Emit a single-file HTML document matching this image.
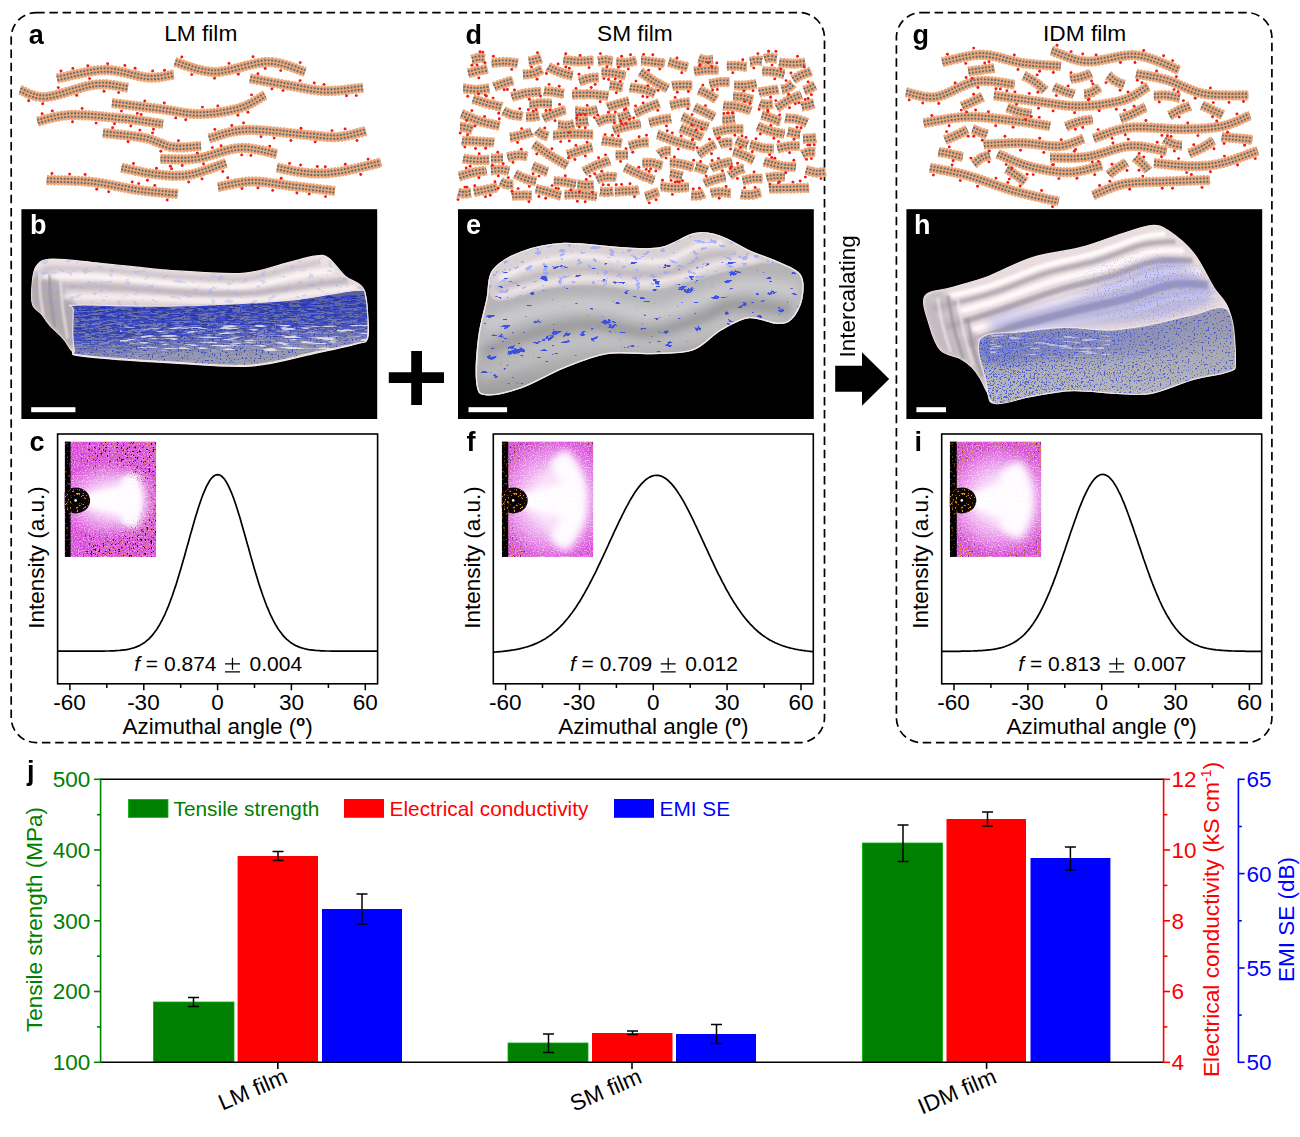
<!DOCTYPE html><html><head><meta charset="utf-8"><title>Figure</title>
<style>html,body{margin:0;padding:0;background:#fff}svg{display:block}text{font-family:"Liberation Sans",sans-serif}</style></head><body>
<svg width="1300" height="1137" viewBox="0 0 1300 1137">
<defs>
<filter id="nBlack" x="0" y="0" width="100%" height="100%" color-interpolation-filters="sRGB"><feTurbulence type="fractalNoise" baseFrequency="0.5" numOctaves="1" seed="3"/><feColorMatrix type="matrix" values="0 0 0 0 0.05 0 0 0 0 0 0 0 0 0 0.12 16 0 0 0 -10.4"/></filter>
<filter id="nBlackB" x="0" y="0" width="100%" height="100%" color-interpolation-filters="sRGB"><feTurbulence type="fractalNoise" baseFrequency="0.5" numOctaves="1" seed="33"/><feColorMatrix type="matrix" values="0 0 0 0 0.05 0 0 0 0 0 0 0 0 0 0.12 16 0 0 0 -10.24"/></filter>
<filter id="nOrange" x="0" y="0" width="100%" height="100%" color-interpolation-filters="sRGB"><feTurbulence type="fractalNoise" baseFrequency="0.5" numOctaves="1" seed="11"/><feColorMatrix type="matrix" values="0 0 0 0 0.85 0 0 0 0 0.55 0 0 0 0 0.12 16 0 0 0 -9.84"/></filter>
<filter id="nOrangeB" x="0" y="0" width="100%" height="100%" color-interpolation-filters="sRGB"><feTurbulence type="fractalNoise" baseFrequency="0.5" numOctaves="1" seed="47"/><feColorMatrix type="matrix" values="0 0 0 0 0.85 0 0 0 0 0.55 0 0 0 0 0.12 16 0 0 0 -9.6"/></filter>
<filter id="nWhite" x="0" y="0" width="100%" height="100%" color-interpolation-filters="sRGB"><feTurbulence type="fractalNoise" baseFrequency="0.8" numOctaves="1" seed="5"/><feColorMatrix type="matrix" values="0 0 0 0 1 0 0 0 0 0.92 0 0 0 0 1 6 0 0 0 -3.0"/></filter>
<filter id="nMag" x="0" y="0" width="100%" height="100%" color-interpolation-filters="sRGB"><feTurbulence type="fractalNoise" baseFrequency="0.7" numOctaves="1" seed="8"/><feColorMatrix type="matrix" values="0 0 0 0 0.83 0 0 0 0 0.25 0 0 0 0 0.85 6 0 0 0 -3.12"/></filter>
<filter id="nOrange2" x="0" y="0" width="100%" height="100%" color-interpolation-filters="sRGB"><feTurbulence type="fractalNoise" baseFrequency="0.5" numOctaves="1" seed="21"/><feColorMatrix type="matrix" values="0 0 0 0 0.93 0 0 0 0 0.6 0 0 0 0 0.1 16 0 0 0 -9.6"/></filter>
<filter id="ctB1" x="0" y="0" width="100%" height="100%" color-interpolation-filters="sRGB"><feTurbulence type="fractalNoise" baseFrequency="0.07 0.55" numOctaves="3" seed="4"/><feColorMatrix type="matrix" values="0 0 0 0 0.2 0 0 0 0 0.27 0 0 0 0 0.8 12 0 0 0 -5.699999999999999"/></filter>
<filter id="ctB1b" x="0" y="0" width="100%" height="100%" color-interpolation-filters="sRGB"><feTurbulence type="fractalNoise" baseFrequency="0.12 0.7" numOctaves="2" seed="9"/><feColorMatrix type="matrix" values="0 0 0 0 0.13 0 0 0 0 0.18 0 0 0 0 0.62 12 0 0 0 -6.24"/></filter>
<filter id="ctB2" x="0" y="0" width="100%" height="100%" color-interpolation-filters="sRGB"><feTurbulence type="fractalNoise" baseFrequency="0.08 0.2" numOctaves="3" seed="6"/><feColorMatrix type="matrix" values="0 0 0 0 0.24 0 0 0 0 0.32 0 0 0 0 0.9 30 0 0 0 -21.0"/></filter>
<filter id="ctB2t" x="0" y="0" width="100%" height="100%" color-interpolation-filters="sRGB"><feTurbulence type="fractalNoise" baseFrequency="0.12 0.2" numOctaves="3" seed="16"/><feColorMatrix type="matrix" values="0 0 0 0 0.58 0 0 0 0 0.63 0 0 0 0 1 24 0 0 0 -15.600000000000001"/></filter>
<filter id="ctB3" x="0" y="0" width="100%" height="100%" color-interpolation-filters="sRGB"><feTurbulence type="fractalNoise" baseFrequency="0.75" numOctaves="1" seed="2"/><feColorMatrix type="matrix" values="0 0 0 0 0.25 0 0 0 0 0.33 0 0 0 0 0.88 14 0 0 0 -8.19"/></filter>
<filter id="ctB3t" x="0" y="0" width="100%" height="100%" color-interpolation-filters="sRGB"><feTurbulence type="fractalNoise" baseFrequency="0.75" numOctaves="1" seed="12"/><feColorMatrix type="matrix" values="0 0 0 0 0.48 0 0 0 0 0.54 0 0 0 0 0.98 12 0 0 0 -7.199999999999999"/></filter>
<filter id="ctW" x="0" y="0" width="100%" height="100%" color-interpolation-filters="sRGB"><feTurbulence type="fractalNoise" baseFrequency="0.05 0.4" numOctaves="2" seed="31"/><feColorMatrix type="matrix" values="0 0 0 0 1 0 0 0 0 0.97 0 0 0 0 0.98 9 0 0 0 -5.040000000000001"/></filter>
<filter id="ctB4" x="0" y="0" width="100%" height="100%" color-interpolation-filters="sRGB"><feTurbulence type="fractalNoise" baseFrequency="0.5" numOctaves="1" seed="41"/><feColorMatrix type="matrix" values="0 0 0 0 0.22 0 0 0 0 0.3 0 0 0 0 0.85 16 0 0 0 -10.24"/></filter>
<filter id="rough" x="-10%" y="-10%" width="120%" height="120%"><feTurbulence type="fractalNoise" baseFrequency="0.35" numOctaves="2" seed="5" result="t"/><feDisplacementMap in="SourceGraphic" in2="t" scale="5" xChannelSelector="R" yChannelSelector="G"/></filter>
<filter id="bl1" x="-20%" y="-20%" width="140%" height="140%"><feGaussianBlur stdDeviation="1"/></filter>
<filter id="bl2" x="-20%" y="-20%" width="140%" height="140%"><feGaussianBlur stdDeviation="2.2"/></filter>
<filter id="bl4" x="-30%" y="-30%" width="160%" height="160%"><feGaussianBlur stdDeviation="4"/></filter>
<filter id="sb2" filterUnits="userSpaceOnUse" x="-20" y="-20" width="140" height="160"><feGaussianBlur stdDeviation="2.2"/></filter>
<filter id="sb4" filterUnits="userSpaceOnUse" x="-20" y="-20" width="140" height="160"><feGaussianBlur stdDeviation="4"/></filter>
<filter id="bl7" x="-30%" y="-30%" width="160%" height="160%"><feGaussianBlur stdDeviation="7"/></filter>
<radialGradient id="sxHalo" cx="0.5" cy="0.5" r="0.5"><stop offset="0" stop-color="#fff" stop-opacity="1"/><stop offset="0.45" stop-color="#fff" stop-opacity="0.75"/><stop offset="1" stop-color="#fff" stop-opacity="0"/></radialGradient>
<radialGradient id="sxEdge" cx="0.5" cy="0.5" r="0.72"><stop offset="0.45" stop-color="#000" stop-opacity="0"/><stop offset="0.8" stop-color="#fff" stop-opacity="1"/></radialGradient>
<symbol id="saxs0" width="91.5" height="115.5" viewBox="0 0 91.5 115.5" overflow="hidden">
<clipPath id="sxc0"><rect width="91.5" height="115.5"/></clipPath>
<mask id="sxm0" maskUnits="userSpaceOnUse" x="0" y="0" width="91.5" height="115.5"><rect width="91.5" height="115.5" fill="#000"/>
<rect width="91.5" height="115.5" fill="#fff"/><ellipse cx="40" cy="59" rx="50" ry="36" fill="#000" filter="url(#bl7)"/><rect x="-5" y="-5" width="26" height="130" fill="#000" opacity="0.75" filter="url(#bl4)"/>
</mask>
<g clip-path="url(#sxc0)">
<rect width="91.5" height="115.5" fill="#da52dd"/>
<ellipse cx="46" cy="59" rx="52" ry="40" fill="url(#sxHalo)" opacity="0.80"/>
<path d="M63.5 34.5 A58 58 0 0 1 63.5 83.5" fill="none" stroke="#fff" stroke-width="21" stroke-linecap="butt" filter="url(#sb4)" opacity="0.9"/>
<path d="M63.5 34.5 A58 58 0 0 1 63.5 83.5" fill="none" stroke="#fff" stroke-width="13" stroke-linecap="butt" filter="url(#sb2)" opacity="1"/>
<path d="M20.9 52 L68.9 40.0 L68.9 78.0 L20.9 66 Z" fill="#fff" filter="url(#sb4)" opacity="0.95"/>
<path d="M22.9 54 L64.9 45.0 L64.9 73.0 L22.9 64 Z" fill="#fff" filter="url(#sb2)" opacity="0.9"/>
<rect width="91.5" height="115.5" filter="url(#nWhite)" opacity="0.55"/>
<g mask="url(#sxm0)">
<rect width="91.5" height="115.5" filter="url(#nMag)" opacity="0.6"/>
<rect width="91.5" height="115.5" filter="url(#nOrange)" opacity="1.00"/>
<rect width="91.5" height="115.5" filter="url(#nBlack)" opacity="1.00"/>
<rect width="91.5" height="115.5" filter="url(#nOrangeB)"/>
<rect width="91.5" height="115.5" filter="url(#nBlackB)"/>
</g>
<rect width="5.9" height="115.5" fill="#000"/>
<clipPath id="sxb0"><ellipse cx="10.9" cy="59" rx="14.5" ry="13"/></clipPath>
<ellipse cx="10.9" cy="59" rx="14.5" ry="13" fill="#0a0206"/>
<g clip-path="url(#sxb0)"><rect x="0" y="40" width="40" height="40" filter="url(#nOrange2)" opacity="0.95"/><circle cx="10.9" cy="59" r="5" fill="#000"/><circle cx="10.9" cy="59" r="1.3" fill="#fff"/></g>
<rect width="5.9" height="115.5" filter="url(#nOrange)" opacity="0.45"/>
</g></symbol>
<symbol id="saxs1" width="91.5" height="115.5" viewBox="0 0 91.5 115.5" overflow="hidden">
<clipPath id="sxc1"><rect width="91.5" height="115.5"/></clipPath>
<mask id="sxm1" maskUnits="userSpaceOnUse" x="0" y="0" width="91.5" height="115.5"><rect width="91.5" height="115.5" fill="#000"/>
<rect width="91.5" height="115.5" fill="#fff"/><ellipse cx="60" cy="59" rx="58" ry="64" fill="#000" filter="url(#bl7)"/>
</mask>
<g clip-path="url(#sxc1)">
<rect width="91.5" height="115.5" fill="#da52dd"/>
<ellipse cx="50" cy="59" rx="60" ry="62" fill="url(#sxHalo)" opacity="0.85"/>
<path d="M56.0 15.9 A62 62 0 0 1 56.0 102.1" fill="none" stroke="#fff" stroke-width="23" stroke-linecap="butt" filter="url(#sb4)" opacity="0.9"/>
<path d="M56.0 15.9 A62 62 0 0 1 56.0 102.1" fill="none" stroke="#fff" stroke-width="15" stroke-linecap="butt" filter="url(#sb4)" opacity="0.95"/>
<path d="M19.4 59 L56.0 15.9 A62 62 0 0 1 56.0 102.1 Z" fill="#fff" opacity="0.4" filter="url(#sb4)"/>
<path d="M21.4 52 L73.4 39.0 L73.4 79.0 L21.4 66 Z" fill="#fff" filter="url(#sb4)" opacity="0.95"/>
<path d="M23.4 54 L69.4 44.0 L69.4 74.0 L23.4 64 Z" fill="#fff" filter="url(#sb2)" opacity="0.9"/>
<rect width="91.5" height="115.5" filter="url(#nWhite)" opacity="0.55"/>
<g mask="url(#sxm1)">
<rect width="91.5" height="115.5" filter="url(#nMag)" opacity="0.6"/>
<rect width="91.5" height="115.5" filter="url(#nOrange)" opacity="0.75"/>
<rect width="91.5" height="115.5" filter="url(#nBlack)" opacity="0.80"/>
</g>
<rect width="6.4" height="115.5" fill="#000"/>
<clipPath id="sxb1"><ellipse cx="11.4" cy="59" rx="14.5" ry="13"/></clipPath>
<ellipse cx="11.4" cy="59" rx="14.5" ry="13" fill="#0a0206"/>
<g clip-path="url(#sxb1)"><rect x="0" y="40" width="40" height="40" filter="url(#nOrange2)" opacity="0.95"/><circle cx="11.4" cy="59" r="5" fill="#000"/><circle cx="11.4" cy="59" r="1.3" fill="#fff"/></g>
<rect width="6.4" height="115.5" filter="url(#nOrange)" opacity="0.45"/>
</g></symbol>
<symbol id="saxs2" width="91.5" height="115.5" viewBox="0 0 91.5 115.5" overflow="hidden">
<clipPath id="sxc2"><rect width="91.5" height="115.5"/></clipPath>
<mask id="sxm2" maskUnits="userSpaceOnUse" x="0" y="0" width="91.5" height="115.5"><rect width="91.5" height="115.5" fill="#000"/>
<rect width="91.5" height="115.5" fill="#fff"/><ellipse cx="50" cy="59" rx="50" ry="52" fill="#000" filter="url(#bl7)"/>
</mask>
<g clip-path="url(#sxc2)">
<rect width="91.5" height="115.5" fill="#da52dd"/>
<ellipse cx="50" cy="59" rx="58" ry="56" fill="url(#sxHalo)" opacity="0.90"/>
<path d="M60.1 26.6 A58 58 0 0 1 60.1 91.4" fill="none" stroke="#fff" stroke-width="26" stroke-linecap="butt" filter="url(#sb4)" opacity="0.9"/>
<path d="M60.1 26.6 A58 58 0 0 1 60.1 91.4" fill="none" stroke="#fff" stroke-width="18" stroke-linecap="butt" filter="url(#sb4)" opacity="0.95"/>
<path d="M20.0 59 L60.1 26.6 A58 58 0 0 1 60.1 91.4 Z" fill="#fff" opacity="0.5" filter="url(#sb4)"/>
<path d="M22.0 52 L70.0 36.0 L70.0 82.0 L22.0 66 Z" fill="#fff" filter="url(#sb4)" opacity="0.95"/>
<path d="M24.0 54 L66.0 41.0 L66.0 77.0 L24.0 64 Z" fill="#fff" filter="url(#sb2)" opacity="0.9"/>
<rect width="91.5" height="115.5" filter="url(#nWhite)" opacity="0.55"/>
<g mask="url(#sxm2)">
<rect width="91.5" height="115.5" filter="url(#nMag)" opacity="0.6"/>
<rect width="91.5" height="115.5" filter="url(#nOrange)" opacity="0.90"/>
<rect width="91.5" height="115.5" filter="url(#nBlack)" opacity="0.55"/>
</g>
<rect width="7.0" height="115.5" fill="#000"/>
<clipPath id="sxb2"><ellipse cx="12.0" cy="59" rx="14.5" ry="13"/></clipPath>
<ellipse cx="12.0" cy="59" rx="14.5" ry="13" fill="#0a0206"/>
<g clip-path="url(#sxb2)"><rect x="0" y="40" width="40" height="40" filter="url(#nOrange2)" opacity="0.95"/><circle cx="12.0" cy="59" r="5" fill="#000"/><circle cx="12.0" cy="59" r="1.3" fill="#fff"/></g>
<rect width="7.0" height="115.5" filter="url(#nOrange)" opacity="0.45"/>
</g></symbol>
</defs>
<rect width="1300" height="1137" fill="#fff"/>
<g fill="none" stroke="#000" stroke-width="1.7" stroke-dasharray="8.5 4.7">
<rect x="11.2" y="12.6" width="813.3" height="730" rx="25" ry="25"/>
<rect x="896.4" y="12.6" width="375.5" height="730" rx="25" ry="25"/>
</g>
<g font-size="22.7" fill="#000">
<text x="164.2" y="40.8">LM film</text>
<text x="597" y="40.8">SM film</text>
<text x="1043" y="40.8">IDM film</text>
</g>
<defs><path id="pl" d="M57.0 78.5 L59.0 78.1 L61.4 77.6 L64.2 77.0 L67.4 76.2 L70.8 75.4 L74.5 74.6 L78.3 73.8 L82.3 73.0 L86.3 72.2 L90.3 71.5 L94.2 70.9 L98.0 70.4 L101.6 70.1 L105.0 70.0 L108.3 70.1 L111.6 70.3 L114.9 70.7 L118.1 71.3 L121.4 71.9 L124.7 72.6 L127.9 73.4 L131.0 74.2 L134.1 74.9 L137.1 75.7 L140.0 76.3 L142.8 76.8 L145.5 77.2 L148.0 77.5 L150.4 77.6 L152.8 77.6 L155.2 77.5 L157.4 77.3 L159.6 77.1 L161.7 76.8 L163.7 76.5 L165.6 76.1 L167.3 75.8 L169.0 75.4 L170.5 75.1 L171.8 74.9 L173.0 74.6 L174.0 74.5 M20.0 90.0 L21.0 90.3 L22.1 90.8 L23.4 91.4 L24.9 92.1 L26.4 92.8 L28.1 93.5 L29.9 94.3 L31.9 95.0 L34.0 95.6 L36.1 96.2 L38.4 96.7 L40.9 97.0 L43.4 97.1 L46.0 97.0 L48.8 96.7 L51.9 96.1 L55.3 95.3 L58.8 94.4 L62.5 93.4 L66.2 92.2 L70.1 91.0 L73.9 89.8 L77.7 88.7 L81.5 87.6 L85.1 86.6 L88.6 85.7 L91.9 85.1 L95.0 84.6 L97.9 84.4 L100.8 84.3 L103.7 84.3 L106.6 84.4 L109.3 84.7 L112.0 85.0 L114.6 85.4 L117.0 85.8 L119.3 86.2 L121.4 86.6 L123.4 87.0 L125.2 87.3 L126.7 87.5 L128.0 87.7 M175.0 62.0 L176.6 62.5 L178.5 63.1 L180.7 63.8 L183.1 64.7 L185.8 65.7 L188.7 66.6 L191.7 67.6 L194.8 68.6 L198.1 69.5 L201.5 70.3 L204.8 71.0 L208.3 71.5 L211.6 71.9 L215.0 72.0 L218.4 71.9 L222.0 71.4 L225.8 70.8 L229.7 70.0 L233.6 69.1 L237.6 68.1 L241.7 67.0 L245.7 65.9 L249.7 64.9 L253.6 64.0 L257.5 63.2 L261.2 62.6 L264.7 62.1 L268.0 62.0 L271.2 62.1 L274.4 62.5 L277.7 63.0 L280.8 63.7 L283.9 64.5 L286.9 65.4 L289.8 66.4 L292.6 67.4 L295.2 68.3 L297.6 69.3 L299.8 70.2 L301.8 70.9 L303.5 71.5 L305.0 72.0 M250.0 78.5 L251.7 78.8 L253.9 79.2 L256.4 79.7 L259.2 80.2 L262.2 80.7 L265.5 81.3 L268.9 81.9 L272.4 82.6 L275.9 83.2 L279.4 83.8 L282.8 84.4 L286.1 85.0 L289.1 85.5 L292.0 86.0 L294.7 86.5 L297.3 86.9 L299.8 87.4 L302.2 87.9 L304.6 88.3 L307.0 88.8 L309.3 89.2 L311.6 89.6 L314.0 89.9 L316.3 90.2 L318.7 90.5 L321.1 90.7 L323.5 90.9 L326.0 91.0 L328.6 91.0 L331.5 90.9 L334.4 90.8 L337.4 90.6 L340.5 90.3 L343.6 90.0 L346.6 89.7 L349.6 89.3 L352.4 89.0 L355.0 88.6 L357.5 88.3 L359.6 88.1 L361.5 87.9 L363.0 87.7 M112.0 103.0 L114.0 103.2 L116.4 103.6 L119.3 103.9 L122.4 104.3 L125.9 104.7 L129.6 105.2 L133.5 105.7 L137.5 106.2 L141.5 106.7 L145.5 107.2 L149.4 107.7 L153.1 108.1 L156.7 108.6 L160.0 109.0 L163.1 109.4 L166.1 109.9 L169.1 110.3 L172.0 110.8 L174.9 111.3 L177.7 111.8 L180.5 112.2 L183.3 112.7 L186.0 113.1 L188.8 113.4 L191.6 113.7 L194.4 113.9 L197.2 114.0 L200.0 114.0 L202.9 113.9 L205.8 113.8 L208.8 113.6 L211.9 113.3 L214.9 113.0 L217.9 112.6 L220.9 112.1 L223.9 111.6 L226.8 111.1 L229.7 110.5 L232.4 109.9 L235.1 109.3 L237.6 108.7 L240.0 108.0 L242.3 107.3 L244.6 106.4 L246.8 105.4 L249.0 104.4 L251.1 103.3 L253.1 102.2 L255.0 101.1 L256.8 100.0 L258.5 99.0 L260.1 98.0 L261.6 97.1 L262.9 96.2 L264.0 95.5 L265.0 95.0 M37.5 121.5 L38.8 121.2 L40.4 120.8 L42.1 120.4 L44.1 119.8 L46.2 119.2 L48.5 118.6 L51.0 118.0 L53.6 117.4 L56.3 116.8 L59.1 116.3 L62.0 115.8 L65.0 115.5 L68.0 115.2 L71.0 115.0 L74.2 114.9 L77.6 115.0 L81.1 115.1 L84.9 115.2 L88.7 115.4 L92.6 115.7 L96.6 116.0 L100.6 116.3 L104.6 116.7 L108.5 117.1 L112.3 117.4 L116.0 117.8 L119.6 118.2 L123.0 118.5 L126.3 118.8 L129.7 119.2 L133.1 119.6 L136.5 120.1 L139.8 120.5 L143.1 121.0 L146.2 121.5 L149.3 121.9 L152.2 122.4 L154.8 122.8 L157.3 123.1 L159.5 123.5 L161.4 123.8 L163.0 124.0 M103.0 133.0 L104.7 133.2 L106.9 133.4 L109.5 133.7 L112.4 133.9 L115.5 134.3 L118.8 134.6 L122.3 134.9 L125.8 135.3 L129.4 135.7 L132.9 136.1 L136.2 136.6 L139.4 137.0 L142.4 137.5 L145.0 138.0 L147.4 138.5 L149.6 139.2 L151.7 139.8 L153.7 140.6 L155.7 141.3 L157.5 142.1 L159.3 142.9 L161.1 143.6 L162.8 144.4 L164.6 145.0 L166.4 145.7 L168.2 146.2 L170.0 146.7 L172.0 147.0 L174.1 147.2 L176.3 147.4 L178.6 147.4 L181.0 147.4 L183.4 147.3 L185.8 147.2 L188.2 147.1 L190.5 146.9 L192.7 146.7 L194.8 146.5 L196.7 146.3 L198.4 146.2 L199.8 146.1 L201.0 146.0 M209.0 138.5 L210.4 138.1 L212.1 137.6 L214.0 137.0 L216.1 136.3 L218.5 135.5 L221.0 134.7 L223.6 133.9 L226.5 133.1 L229.4 132.4 L232.5 131.7 L235.8 131.1 L239.1 130.6 L242.5 130.2 L246.0 130.0 L249.7 129.9 L253.8 130.0 L258.2 130.2 L262.8 130.5 L267.6 130.9 L272.5 131.4 L277.4 131.8 L282.4 132.4 L287.2 132.9 L291.9 133.4 L296.4 133.9 L300.6 134.3 L304.5 134.7 L308.0 135.0 L311.1 135.3 L314.0 135.5 L316.6 135.8 L319.0 136.0 L321.2 136.3 L323.2 136.5 L325.1 136.7 L327.0 136.9 L328.7 137.0 L330.5 137.1 L332.3 137.2 L334.1 137.2 L336.0 137.1 L338.0 137.0 L340.1 136.8 L342.3 136.5 L344.6 136.1 L347.0 135.7 L349.3 135.2 L351.6 134.7 L353.9 134.1 L356.1 133.6 L358.1 133.0 L360.1 132.5 L361.9 132.0 L363.5 131.6 L364.9 131.3 L366.0 131.0 M160.6 159.0 L162.1 159.0 L163.8 159.0 L165.9 159.1 L168.2 159.2 L170.6 159.3 L173.3 159.3 L176.1 159.4 L179.0 159.4 L182.0 159.4 L185.1 159.4 L188.1 159.3 L191.1 159.1 L194.1 158.8 L197.0 158.5 L199.9 158.0 L202.8 157.4 L205.9 156.6 L209.0 155.7 L212.1 154.8 L215.3 153.8 L218.5 152.8 L221.6 151.9 L224.8 150.9 L228.0 150.1 L231.1 149.3 L234.1 148.7 L237.1 148.3 L240.0 148.0 L242.9 147.9 L245.9 148.0 L249.0 148.3 L252.1 148.7 L255.2 149.2 L258.2 149.7 L261.2 150.3 L264.0 151.0 L266.8 151.6 L269.3 152.2 L271.6 152.8 L273.7 153.3 L275.5 153.7 L277.0 154.0 M121.5 167.7 L122.8 168.0 L124.4 168.3 L126.3 168.7 L128.4 169.2 L130.6 169.7 L133.1 170.2 L135.6 170.8 L138.3 171.3 L140.9 171.9 L143.7 172.4 L146.4 172.9 L149.0 173.3 L151.6 173.7 L154.0 174.0 L156.4 174.3 L158.7 174.5 L161.1 174.8 L163.5 175.1 L165.9 175.3 L168.3 175.5 L170.7 175.6 L173.1 175.8 L175.5 175.8 L178.0 175.8 L180.4 175.7 L182.9 175.6 L185.4 175.3 L188.0 175.0 L190.7 174.5 L193.6 173.9 L196.6 173.1 L199.7 172.2 L202.8 171.2 L206.0 170.1 L209.1 169.1 L212.2 168.0 L215.1 166.9 L217.8 165.9 L220.3 165.0 L222.5 164.2 L224.4 163.5 L226.0 163.0 M277.0 167.7 L278.3 167.9 L279.8 168.2 L281.6 168.6 L283.6 169.0 L285.8 169.5 L288.2 169.9 L290.6 170.4 L293.2 170.9 L295.7 171.4 L298.3 171.8 L300.9 172.2 L303.4 172.5 L305.7 172.8 L308.0 173.0 L310.1 173.1 L312.2 173.3 L314.3 173.4 L316.3 173.4 L318.3 173.5 L320.2 173.5 L322.2 173.4 L324.3 173.4 L326.4 173.2 L328.5 173.1 L330.7 172.9 L333.0 172.6 L335.5 172.3 L338.0 172.0 L340.8 171.6 L343.8 171.0 L347.1 170.4 L350.6 169.6 L354.2 168.8 L357.8 168.0 L361.4 167.2 L364.9 166.4 L368.3 165.5 L371.5 164.8 L374.4 164.1 L377.0 163.4 L379.2 162.9 L381.0 162.5 M46.8 180.0 L48.6 180.1 L50.9 180.1 L53.5 180.2 L56.4 180.3 L59.6 180.3 L63.0 180.4 L66.5 180.5 L70.2 180.6 L73.9 180.8 L77.7 180.9 L81.4 181.1 L85.1 181.4 L88.6 181.7 L92.0 182.0 L95.3 182.4 L98.6 182.9 L101.9 183.4 L105.3 184.0 L108.6 184.6 L112.0 185.2 L115.3 185.9 L118.7 186.5 L122.0 187.2 L125.3 187.8 L128.5 188.4 L131.7 189.0 L134.9 189.5 L138.0 190.0 L141.1 190.4 L144.4 190.8 L147.7 191.2 L151.0 191.6 L154.4 191.9 L157.7 192.2 L160.9 192.5 L164.0 192.8 L166.9 193.0 L169.7 193.3 L172.2 193.5 L174.4 193.7 L176.4 193.8 L178.0 194.0 M218.0 187.0 L219.4 186.8 L221.0 186.4 L222.9 186.0 L225.1 185.5 L227.4 185.0 L229.9 184.5 L232.5 184.0 L235.2 183.4 L238.0 183.0 L240.9 182.5 L243.7 182.1 L246.5 181.8 L249.3 181.6 L252.0 181.5 L254.7 181.5 L257.4 181.6 L260.1 181.8 L262.9 182.0 L265.7 182.3 L268.6 182.7 L271.4 183.1 L274.3 183.5 L277.2 183.9 L280.2 184.4 L283.1 184.8 L286.1 185.2 L289.0 185.6 L292.0 186.0 L295.1 186.4 L298.4 186.7 L301.8 187.1 L305.3 187.5 L308.9 188.0 L312.5 188.4 L316.0 188.8 L319.4 189.2 L322.7 189.6 L325.8 189.9 L328.6 190.3 L331.1 190.5 L333.2 190.8 L335.0 191.0 M942.3 62.2 L943.9 61.8 L945.9 61.3 L948.2 60.8 L950.8 60.1 L953.6 59.4 L956.7 58.7 L959.8 57.9 L963.1 57.2 L966.4 56.6 L969.7 56.0 L973.0 55.4 L976.2 55.1 L979.4 54.8 L982.3 54.8 L985.2 54.9 L988.0 55.2 L990.9 55.6 L993.8 56.2 L996.7 56.8 L999.5 57.5 L1002.4 58.3 L1005.3 59.1 L1008.1 59.9 L1011.0 60.6 L1013.8 61.4 L1016.7 62.0 L1019.5 62.6 L1022.3 63.1 L1025.2 63.5 L1028.2 63.8 L1031.3 64.1 L1034.5 64.4 L1037.7 64.7 L1040.9 64.9 L1044.0 65.1 L1047.1 65.3 L1049.9 65.5 L1052.6 65.7 L1055.1 65.8 L1057.3 65.9 L1059.2 66.0 L1060.8 66.2 M1051.5 50.8 L1052.9 51.2 L1054.6 51.9 L1056.5 52.7 L1058.7 53.6 L1061.0 54.5 L1063.5 55.5 L1066.2 56.5 L1068.9 57.5 L1071.8 58.5 L1074.8 59.4 L1077.8 60.2 L1080.8 60.8 L1083.9 61.3 L1086.9 61.5 L1090.0 61.6 L1093.3 61.4 L1096.7 61.0 L1100.2 60.4 L1103.7 59.7 L1107.4 59.0 L1111.1 58.2 L1114.8 57.4 L1118.5 56.7 L1122.1 56.1 L1125.8 55.6 L1129.3 55.3 L1132.8 55.2 L1136.2 55.4 L1139.5 55.8 L1143.0 56.5 L1146.6 57.4 L1150.2 58.5 L1153.8 59.7 L1157.3 61.0 L1160.8 62.4 L1164.1 63.8 L1167.3 65.1 L1170.2 66.4 L1173.0 67.6 L1175.4 68.6 L1177.5 69.5 L1179.2 70.2 M906.0 92.3 L907.2 92.5 L908.6 92.9 L910.3 93.4 L912.1 93.9 L914.1 94.4 L916.3 95.0 L918.6 95.6 L921.0 96.1 L923.4 96.6 L925.9 96.9 L928.5 97.2 L931.1 97.3 L933.6 97.2 L936.2 96.9 L938.7 96.4 L941.4 95.6 L944.1 94.6 L946.9 93.4 L949.8 92.1 L952.7 90.8 L955.6 89.3 L958.6 87.9 L961.6 86.5 L964.6 85.2 L967.5 84.0 L970.4 82.9 L973.3 82.1 L976.2 81.5 L979.0 81.2 L982.1 81.0 L985.2 81.0 L988.4 81.2 L991.6 81.4 L994.8 81.7 L997.9 82.1 L1000.9 82.5 L1003.8 83.0 L1006.5 83.4 L1008.9 83.8 L1011.2 84.2 L1013.1 84.4 L1014.6 84.6 M994.0 95.4 L995.8 95.6 L998.0 96.0 L1000.5 96.3 L1003.3 96.7 L1006.4 97.2 L1009.7 97.7 L1013.2 98.2 L1016.7 98.7 L1020.3 99.2 L1024.0 99.7 L1027.6 100.2 L1031.1 100.7 L1034.5 101.1 L1037.7 101.5 L1040.8 101.9 L1043.9 102.4 L1047.0 102.8 L1050.0 103.3 L1053.1 103.7 L1056.2 104.2 L1059.3 104.6 L1062.3 105.0 L1065.4 105.4 L1068.5 105.7 L1071.5 105.9 L1074.6 106.1 L1077.7 106.2 L1080.8 106.2 L1083.9 106.1 L1087.1 105.9 L1090.3 105.7 L1093.6 105.4 L1096.9 105.1 L1100.2 104.7 L1103.5 104.2 L1106.7 103.7 L1109.8 103.2 L1112.9 102.6 L1115.8 102.0 L1118.7 101.4 L1121.3 100.7 L1123.8 100.0 L1126.2 99.2 L1128.5 98.3 L1130.8 97.3 L1132.9 96.2 L1135.0 95.1 L1137.0 93.9 L1138.8 92.7 L1140.6 91.5 L1142.2 90.4 L1143.8 89.3 L1145.1 88.3 L1146.4 87.5 L1147.5 86.7 L1148.5 86.2 M1136.2 73.8 L1137.4 74.1 L1138.9 74.3 L1140.6 74.6 L1142.5 74.9 L1144.6 75.3 L1146.9 75.6 L1149.2 76.1 L1151.7 76.5 L1154.2 77.0 L1156.8 77.5 L1159.4 78.1 L1161.9 78.7 L1164.5 79.3 L1166.9 80.0 L1169.4 80.8 L1171.8 81.7 L1174.3 82.7 L1176.8 83.8 L1179.3 84.9 L1181.9 86.0 L1184.5 87.2 L1187.2 88.4 L1189.8 89.5 L1192.6 90.6 L1195.3 91.6 L1198.1 92.4 L1201.0 93.2 L1203.8 93.8 L1206.9 94.3 L1210.2 94.7 L1213.7 95.0 L1217.3 95.2 L1221.0 95.4 L1224.8 95.4 L1228.5 95.5 L1232.1 95.5 L1235.5 95.5 L1238.7 95.4 L1241.7 95.4 L1244.4 95.4 L1246.6 95.4 L1248.5 95.4 M923.8 123.1 L925.6 122.8 L927.7 122.4 L930.2 122.0 L932.9 121.5 L935.9 120.9 L939.1 120.4 L942.5 119.8 L946.0 119.2 L949.5 118.6 L953.1 118.1 L956.7 117.7 L960.2 117.3 L963.6 117.1 L966.9 116.9 L970.1 116.9 L973.4 116.9 L976.8 117.0 L980.2 117.2 L983.6 117.4 L987.0 117.7 L990.4 118.0 L993.8 118.4 L997.1 118.8 L1000.5 119.1 L1003.7 119.5 L1006.9 119.9 L1010.1 120.3 L1013.1 120.6 L1016.1 121.0 L1019.2 121.4 L1022.3 121.8 L1025.4 122.2 L1028.5 122.7 L1031.5 123.2 L1034.4 123.6 L1037.2 124.1 L1039.9 124.5 L1042.4 124.9 L1044.7 125.3 L1046.7 125.6 L1048.5 125.9 L1050.0 126.2 M1093.7 138.5 L1095.1 138.0 L1096.8 137.4 L1098.8 136.6 L1101.0 135.8 L1103.3 134.9 L1105.9 134.0 L1108.6 133.0 L1111.4 132.0 L1114.4 131.1 L1117.4 130.2 L1120.5 129.4 L1123.7 128.7 L1126.8 128.1 L1130.0 127.7 L1133.3 127.4 L1136.7 127.3 L1140.4 127.3 L1144.1 127.4 L1148.0 127.5 L1151.9 127.7 L1155.9 128.0 L1159.9 128.2 L1163.9 128.5 L1167.8 128.8 L1171.6 129.0 L1175.3 129.1 L1178.9 129.2 L1182.3 129.2 L1185.6 129.2 L1188.8 129.1 L1191.9 129.0 L1195.0 128.9 L1198.0 128.8 L1201.0 128.6 L1203.8 128.5 L1206.7 128.3 L1209.4 128.0 L1212.1 127.7 L1214.8 127.4 L1217.3 127.0 L1219.9 126.6 L1222.3 126.2 L1224.7 125.6 L1227.2 124.9 L1229.6 124.2 L1231.9 123.3 L1234.2 122.4 L1236.5 121.5 L1238.7 120.6 L1240.7 119.7 L1242.7 118.8 L1244.5 117.9 L1246.1 117.1 L1247.6 116.4 L1248.9 115.8 L1250.0 115.4 M983.8 144.6 L985.4 144.5 L987.3 144.4 L989.6 144.3 L992.1 144.2 L994.8 144.0 L997.7 143.8 L1000.8 143.7 L1003.9 143.5 L1007.1 143.3 L1010.3 143.2 L1013.5 143.1 L1016.6 143.1 L1019.5 143.0 L1022.3 143.1 L1025.0 143.2 L1027.8 143.4 L1030.5 143.6 L1033.3 143.9 L1036.1 144.3 L1038.9 144.6 L1041.6 145.0 L1044.3 145.3 L1047.0 145.7 L1049.6 145.9 L1052.2 146.1 L1054.6 146.2 L1057.0 146.3 L1059.2 146.2 L1061.4 145.9 L1063.6 145.6 L1065.8 145.1 L1067.9 144.5 L1069.9 143.9 L1071.9 143.2 L1073.8 142.5 L1075.7 141.8 L1077.4 141.1 L1079.0 140.4 L1080.4 139.8 L1081.7 139.3 L1082.9 138.8 L1083.8 138.5 M1050.0 157.5 L1051.5 157.5 L1053.3 157.6 L1055.4 157.6 L1057.7 157.7 L1060.2 157.8 L1062.9 157.9 L1065.8 157.9 L1068.7 157.9 L1071.8 157.9 L1074.8 157.9 L1077.9 157.7 L1081.0 157.5 L1084.0 157.3 L1086.9 156.9 L1089.8 156.4 L1092.8 155.8 L1095.9 155.0 L1099.0 154.1 L1102.1 153.2 L1105.3 152.2 L1108.5 151.2 L1111.6 150.2 L1114.8 149.2 L1118.0 148.4 L1121.1 147.6 L1124.1 146.9 L1127.1 146.5 L1130.0 146.2 L1132.9 146.0 L1135.9 146.1 L1139.0 146.3 L1142.1 146.6 L1145.2 147.1 L1148.2 147.6 L1151.2 148.1 L1154.0 148.7 L1156.7 149.2 L1159.2 149.8 L1161.6 150.3 L1163.6 150.8 L1165.4 151.1 L1166.9 151.4 M997.7 153.8 L998.9 154.4 L1000.4 155.0 L1002.1 155.8 L1004.0 156.6 L1006.0 157.6 L1008.2 158.6 L1010.6 159.6 L1013.0 160.7 L1015.5 161.7 L1018.1 162.7 L1020.7 163.7 L1023.3 164.6 L1025.9 165.4 L1028.5 166.2 L1031.0 166.8 L1033.7 167.5 L1036.5 168.1 L1039.4 168.7 L1042.3 169.3 L1045.3 169.9 L1048.3 170.4 L1051.3 170.9 L1054.3 171.3 L1057.2 171.7 L1060.1 172.0 L1063.0 172.2 L1065.8 172.3 L1068.5 172.3 L1071.1 172.2 L1073.9 172.0 L1076.7 171.6 L1079.6 171.1 L1082.4 170.6 L1085.2 170.0 L1087.9 169.3 L1090.5 168.6 L1093.0 168.0 L1095.3 167.4 L1097.4 166.8 L1099.3 166.3 L1100.9 165.8 L1102.3 165.5 M1154.0 163.1 L1155.5 163.2 L1157.5 163.4 L1159.7 163.6 L1162.2 163.9 L1164.9 164.2 L1167.8 164.5 L1170.8 164.8 L1174.0 165.1 L1177.1 165.4 L1180.2 165.6 L1183.3 165.8 L1186.2 166.0 L1189.0 166.1 L1191.5 166.2 L1193.9 166.1 L1196.2 166.1 L1198.5 166.1 L1200.7 166.0 L1202.8 165.9 L1205.0 165.8 L1207.1 165.6 L1209.2 165.4 L1211.3 165.1 L1213.4 164.8 L1215.5 164.5 L1217.7 164.1 L1220.0 163.6 L1222.3 163.1 L1224.8 162.5 L1227.4 161.7 L1230.2 160.8 L1233.1 159.9 L1236.1 158.9 L1239.0 157.8 L1241.9 156.7 L1244.8 155.7 L1247.5 154.6 L1250.0 153.7 L1252.4 152.8 L1254.5 152.0 L1256.2 151.3 L1257.7 150.8 M930.0 167.7 L931.5 168.0 L933.3 168.3 L935.3 168.7 L937.6 169.1 L940.1 169.6 L942.8 170.0 L945.6 170.6 L948.5 171.1 L951.5 171.8 L954.6 172.4 L957.7 173.1 L960.8 173.8 L963.9 174.6 L966.9 175.4 L969.9 176.3 L973.0 177.2 L976.2 178.3 L979.5 179.4 L982.8 180.5 L986.1 181.7 L989.5 182.9 L992.9 184.1 L996.3 185.3 L999.7 186.5 L1003.1 187.6 L1006.4 188.7 L1009.8 189.8 L1013.1 190.8 L1016.5 191.7 L1020.0 192.6 L1023.7 193.6 L1027.5 194.5 L1031.3 195.4 L1035.0 196.3 L1038.7 197.1 L1042.3 197.9 L1045.7 198.7 L1048.9 199.4 L1051.9 200.0 L1054.5 200.6 L1056.8 201.1 L1058.6 201.5 M1093.1 195.4 L1094.3 194.9 L1095.8 194.3 L1097.4 193.5 L1099.3 192.7 L1101.3 191.8 L1103.5 190.8 L1105.8 189.8 L1108.2 188.9 L1110.7 187.9 L1113.3 186.9 L1115.9 186.1 L1118.5 185.3 L1121.2 184.6 L1123.8 184.0 L1126.5 183.5 L1129.4 183.2 L1132.3 182.9 L1135.3 182.6 L1138.3 182.4 L1141.4 182.3 L1144.6 182.2 L1147.8 182.1 L1151.0 182.0 L1154.3 181.9 L1157.5 181.8 L1160.7 181.8 L1163.8 181.7 L1166.9 181.5 L1170.1 181.4 L1173.5 181.3 L1176.9 181.1 L1180.5 181.0 L1184.1 180.9 L1187.6 180.7 L1191.2 180.6 L1194.6 180.5 L1197.8 180.4 L1200.8 180.3 L1203.6 180.2 L1206.1 180.1 L1208.2 180.1 L1210.0 180.0 M968.4 71.7 L969.0 71.6 L969.6 71.5 L970.4 71.4 L971.2 71.3 L972.1 71.1 L973.1 71.0 L974.1 70.9 L975.2 70.7 L976.2 70.5 L977.3 70.4 L978.4 70.2 L979.4 70.1 L980.4 70.0 L981.4 69.8 L982.3 69.7 L983.3 69.5 L984.4 69.4 L985.5 69.2 L986.5 69.1 L987.6 69.0 L988.7 68.8 L989.7 68.7 L990.7 68.5 L991.6 68.4 L992.4 68.3 L993.2 68.2 L993.8 68.1 L994.3 68.0 M1023.9 75.6 L1024.4 75.8 L1024.9 76.2 L1025.6 76.5 L1026.3 76.9 L1027.2 77.4 L1028.0 77.9 L1028.9 78.4 L1029.9 78.9 L1030.8 79.4 L1031.7 80.0 L1032.7 80.6 L1033.6 81.1 L1034.4 81.7 L1035.2 82.2 L1036.0 82.8 L1036.8 83.4 L1037.6 84.1 L1038.5 84.7 L1039.3 85.4 L1040.2 86.1 L1041.0 86.8 L1041.8 87.5 L1042.5 88.1 L1043.2 88.7 L1043.9 89.3 L1044.4 89.8 L1044.9 90.2 L1045.3 90.6 M1070.4 79.1 L1070.8 79.0 L1071.3 78.9 L1071.9 78.8 L1072.6 78.7 L1073.4 78.6 L1074.2 78.5 L1075.0 78.3 L1075.9 78.2 L1076.8 78.0 L1077.7 77.9 L1078.5 77.7 L1079.4 77.5 L1080.2 77.3 L1081.0 77.1 L1081.7 76.9 L1082.6 76.6 L1083.4 76.4 L1084.2 76.1 L1085.1 75.8 L1085.9 75.5 L1086.7 75.2 L1087.5 74.9 L1088.3 74.6 L1089.0 74.3 L1089.7 74.1 L1090.3 73.9 L1090.8 73.7 L1091.2 73.5 M1053.7 87.1 L1054.1 87.3 L1054.6 87.5 L1055.2 87.7 L1055.8 88.0 L1056.5 88.3 L1057.3 88.6 L1058.1 88.9 L1058.9 89.2 L1059.7 89.6 L1060.6 89.9 L1061.4 90.2 L1062.2 90.6 L1063.0 90.8 L1063.7 91.1 L1064.5 91.4 L1065.3 91.7 L1066.1 91.9 L1066.9 92.2 L1067.8 92.5 L1068.6 92.8 L1069.5 93.0 L1070.3 93.3 L1071.1 93.5 L1071.8 93.8 L1072.4 94.0 L1073.0 94.2 L1073.5 94.3 L1074.0 94.5 M1084.5 94.3 L1084.8 94.3 L1085.2 94.2 L1085.7 94.0 L1086.3 93.9 L1086.9 93.8 L1087.5 93.6 L1088.2 93.5 L1088.8 93.3 L1089.5 93.1 L1090.2 92.9 L1090.9 92.7 L1091.5 92.5 L1092.1 92.2 L1092.7 92.0 L1093.3 91.7 L1093.9 91.4 L1094.4 91.0 L1095.0 90.6 L1095.6 90.2 L1096.2 89.8 L1096.8 89.4 L1097.3 89.0 L1097.9 88.6 L1098.3 88.3 L1098.8 87.9 L1099.2 87.6 L1099.5 87.4 L1099.8 87.2 M1108.2 75.4 L1108.5 75.6 L1108.8 75.9 L1109.2 76.3 L1109.7 76.7 L1110.2 77.2 L1110.7 77.6 L1111.2 78.1 L1111.8 78.6 L1112.4 79.1 L1113.0 79.6 L1113.6 80.1 L1114.2 80.5 L1114.8 80.9 L1115.4 81.3 L1116.0 81.6 L1116.7 81.9 L1117.3 82.2 L1118.1 82.5 L1118.8 82.8 L1119.5 83.1 L1120.2 83.3 L1120.9 83.6 L1121.6 83.8 L1122.2 84.0 L1122.8 84.2 L1123.3 84.3 L1123.8 84.5 L1124.1 84.6 M962.0 106.4 L962.4 106.2 L963.0 106.0 L963.6 105.7 L964.2 105.4 L965.0 105.1 L965.8 104.7 L966.6 104.4 L967.5 104.0 L968.3 103.6 L969.2 103.2 L970.1 102.8 L970.9 102.4 L971.7 102.0 L972.5 101.7 L973.3 101.3 L974.1 100.9 L974.9 100.5 L975.8 100.1 L976.7 99.7 L977.5 99.3 L978.4 98.9 L979.2 98.5 L980.0 98.1 L980.7 97.7 L981.4 97.4 L982.0 97.1 L982.5 96.9 L982.9 96.7 M1007.3 107.6 L1007.8 107.8 L1008.4 108.0 L1009.0 108.3 L1009.8 108.6 L1010.6 108.9 L1011.5 109.2 L1012.4 109.6 L1013.3 110.0 L1014.3 110.3 L1015.2 110.7 L1016.2 111.0 L1017.1 111.3 L1018.1 111.6 L1018.9 111.9 L1019.8 112.1 L1020.7 112.3 L1021.7 112.5 L1022.7 112.7 L1023.7 112.9 L1024.8 113.0 L1025.7 113.2 L1026.7 113.3 L1027.6 113.5 L1028.5 113.6 L1029.3 113.7 L1030.0 113.8 L1030.6 113.9 L1031.1 114.0 M1153.9 95.8 L1154.4 95.8 L1155.1 95.7 L1155.8 95.7 L1156.7 95.6 L1157.6 95.6 L1158.6 95.5 L1159.7 95.5 L1160.7 95.5 L1161.8 95.4 L1162.9 95.4 L1164.0 95.4 L1165.1 95.4 L1166.1 95.5 L1167.0 95.5 L1168.0 95.6 L1169.0 95.8 L1170.1 95.9 L1171.1 96.1 L1172.2 96.3 L1173.3 96.6 L1174.3 96.8 L1175.3 97.0 L1176.3 97.2 L1177.2 97.4 L1178.0 97.6 L1178.8 97.8 L1179.4 98.0 L1180.0 98.1 M1120.5 118.8 L1121.1 118.6 L1121.7 118.3 L1122.4 118.0 L1123.3 117.7 L1124.2 117.4 L1125.2 117.0 L1126.2 116.6 L1127.2 116.2 L1128.3 115.7 L1129.4 115.3 L1130.4 114.9 L1131.5 114.4 L1132.5 114.0 L1133.4 113.6 L1134.3 113.1 L1135.3 112.7 L1136.3 112.1 L1137.3 111.6 L1138.3 111.1 L1139.3 110.5 L1140.3 110.0 L1141.3 109.5 L1142.2 109.0 L1143.0 108.5 L1143.8 108.1 L1144.5 107.7 L1145.1 107.3 L1145.6 107.1 M1169.4 115.6 L1169.8 115.4 L1170.3 115.1 L1170.9 114.8 L1171.5 114.4 L1172.2 114.0 L1173.0 113.5 L1173.8 113.1 L1174.6 112.6 L1175.4 112.1 L1176.3 111.7 L1177.1 111.2 L1177.9 110.8 L1178.7 110.4 L1179.5 110.0 L1180.3 109.7 L1181.1 109.3 L1182.0 109.0 L1182.8 108.6 L1183.7 108.3 L1184.6 107.9 L1185.5 107.6 L1186.4 107.3 L1187.2 107.0 L1188.0 106.7 L1188.7 106.5 L1189.3 106.3 L1189.9 106.1 L1190.3 105.9 M1202.0 105.3 L1202.4 105.5 L1203.0 105.7 L1203.6 106.0 L1204.2 106.3 L1205.0 106.6 L1205.8 107.0 L1206.6 107.4 L1207.4 107.8 L1208.3 108.2 L1209.2 108.6 L1210.0 109.0 L1210.9 109.4 L1211.7 109.8 L1212.5 110.1 L1213.3 110.5 L1214.1 110.9 L1214.9 111.3 L1215.8 111.7 L1216.6 112.1 L1217.5 112.5 L1218.4 112.9 L1219.2 113.3 L1220.0 113.6 L1220.7 114.0 L1221.4 114.3 L1222.0 114.6 L1222.5 114.8 L1222.9 115.0 M1065.9 126.7 L1066.4 126.5 L1067.0 126.2 L1067.8 125.9 L1068.6 125.5 L1069.5 125.1 L1070.5 124.7 L1071.5 124.3 L1072.6 123.9 L1073.6 123.5 L1074.7 123.1 L1075.8 122.7 L1076.9 122.3 L1077.9 122.0 L1078.9 121.7 L1079.9 121.4 L1080.9 121.2 L1082.0 121.0 L1083.1 120.8 L1084.3 120.6 L1085.4 120.4 L1086.5 120.3 L1087.6 120.1 L1088.7 120.0 L1089.7 119.9 L1090.6 119.8 L1091.4 119.7 L1092.0 119.6 L1092.6 119.5 M945.0 140.0 L945.5 139.8 L946.0 139.6 L946.7 139.3 L947.4 139.0 L948.3 138.7 L949.1 138.4 L950.0 138.0 L951.0 137.7 L951.9 137.3 L952.9 136.9 L953.8 136.5 L954.7 136.1 L955.6 135.7 L956.4 135.3 L957.2 135.0 L958.1 134.5 L959.0 134.1 L959.9 133.6 L960.8 133.1 L961.7 132.6 L962.6 132.2 L963.4 131.7 L964.2 131.3 L965.0 130.8 L965.7 130.4 L966.3 130.1 L966.9 129.8 L967.3 129.6 M972.6 129.1 L972.9 129.2 L973.3 129.3 L973.7 129.5 L974.1 129.7 L974.6 130.0 L975.1 130.2 L975.7 130.5 L976.3 130.7 L976.9 131.0 L977.4 131.2 L978.0 131.5 L978.6 131.7 L979.2 131.9 L979.7 132.1 L980.2 132.3 L980.8 132.5 L981.4 132.7 L982.0 132.9 L982.6 133.1 L983.2 133.2 L983.8 133.4 L984.4 133.6 L985.0 133.7 L985.5 133.9 L986.0 134.0 L986.4 134.1 L986.8 134.2 L987.1 134.3 M1164.4 139.3 L1164.7 139.5 L1165.1 139.7 L1165.6 140.0 L1166.1 140.3 L1166.7 140.7 L1167.3 141.1 L1167.9 141.5 L1168.6 141.8 L1169.3 142.2 L1169.9 142.6 L1170.6 143.0 L1171.3 143.3 L1171.9 143.6 L1172.6 143.8 L1173.2 144.0 L1173.9 144.2 L1174.6 144.4 L1175.4 144.6 L1176.2 144.7 L1176.9 144.9 L1177.7 145.0 L1178.4 145.1 L1179.1 145.2 L1179.8 145.3 L1180.4 145.4 L1180.9 145.5 L1181.4 145.6 L1181.8 145.6 M1189.2 153.6 L1189.7 153.4 L1190.3 153.1 L1191.1 152.8 L1191.9 152.5 L1192.8 152.1 L1193.8 151.7 L1194.8 151.3 L1195.9 150.9 L1196.9 150.4 L1198.0 150.0 L1199.0 149.5 L1200.0 149.0 L1201.0 148.6 L1201.9 148.1 L1202.8 147.6 L1203.8 147.1 L1204.7 146.5 L1205.7 145.9 L1206.7 145.3 L1207.6 144.6 L1208.6 144.0 L1209.5 143.4 L1210.3 142.8 L1211.2 142.2 L1211.9 141.7 L1212.6 141.3 L1213.1 140.9 L1213.6 140.6 M1221.8 137.1 L1222.4 137.2 L1223.1 137.2 L1224.0 137.3 L1225.0 137.4 L1226.1 137.4 L1227.3 137.5 L1228.5 137.6 L1229.7 137.7 L1231.0 137.8 L1232.3 137.9 L1233.5 138.0 L1234.8 138.1 L1236.0 138.2 L1237.1 138.3 L1238.2 138.4 L1239.4 138.5 L1240.7 138.6 L1241.9 138.7 L1243.2 138.8 L1244.5 139.0 L1245.7 139.1 L1246.9 139.2 L1248.1 139.3 L1249.1 139.5 L1250.1 139.6 L1251.0 139.7 L1251.8 139.7 L1252.4 139.8 M938.6 151.9 L939.1 152.0 L939.7 152.1 L940.4 152.2 L941.2 152.3 L942.0 152.5 L942.9 152.6 L943.9 152.8 L944.9 153.0 L945.9 153.1 L946.9 153.3 L947.9 153.5 L948.9 153.7 L949.8 153.9 L950.7 154.1 L951.6 154.3 L952.5 154.5 L953.5 154.7 L954.5 154.9 L955.5 155.2 L956.5 155.4 L957.4 155.7 L958.4 155.9 L959.3 156.1 L960.1 156.4 L960.9 156.6 L961.6 156.7 L962.2 156.9 L962.7 157.0 M973.7 164.0 L974.0 163.8 L974.3 163.5 L974.8 163.1 L975.2 162.7 L975.7 162.3 L976.2 161.8 L976.8 161.3 L977.4 160.8 L978.0 160.3 L978.6 159.8 L979.2 159.4 L979.8 158.9 L980.4 158.5 L981.0 158.2 L981.6 157.9 L982.2 157.5 L982.9 157.2 L983.6 156.9 L984.4 156.6 L985.1 156.4 L985.8 156.1 L986.5 155.9 L987.2 155.6 L987.8 155.4 L988.4 155.2 L988.9 155.1 L989.3 154.9 L989.7 154.8 M1108.9 174.8 L1109.2 174.5 L1109.6 174.2 L1110.1 173.8 L1110.7 173.4 L1111.3 172.9 L1111.9 172.4 L1112.6 171.9 L1113.3 171.3 L1114.0 170.8 L1114.7 170.2 L1115.4 169.7 L1116.1 169.2 L1116.8 168.7 L1117.4 168.2 L1118.1 167.8 L1118.8 167.3 L1119.5 166.8 L1120.2 166.3 L1121.0 165.9 L1121.7 165.4 L1122.5 164.9 L1123.2 164.5 L1123.9 164.0 L1124.6 163.6 L1125.2 163.3 L1125.7 163.0 L1126.1 162.7 L1126.5 162.4 M1135.2 157.5 L1135.4 157.7 L1135.8 158.0 L1136.2 158.4 L1136.7 158.7 L1137.2 159.2 L1137.7 159.6 L1138.3 160.1 L1138.8 160.6 L1139.4 161.1 L1140.0 161.6 L1140.6 162.1 L1141.1 162.6 L1141.6 163.1 L1142.1 163.6 L1142.6 164.1 L1143.1 164.6 L1143.6 165.1 L1144.1 165.7 L1144.6 166.3 L1145.1 166.9 L1145.6 167.4 L1146.1 168.0 L1146.5 168.5 L1146.9 169.0 L1147.3 169.5 L1147.7 169.9 L1148.0 170.2 L1148.2 170.5 M1006.7 168.8 L1007.1 169.0 L1007.6 169.4 L1008.1 169.7 L1008.7 170.2 L1009.4 170.6 L1010.1 171.1 L1010.9 171.6 L1011.6 172.1 L1012.4 172.7 L1013.2 173.2 L1014.0 173.8 L1014.8 174.3 L1015.5 174.8 L1016.2 175.3 L1016.9 175.8 L1017.6 176.3 L1018.4 176.8 L1019.2 177.4 L1020.0 178.0 L1020.7 178.5 L1021.5 179.1 L1022.2 179.6 L1022.9 180.1 L1023.6 180.6 L1024.2 181.0 L1024.8 181.4 L1025.2 181.7 L1025.6 182.0 M575.4 110.8 L575.9 110.8 L576.4 110.9 L577.1 111.0 L577.8 111.1 L578.6 111.2 L579.4 111.4 L580.3 111.5 L581.2 111.6 L582.1 111.7 L583.0 111.8 L583.9 111.8 L584.8 111.9 L585.7 111.9 L586.5 111.9 L587.3 111.8 L588.2 111.7 L589.0 111.6 L589.9 111.5 L590.9 111.3 L591.8 111.1 L592.6 110.9 L593.5 110.7 L594.3 110.5 L595.1 110.3 L595.8 110.2 L596.4 110.0 L597.0 109.9 L597.4 109.8 M682.1 116.7 L682.6 116.9 L683.2 117.2 L683.9 117.6 L684.7 118.1 L685.6 118.5 L686.5 119.0 L687.5 119.5 L688.5 120.1 L689.6 120.6 L690.6 121.1 L691.7 121.6 L692.7 122.1 L693.7 122.6 L694.6 123.0 L695.6 123.3 L696.6 123.7 L697.7 124.1 L698.8 124.4 L699.9 124.8 L701.0 125.1 L702.1 125.4 L703.2 125.7 L704.2 126.0 L705.2 126.3 L706.0 126.5 L706.8 126.8 L707.5 126.9 L708.0 127.1 M779.2 62.6 L779.7 62.7 L780.4 62.7 L781.1 62.8 L782.0 62.9 L782.9 63.0 L783.9 63.1 L784.9 63.2 L786.0 63.3 L787.0 63.4 L788.1 63.5 L789.2 63.6 L790.2 63.6 L791.2 63.7 L792.2 63.7 L793.2 63.7 L794.2 63.7 L795.2 63.6 L796.3 63.5 L797.4 63.5 L798.5 63.4 L799.5 63.3 L800.5 63.2 L801.5 63.1 L802.4 63.0 L803.3 62.9 L804.0 62.8 L804.7 62.8 L805.2 62.7 M596.8 179.4 L597.2 179.2 L597.6 179.1 L598.2 178.9 L598.8 178.7 L599.5 178.5 L600.3 178.2 L601.0 178.0 L601.8 177.8 L602.6 177.5 L603.4 177.3 L604.2 177.1 L605.0 177.0 L605.8 176.8 L606.5 176.7 L607.3 176.7 L608.1 176.6 L608.9 176.6 L609.7 176.6 L610.5 176.7 L611.4 176.7 L612.2 176.8 L613.0 176.8 L613.8 176.9 L614.5 177.0 L615.1 177.0 L615.7 177.1 L616.2 177.1 L616.6 177.2 M601.7 72.2 L602.2 72.2 L602.8 72.3 L603.5 72.3 L604.3 72.4 L605.1 72.5 L606.0 72.5 L607.0 72.6 L607.9 72.7 L608.9 72.8 L609.9 72.9 L610.9 73.0 L611.9 73.1 L612.8 73.2 L613.7 73.3 L614.5 73.5 L615.5 73.6 L616.4 73.8 L617.4 74.0 L618.4 74.2 L619.4 74.4 L620.3 74.6 L621.2 74.8 L622.1 74.9 L623.0 75.1 L623.7 75.3 L624.4 75.4 L625.0 75.6 L625.5 75.7 M507.5 157.3 L507.9 157.2 L508.4 157.1 L509.0 156.9 L509.6 156.8 L510.3 156.6 L511.1 156.4 L511.8 156.3 L512.7 156.1 L513.5 155.9 L514.3 155.8 L515.1 155.6 L515.9 155.5 L516.7 155.4 L517.4 155.3 L518.2 155.3 L518.9 155.3 L519.8 155.4 L520.6 155.4 L521.4 155.5 L522.3 155.6 L523.1 155.7 L523.9 155.8 L524.6 155.9 L525.3 156.0 L526.0 156.1 L526.6 156.2 L527.1 156.2 L527.5 156.3 M602.1 140.6 L602.5 140.7 L602.9 140.7 L603.5 140.8 L604.2 140.9 L604.9 141.0 L605.6 141.1 L606.4 141.1 L607.2 141.2 L608.0 141.3 L608.9 141.4 L609.7 141.5 L610.5 141.6 L611.2 141.7 L612.0 141.8 L612.7 141.9 L613.5 142.0 L614.3 142.1 L615.1 142.2 L615.9 142.4 L616.7 142.5 L617.6 142.6 L618.3 142.7 L619.1 142.8 L619.8 142.9 L620.4 143.0 L621.0 143.1 L621.5 143.1 L621.9 143.2 M694.3 71.6 L694.8 71.5 L695.4 71.4 L696.1 71.3 L696.9 71.2 L697.7 71.1 L698.6 70.9 L699.5 70.8 L700.5 70.6 L701.5 70.5 L702.5 70.3 L703.5 70.2 L704.4 70.1 L705.4 70.0 L706.2 69.9 L707.1 69.9 L708.1 69.9 L709.0 69.8 L710.0 69.8 L711.0 69.8 L712.0 69.8 L713.0 69.9 L713.9 69.9 L714.9 69.9 L715.7 69.9 L716.5 69.9 L717.2 69.9 L717.8 70.0 L718.3 70.0 M669.9 162.7 L670.4 162.7 L671.0 162.8 L671.7 162.9 L672.5 163.0 L673.3 163.0 L674.2 163.1 L675.2 163.2 L676.2 163.4 L677.2 163.5 L678.1 163.6 L679.1 163.8 L680.1 163.9 L681.0 164.1 L681.9 164.2 L682.7 164.4 L683.7 164.6 L684.6 164.9 L685.5 165.2 L686.5 165.4 L687.5 165.7 L688.4 166.0 L689.3 166.3 L690.2 166.5 L691.0 166.8 L691.7 167.0 L692.4 167.2 L693.0 167.4 L693.4 167.5 M635.2 113.4 L635.7 113.2 L636.3 112.9 L637.0 112.6 L637.7 112.2 L638.5 111.8 L639.4 111.4 L640.4 110.9 L641.3 110.5 L642.3 110.0 L643.3 109.5 L644.2 109.1 L645.2 108.7 L646.1 108.2 L647.0 107.9 L647.9 107.5 L648.8 107.1 L649.8 106.7 L650.8 106.3 L651.8 105.9 L652.8 105.6 L653.8 105.2 L654.8 104.8 L655.7 104.5 L656.5 104.2 L657.3 103.9 L658.0 103.6 L658.6 103.4 L659.1 103.2 M704.4 183.5 L704.8 183.3 L705.3 183.1 L705.9 182.8 L706.5 182.6 L707.3 182.2 L708.0 181.9 L708.8 181.6 L709.7 181.2 L710.5 180.9 L711.4 180.6 L712.2 180.2 L713.0 179.9 L713.9 179.6 L714.6 179.4 L715.4 179.2 L716.2 178.9 L717.1 178.7 L718.0 178.5 L718.9 178.3 L719.8 178.1 L720.6 177.9 L721.5 177.7 L722.3 177.6 L723.1 177.4 L723.8 177.3 L724.4 177.1 L724.9 177.0 L725.4 176.9 M629.9 87.4 L630.4 87.5 L631.1 87.6 L631.8 87.7 L632.7 87.8 L633.6 87.9 L634.6 88.0 L635.6 88.1 L636.6 88.2 L637.7 88.4 L638.8 88.6 L639.8 88.7 L640.9 88.9 L641.9 89.1 L642.8 89.3 L643.7 89.6 L644.7 89.8 L645.7 90.2 L646.7 90.5 L647.8 90.8 L648.8 91.2 L649.8 91.6 L650.8 91.9 L651.7 92.3 L652.5 92.6 L653.3 92.9 L654.0 93.2 L654.6 93.4 L655.1 93.6 M548.2 67.0 L548.6 67.3 L549.2 67.5 L549.9 67.8 L550.7 68.2 L551.5 68.6 L552.4 69.0 L553.3 69.4 L554.3 69.9 L555.3 70.3 L556.3 70.8 L557.3 71.2 L558.2 71.6 L559.2 71.9 L560.1 72.3 L561.0 72.6 L562.0 72.9 L563.0 73.2 L564.0 73.5 L565.0 73.8 L566.1 74.1 L567.1 74.4 L568.1 74.6 L569.1 74.9 L569.9 75.1 L570.8 75.3 L571.5 75.5 L572.1 75.7 L572.6 75.8 M553.9 181.2 L554.4 181.2 L554.9 181.2 L555.5 181.3 L556.3 181.3 L557.0 181.4 L557.9 181.4 L558.7 181.5 L559.6 181.6 L560.5 181.6 L561.4 181.7 L562.4 181.8 L563.2 181.9 L564.1 182.0 L564.9 182.1 L565.7 182.2 L566.5 182.4 L567.4 182.5 L568.3 182.7 L569.2 182.9 L570.1 183.1 L571.0 183.3 L571.8 183.5 L572.6 183.7 L573.4 183.9 L574.1 184.0 L574.7 184.2 L575.2 184.3 L575.7 184.4 M713.7 132.6 L714.3 132.4 L715.0 132.3 L715.9 132.0 L716.8 131.8 L717.8 131.5 L718.9 131.3 L720.1 131.0 L721.3 130.7 L722.5 130.4 L723.7 130.1 L725.0 129.9 L726.2 129.7 L727.3 129.5 L728.4 129.3 L729.5 129.2 L730.7 129.2 L731.9 129.1 L733.1 129.1 L734.4 129.0 L735.6 129.0 L736.9 129.0 L738.1 129.0 L739.2 129.1 L740.3 129.1 L741.2 129.1 L742.1 129.1 L742.9 129.1 L743.5 129.1 M660.7 186.6 L661.3 186.6 L662.0 186.7 L662.8 186.8 L663.7 186.9 L664.7 187.0 L665.7 187.1 L666.8 187.2 L668.0 187.4 L669.1 187.5 L670.3 187.6 L671.5 187.7 L672.6 187.7 L673.7 187.8 L674.7 187.8 L675.7 187.8 L676.8 187.8 L678.0 187.8 L679.1 187.8 L680.3 187.7 L681.4 187.6 L682.6 187.6 L683.7 187.5 L684.7 187.4 L685.7 187.4 L686.6 187.3 L687.5 187.3 L688.1 187.2 L688.7 187.2 M769.1 188.8 L769.9 188.7 L770.9 188.7 L772.0 188.7 L773.3 188.7 L774.7 188.7 L776.2 188.6 L777.8 188.6 L779.4 188.6 L781.1 188.6 L782.8 188.5 L784.4 188.5 L786.0 188.5 L787.6 188.4 L789.1 188.4 L790.5 188.4 L792.1 188.3 L793.7 188.3 L795.4 188.3 L797.0 188.2 L798.7 188.2 L800.3 188.1 L801.9 188.1 L803.4 188.0 L804.8 188.0 L806.1 187.9 L807.3 187.9 L808.2 187.9 L809.1 187.8 M629.1 146.1 L629.5 146.0 L630.0 145.8 L630.6 145.6 L631.2 145.4 L631.8 145.2 L632.6 145.0 L633.3 144.7 L634.1 144.5 L634.9 144.2 L635.7 144.0 L636.5 143.8 L637.3 143.6 L638.0 143.4 L638.8 143.2 L639.5 143.1 L640.3 143.0 L641.1 142.9 L641.9 142.8 L642.7 142.7 L643.5 142.6 L644.4 142.5 L645.1 142.5 L645.9 142.4 L646.6 142.4 L647.3 142.3 L647.8 142.3 L648.3 142.2 L648.7 142.2 M473.0 99.1 L473.6 99.3 L474.3 99.5 L475.1 99.8 L476.0 100.1 L477.0 100.4 L478.1 100.8 L479.2 101.2 L480.4 101.5 L481.6 101.9 L482.8 102.3 L484.0 102.6 L485.1 103.0 L486.2 103.3 L487.3 103.6 L488.4 103.9 L489.5 104.2 L490.7 104.5 L491.9 104.8 L493.1 105.0 L494.3 105.3 L495.5 105.6 L496.7 105.8 L497.8 106.1 L498.8 106.3 L499.8 106.5 L500.6 106.7 L501.4 106.8 L501.9 107.0 M462.0 140.7 L462.6 140.8 L463.4 140.8 L464.4 140.8 L465.4 140.9 L466.5 140.9 L467.7 141.0 L469.0 141.0 L470.3 141.1 L471.6 141.2 L472.9 141.2 L474.3 141.3 L475.6 141.4 L476.8 141.4 L478.0 141.5 L479.2 141.6 L480.4 141.7 L481.7 141.7 L483.0 141.8 L484.3 141.9 L485.7 142.0 L487.0 142.1 L488.2 142.2 L489.4 142.3 L490.5 142.3 L491.6 142.4 L492.5 142.5 L493.3 142.5 L493.9 142.6 M572.3 94.6 L573.1 94.6 L574.0 94.6 L575.0 94.5 L576.2 94.5 L577.4 94.4 L578.8 94.4 L580.2 94.3 L581.7 94.3 L583.2 94.3 L584.7 94.3 L586.2 94.2 L587.6 94.2 L589.0 94.3 L590.4 94.3 L591.7 94.4 L593.1 94.4 L594.5 94.5 L596.0 94.7 L597.5 94.8 L599.0 94.9 L600.5 95.1 L601.9 95.2 L603.2 95.4 L604.5 95.5 L605.6 95.6 L606.7 95.8 L607.6 95.8 L608.3 95.9 M759.0 92.5 L759.4 92.4 L759.9 92.3 L760.5 92.2 L761.1 92.1 L761.8 92.0 L762.5 91.8 L763.3 91.7 L764.1 91.5 L764.9 91.4 L765.7 91.3 L766.6 91.1 L767.3 91.0 L768.1 90.8 L768.8 90.7 L769.6 90.6 L770.3 90.5 L771.1 90.4 L772.0 90.2 L772.8 90.1 L773.6 90.0 L774.4 89.9 L775.2 89.8 L775.9 89.7 L776.6 89.6 L777.3 89.5 L777.8 89.4 L778.3 89.3 L778.7 89.2 M777.5 148.6 L777.9 148.5 L778.5 148.3 L779.1 148.2 L779.8 148.0 L780.5 147.8 L781.3 147.6 L782.2 147.4 L783.1 147.2 L784.0 147.0 L784.9 146.8 L785.8 146.7 L786.6 146.5 L787.5 146.4 L788.3 146.3 L789.1 146.2 L789.9 146.1 L790.8 146.1 L791.7 146.0 L792.7 146.0 L793.6 146.0 L794.5 146.0 L795.4 146.0 L796.2 146.0 L797.0 146.0 L797.7 146.0 L798.3 146.0 L798.9 146.0 L799.3 146.0 M776.6 107.9 L777.1 107.6 L777.7 107.2 L778.3 106.8 L779.1 106.2 L779.9 105.7 L780.8 105.1 L781.7 104.5 L782.7 103.8 L783.6 103.2 L784.6 102.5 L785.6 101.9 L786.6 101.3 L787.5 100.8 L788.4 100.3 L789.3 99.8 L790.3 99.3 L791.3 98.9 L792.4 98.4 L793.5 97.9 L794.5 97.5 L795.6 97.0 L796.6 96.6 L797.6 96.2 L798.5 95.9 L799.4 95.5 L800.2 95.2 L800.8 95.0 L801.3 94.8 M543.2 118.4 L543.6 118.2 L544.2 117.9 L544.8 117.7 L545.5 117.3 L546.3 117.0 L547.1 116.6 L548.0 116.3 L548.9 115.9 L549.8 115.5 L550.7 115.1 L551.7 114.7 L552.6 114.3 L553.4 114.0 L554.2 113.7 L555.1 113.3 L555.9 113.0 L556.9 112.7 L557.8 112.3 L558.7 112.0 L559.7 111.7 L560.6 111.4 L561.5 111.1 L562.3 110.8 L563.1 110.5 L563.9 110.2 L564.5 110.0 L565.1 109.8 L565.6 109.7 M764.1 161.7 L764.8 161.9 L765.5 162.1 L766.4 162.4 L767.4 162.6 L768.5 162.9 L769.7 163.3 L770.9 163.6 L772.2 163.9 L773.5 164.2 L774.8 164.6 L776.0 164.9 L777.3 165.1 L778.5 165.4 L779.7 165.6 L780.9 165.8 L782.1 166.0 L783.4 166.1 L784.7 166.3 L786.0 166.4 L787.3 166.5 L788.6 166.7 L789.9 166.8 L791.1 166.8 L792.2 166.9 L793.3 167.0 L794.2 167.1 L795.0 167.1 L795.7 167.2 M459.1 176.4 L459.6 176.3 L460.3 176.1 L461.0 175.8 L461.9 175.6 L462.9 175.3 L463.9 174.9 L464.9 174.6 L466.0 174.3 L467.1 174.0 L468.3 173.6 L469.4 173.3 L470.5 173.1 L471.5 172.8 L472.5 172.6 L473.6 172.4 L474.6 172.2 L475.7 172.0 L476.9 171.8 L478.0 171.6 L479.2 171.5 L480.3 171.3 L481.4 171.2 L482.5 171.1 L483.5 171.0 L484.4 170.9 L485.2 170.8 L485.9 170.7 L486.4 170.6 M723.4 105.5 L723.9 105.6 L724.6 105.6 L725.4 105.7 L726.4 105.7 L727.3 105.8 L728.4 105.9 L729.5 105.9 L730.7 106.0 L731.8 106.1 L733.0 106.2 L734.1 106.3 L735.3 106.5 L736.3 106.6 L737.4 106.8 L738.4 107.0 L739.4 107.2 L740.5 107.5 L741.7 107.8 L742.8 108.1 L743.9 108.4 L745.0 108.8 L746.1 109.1 L747.1 109.4 L748.0 109.7 L748.9 110.0 L749.7 110.2 L750.4 110.4 L750.9 110.6 M491.8 63.0 L492.4 63.0 L493.0 62.9 L493.8 62.8 L494.6 62.7 L495.5 62.6 L496.5 62.5 L497.5 62.4 L498.6 62.3 L499.7 62.2 L500.8 62.1 L501.8 62.0 L502.9 62.0 L503.9 61.9 L504.9 61.9 L505.8 62.0 L506.8 62.0 L507.9 62.1 L509.0 62.2 L510.0 62.3 L511.1 62.5 L512.2 62.6 L513.2 62.7 L514.2 62.9 L515.1 63.0 L515.9 63.1 L516.7 63.2 L517.3 63.3 L517.8 63.4 M657.4 134.5 L658.2 134.7 L659.1 135.1 L660.2 135.5 L661.4 136.0 L662.7 136.5 L664.1 137.1 L665.6 137.7 L667.1 138.3 L668.7 138.8 L670.2 139.4 L671.8 140.0 L673.3 140.5 L674.8 141.1 L676.2 141.5 L677.6 142.0 L679.1 142.4 L680.6 142.8 L682.2 143.3 L683.8 143.7 L685.4 144.2 L687.0 144.6 L688.6 145.0 L690.0 145.3 L691.4 145.7 L692.6 146.0 L693.8 146.3 L694.7 146.5 L695.5 146.7 M607.7 107.2 L608.1 107.0 L608.7 106.8 L609.3 106.7 L609.9 106.4 L610.7 106.2 L611.5 105.9 L612.3 105.7 L613.1 105.4 L614.0 105.1 L614.9 104.9 L615.8 104.6 L616.6 104.3 L617.4 104.1 L618.2 103.9 L619.0 103.7 L619.8 103.4 L620.7 103.2 L621.6 103.0 L622.4 102.8 L623.3 102.5 L624.2 102.3 L625.0 102.1 L625.9 101.9 L626.6 101.7 L627.3 101.6 L627.9 101.4 L628.4 101.3 L628.9 101.2 M510.3 137.4 L510.7 137.4 L511.2 137.2 L511.9 137.1 L512.6 137.0 L513.3 136.8 L514.1 136.7 L515.0 136.5 L515.9 136.3 L516.7 136.1 L517.6 135.9 L518.5 135.7 L519.4 135.5 L520.2 135.3 L521.0 135.1 L521.8 134.9 L522.6 134.7 L523.5 134.5 L524.4 134.3 L525.3 134.0 L526.1 133.8 L527.0 133.5 L527.8 133.3 L528.6 133.1 L529.4 132.9 L530.1 132.7 L530.7 132.5 L531.2 132.4 L531.6 132.2 M668.7 61.9 L669.1 62.0 L669.6 62.2 L670.1 62.4 L670.7 62.6 L671.4 62.8 L672.1 63.0 L672.9 63.3 L673.7 63.5 L674.4 63.8 L675.2 64.0 L676.0 64.2 L676.8 64.5 L677.6 64.7 L678.3 64.9 L679.0 65.1 L679.7 65.3 L680.5 65.4 L681.3 65.6 L682.1 65.8 L682.9 66.0 L683.7 66.2 L684.5 66.3 L685.3 66.5 L685.9 66.6 L686.6 66.8 L687.1 66.9 L687.6 67.0 L688.0 67.1 M567.6 154.8 L568.1 154.6 L568.7 154.4 L569.4 154.2 L570.2 153.9 L571.0 153.6 L572.0 153.3 L572.9 153.0 L573.9 152.6 L575.0 152.3 L576.0 151.9 L577.0 151.6 L578.0 151.3 L579.0 151.0 L579.9 150.7 L580.8 150.4 L581.8 150.1 L582.8 149.8 L583.8 149.5 L584.9 149.2 L585.9 148.9 L586.9 148.7 L587.9 148.4 L588.8 148.1 L589.7 147.9 L590.5 147.7 L591.3 147.5 L591.9 147.3 L592.4 147.2 M511.7 97.0 L512.3 96.8 L513.0 96.6 L513.8 96.4 L514.8 96.1 L515.8 95.8 L516.9 95.5 L518.0 95.2 L519.2 94.9 L520.4 94.5 L521.6 94.2 L522.8 93.9 L524.0 93.7 L525.2 93.4 L526.2 93.2 L527.3 93.0 L528.5 92.9 L529.7 92.7 L530.9 92.6 L532.2 92.5 L533.4 92.4 L534.7 92.3 L535.8 92.2 L537.0 92.1 L538.0 92.1 L539.0 92.0 L539.9 92.0 L540.6 91.9 L541.2 91.9 M711.1 168.0 L711.5 167.8 L712.0 167.6 L712.6 167.4 L713.2 167.1 L714.0 166.8 L714.7 166.5 L715.5 166.2 L716.4 165.8 L717.2 165.5 L718.1 165.2 L718.9 164.9 L719.8 164.6 L720.6 164.3 L721.4 164.0 L722.1 163.8 L723.0 163.6 L723.8 163.4 L724.7 163.2 L725.6 163.0 L726.5 162.8 L727.4 162.6 L728.2 162.5 L729.1 162.3 L729.8 162.2 L730.5 162.0 L731.2 161.9 L731.7 161.8 L732.1 161.7 M793.1 79.7 L793.4 79.5 L793.9 79.2 L794.4 78.9 L794.9 78.6 L795.5 78.2 L796.2 77.8 L796.9 77.4 L797.6 77.0 L798.3 76.6 L799.0 76.2 L799.8 75.8 L800.5 75.4 L801.2 75.1 L801.8 74.8 L802.5 74.5 L803.2 74.2 L804.0 73.9 L804.8 73.6 L805.6 73.3 L806.3 73.0 L807.1 72.8 L807.9 72.5 L808.6 72.3 L809.3 72.1 L809.9 71.9 L810.5 71.7 L810.9 71.6 L811.3 71.4 M515.2 173.9 L515.6 174.1 L516.1 174.4 L516.7 174.7 L517.3 175.0 L518.0 175.3 L518.8 175.7 L519.5 176.1 L520.4 176.5 L521.2 176.9 L522.0 177.3 L522.8 177.6 L523.7 178.0 L524.5 178.3 L525.2 178.6 L526.0 178.9 L526.8 179.1 L527.7 179.3 L528.6 179.6 L529.4 179.8 L530.3 180.0 L531.2 180.2 L532.1 180.4 L532.9 180.6 L533.7 180.7 L534.4 180.9 L535.0 181.0 L535.5 181.1 L536.0 181.2 M474.0 192.1 L474.5 192.0 L475.1 191.9 L475.7 191.8 L476.5 191.6 L477.3 191.5 L478.2 191.3 L479.1 191.1 L480.1 190.9 L481.1 190.7 L482.1 190.6 L483.0 190.4 L484.0 190.2 L484.9 190.0 L485.8 189.8 L486.6 189.6 L487.5 189.4 L488.5 189.2 L489.5 189.0 L490.4 188.8 L491.4 188.6 L492.4 188.4 L493.3 188.2 L494.2 188.0 L495.0 187.9 L495.8 187.7 L496.4 187.6 L497.0 187.4 L497.5 187.3 M698.9 90.2 L699.3 90.4 L699.8 90.6 L700.3 90.8 L700.9 91.0 L701.5 91.3 L702.2 91.6 L703.0 91.9 L703.7 92.3 L704.5 92.6 L705.2 92.9 L706.0 93.3 L706.7 93.6 L707.4 94.0 L708.1 94.3 L708.7 94.7 L709.4 95.0 L710.1 95.4 L710.8 95.9 L711.5 96.3 L712.2 96.7 L712.9 97.2 L713.6 97.6 L714.2 98.0 L714.8 98.4 L715.4 98.7 L715.9 99.0 L716.3 99.3 L716.6 99.5 M640.4 71.8 L641.0 72.2 L641.6 72.7 L642.4 73.2 L643.2 73.8 L644.1 74.5 L645.1 75.2 L646.1 76.0 L647.2 76.7 L648.3 77.5 L649.4 78.2 L650.5 79.0 L651.5 79.7 L652.6 80.4 L653.6 81.0 L654.6 81.6 L655.7 82.2 L656.8 82.8 L658.0 83.5 L659.2 84.1 L660.3 84.7 L661.5 85.3 L662.6 85.8 L663.7 86.4 L664.7 86.9 L665.7 87.3 L666.5 87.7 L667.2 88.1 L667.8 88.4 M523.0 74.5 L523.4 74.5 L523.9 74.4 L524.5 74.4 L525.1 74.4 L525.9 74.3 L526.6 74.3 L527.4 74.2 L528.2 74.1 L529.1 74.0 L529.9 73.9 L530.7 73.8 L531.5 73.7 L532.3 73.5 L533.0 73.4 L533.7 73.2 L534.5 72.9 L535.2 72.6 L536.0 72.3 L536.8 72.0 L537.5 71.6 L538.3 71.3 L539.0 71.0 L539.7 70.6 L540.4 70.3 L540.9 70.0 L541.5 69.8 L541.9 69.5 L542.3 69.4 M805.9 170.1 L806.3 170.2 L806.8 170.3 L807.4 170.5 L808.0 170.7 L808.7 170.9 L809.4 171.1 L810.2 171.3 L811.0 171.5 L811.8 171.8 L812.6 172.0 L813.4 172.1 L814.2 172.3 L815.0 172.4 L815.7 172.5 L816.5 172.6 L817.2 172.6 L818.1 172.6 L818.9 172.5 L819.7 172.5 L820.6 172.4 L821.4 172.4 L822.2 172.3 L822.9 172.2 L823.7 172.1 L824.3 172.1 L824.9 172.0 L825.4 172.0 L825.8 171.9 M494.1 86.7 L494.5 86.5 L495.0 86.4 L495.5 86.2 L496.1 86.0 L496.8 85.7 L497.5 85.5 L498.2 85.2 L499.0 84.9 L499.8 84.6 L500.6 84.3 L501.3 84.1 L502.1 83.8 L502.8 83.5 L503.5 83.3 L504.2 83.1 L505.0 82.8 L505.7 82.6 L506.5 82.3 L507.3 82.1 L508.1 81.8 L508.9 81.6 L509.7 81.4 L510.4 81.2 L511.0 81.0 L511.7 80.8 L512.2 80.6 L512.7 80.4 L513.1 80.3 M564.7 194.6 L565.4 194.6 L566.2 194.6 L567.1 194.6 L568.1 194.5 L569.3 194.5 L570.5 194.5 L571.7 194.4 L573.0 194.4 L574.4 194.4 L575.7 194.4 L577.0 194.4 L578.3 194.4 L579.6 194.4 L580.8 194.5 L581.9 194.6 L583.2 194.7 L584.5 194.8 L585.8 195.0 L587.1 195.2 L588.4 195.4 L589.7 195.5 L591.0 195.7 L592.2 195.9 L593.3 196.1 L594.3 196.3 L595.2 196.4 L596.0 196.5 L596.7 196.6 M734.4 85.5 L734.8 85.5 L735.4 85.5 L736.0 85.5 L736.7 85.5 L737.5 85.6 L738.3 85.6 L739.2 85.7 L740.1 85.7 L741.0 85.7 L741.9 85.7 L742.9 85.7 L743.7 85.7 L744.6 85.7 L745.4 85.6 L746.2 85.5 L747.1 85.4 L748.0 85.3 L748.8 85.1 L749.8 85.0 L750.7 84.8 L751.5 84.6 L752.4 84.5 L753.2 84.3 L754.0 84.1 L754.7 84.0 L755.3 83.9 L755.8 83.8 L756.3 83.7 M624.8 167.3 L625.4 167.6 L626.1 168.0 L626.9 168.4 L627.8 168.8 L628.9 169.3 L629.9 169.8 L631.1 170.4 L632.3 171.0 L633.5 171.5 L634.7 172.1 L635.9 172.7 L637.0 173.2 L638.2 173.7 L639.2 174.2 L640.3 174.7 L641.5 175.2 L642.7 175.6 L643.9 176.2 L645.1 176.7 L646.4 177.1 L647.6 177.6 L648.7 178.1 L649.9 178.5 L650.9 179.0 L651.9 179.3 L652.7 179.7 L653.5 180.0 L654.1 180.2 M750.2 144.5 L750.6 144.6 L751.2 144.8 L751.9 145.0 L752.6 145.3 L753.4 145.5 L754.3 145.8 L755.2 146.1 L756.2 146.4 L757.1 146.6 L758.1 146.9 L759.0 147.2 L760.0 147.4 L760.9 147.6 L761.8 147.8 L762.6 147.9 L763.6 148.1 L764.5 148.2 L765.5 148.3 L766.5 148.3 L767.5 148.4 L768.5 148.5 L769.5 148.5 L770.4 148.5 L771.2 148.6 L772.0 148.6 L772.7 148.6 L773.3 148.7 L773.8 148.7 M698.6 154.6 L698.9 154.4 L699.3 154.1 L699.8 153.7 L700.3 153.4 L700.9 152.9 L701.5 152.5 L702.1 152.0 L702.8 151.5 L703.5 151.1 L704.2 150.6 L704.8 150.1 L705.5 149.7 L706.2 149.2 L706.8 148.8 L707.4 148.4 L708.1 148.0 L708.8 147.6 L709.5 147.2 L710.2 146.8 L711.0 146.4 L711.7 146.1 L712.4 145.7 L713.0 145.3 L713.7 145.0 L714.2 144.7 L714.8 144.4 L715.2 144.2 L715.6 144.0 M613.4 130.3 L613.9 130.1 L614.6 129.9 L615.3 129.6 L616.2 129.4 L617.1 129.1 L618.2 128.7 L619.2 128.4 L620.3 128.1 L621.4 127.7 L622.5 127.4 L623.6 127.1 L624.7 126.8 L625.8 126.5 L626.8 126.3 L627.8 126.0 L628.9 125.8 L630.0 125.6 L631.1 125.3 L632.3 125.1 L633.4 124.9 L634.5 124.7 L635.6 124.5 L636.7 124.4 L637.6 124.2 L638.5 124.0 L639.3 123.9 L640.0 123.8 L640.6 123.7 M614.9 191.6 L615.4 191.6 L616.0 191.5 L616.7 191.5 L617.5 191.4 L618.3 191.4 L619.2 191.4 L620.2 191.3 L621.2 191.3 L622.2 191.2 L623.2 191.1 L624.1 191.1 L625.1 191.0 L626.0 191.0 L626.9 190.9 L627.8 190.9 L628.7 190.8 L629.7 190.8 L630.7 190.7 L631.7 190.6 L632.7 190.6 L633.7 190.5 L634.6 190.4 L635.5 190.4 L636.3 190.3 L637.1 190.2 L637.8 190.2 L638.4 190.2 L638.9 190.1 M461.6 113.8 L462.4 114.1 L463.3 114.5 L464.3 114.9 L465.5 115.5 L466.8 116.0 L468.2 116.6 L469.7 117.3 L471.2 117.9 L472.7 118.6 L474.3 119.2 L475.8 119.8 L477.3 120.4 L478.8 120.9 L480.2 121.4 L481.6 121.8 L483.1 122.2 L484.7 122.6 L486.3 123.0 L487.9 123.4 L489.5 123.8 L491.1 124.1 L492.7 124.4 L494.1 124.8 L495.5 125.0 L496.8 125.3 L497.9 125.5 L498.9 125.7 L499.7 125.9 M463.2 158.6 L463.7 158.7 L464.4 158.8 L465.1 158.9 L466.0 159.0 L466.9 159.1 L467.9 159.3 L468.9 159.4 L469.9 159.5 L471.0 159.7 L472.1 159.8 L473.1 159.9 L474.2 160.0 L475.2 160.1 L476.2 160.1 L477.1 160.2 L478.1 160.2 L479.2 160.2 L480.3 160.2 L481.3 160.1 L482.4 160.1 L483.5 160.1 L484.5 160.0 L485.5 160.0 L486.4 159.9 L487.3 159.9 L488.0 159.8 L488.7 159.8 L489.2 159.8 M757.5 126.4 L758.0 126.6 L758.6 126.8 L759.4 127.1 L760.2 127.5 L761.2 127.8 L762.1 128.2 L763.2 128.6 L764.2 129.0 L765.3 129.4 L766.4 129.8 L767.5 130.2 L768.6 130.6 L769.6 130.9 L770.6 131.2 L771.6 131.5 L772.7 131.8 L773.8 132.0 L774.9 132.3 L776.1 132.5 L777.2 132.7 L778.3 132.9 L779.4 133.1 L780.5 133.3 L781.4 133.5 L782.3 133.7 L783.1 133.8 L783.8 133.9 L784.4 134.0 M553.2 135.3 L554.0 135.3 L555.0 135.2 L556.2 135.1 L557.5 135.0 L558.9 134.8 L560.4 134.7 L562.0 134.5 L563.6 134.4 L565.2 134.3 L566.9 134.1 L568.6 134.0 L570.2 133.9 L571.7 133.9 L573.2 133.8 L574.7 133.8 L576.2 133.8 L577.8 133.9 L579.5 133.9 L581.2 134.0 L582.8 134.1 L584.5 134.1 L586.0 134.2 L587.5 134.3 L589.0 134.4 L590.3 134.5 L591.4 134.5 L592.4 134.6 L593.2 134.6 M512.0 195.8 L512.4 195.7 L512.9 195.7 L513.4 195.7 L514.1 195.6 L514.8 195.6 L515.5 195.6 L516.3 195.5 L517.1 195.5 L518.0 195.4 L518.8 195.4 L519.6 195.4 L520.4 195.4 L521.2 195.3 L522.0 195.3 L522.7 195.3 L523.5 195.3 L524.3 195.4 L525.1 195.4 L525.9 195.4 L526.8 195.5 L527.6 195.5 L528.4 195.5 L529.1 195.6 L529.8 195.6 L530.5 195.6 L531.1 195.7 L531.6 195.7 L532.0 195.7 M563.5 59.8 L564.1 59.9 L564.8 60.0 L565.7 60.1 L566.7 60.2 L567.7 60.4 L568.8 60.5 L570.0 60.7 L571.2 60.8 L572.5 61.0 L573.7 61.1 L575.0 61.2 L576.2 61.3 L577.3 61.4 L578.4 61.4 L579.5 61.4 L580.7 61.4 L581.9 61.3 L583.2 61.3 L584.4 61.2 L585.7 61.1 L586.9 61.0 L588.1 60.9 L589.2 60.8 L590.3 60.7 L591.2 60.6 L592.1 60.5 L592.9 60.4 L593.5 60.4 M535.9 188.8 L536.4 188.9 L537.1 189.1 L537.8 189.3 L538.6 189.5 L539.5 189.7 L540.4 189.9 L541.4 190.2 L542.5 190.5 L543.5 190.7 L544.6 191.0 L545.6 191.3 L546.6 191.5 L547.6 191.8 L548.5 192.0 L549.4 192.3 L550.4 192.6 L551.4 192.9 L552.5 193.2 L553.5 193.5 L554.5 193.8 L555.5 194.1 L556.5 194.4 L557.5 194.7 L558.3 194.9 L559.1 195.2 L559.9 195.4 L560.5 195.6 L561.0 195.7 M742.7 180.8 L743.1 180.7 L743.6 180.6 L744.1 180.4 L744.8 180.3 L745.5 180.1 L746.2 179.9 L747.0 179.7 L747.8 179.5 L748.6 179.4 L749.4 179.2 L750.2 179.0 L751.0 178.9 L751.8 178.8 L752.5 178.7 L753.2 178.6 L754.0 178.5 L754.8 178.5 L755.7 178.5 L756.5 178.5 L757.3 178.5 L758.2 178.5 L758.9 178.5 L759.7 178.5 L760.4 178.5 L761.1 178.5 L761.7 178.5 L762.2 178.5 L762.6 178.5 M468.2 73.3 L468.6 73.2 L469.1 73.1 L469.6 72.9 L470.2 72.8 L470.9 72.6 L471.7 72.4 L472.4 72.2 L473.2 72.0 L474.0 71.8 L474.8 71.5 L475.6 71.3 L476.4 71.2 L477.2 71.0 L477.9 70.8 L478.6 70.6 L479.4 70.5 L480.1 70.3 L481.0 70.1 L481.8 70.0 L482.6 69.8 L483.4 69.7 L484.2 69.5 L484.9 69.4 L485.6 69.2 L486.2 69.1 L486.8 69.0 L487.3 68.9 L487.7 68.8 M533.7 144.3 L534.3 144.7 L535.2 145.3 L536.1 145.9 L537.2 146.7 L538.3 147.5 L539.6 148.3 L540.9 149.2 L542.2 150.1 L543.6 151.1 L545.0 152.0 L546.4 152.9 L547.7 153.8 L549.0 154.7 L550.3 155.4 L551.5 156.2 L552.8 157.0 L554.2 157.9 L555.6 158.7 L557.1 159.6 L558.5 160.4 L559.9 161.2 L561.3 162.0 L562.6 162.8 L563.8 163.5 L564.9 164.1 L565.9 164.7 L566.8 165.2 L567.5 165.6 M641.0 60.6 L641.5 60.6 L642.1 60.7 L642.8 60.8 L643.5 60.9 L644.4 61.0 L645.3 61.1 L646.2 61.2 L647.2 61.3 L648.2 61.4 L649.2 61.5 L650.1 61.6 L651.1 61.7 L652.0 61.8 L652.9 61.9 L653.8 62.0 L654.7 62.2 L655.7 62.3 L656.7 62.4 L657.6 62.5 L658.6 62.7 L659.6 62.8 L660.5 62.9 L661.4 63.0 L662.3 63.1 L663.0 63.2 L663.7 63.3 L664.3 63.4 L664.8 63.5 M584.0 171.7 L584.5 171.4 L585.1 171.1 L585.8 170.7 L586.6 170.3 L587.5 169.8 L588.4 169.3 L589.4 168.8 L590.4 168.3 L591.4 167.7 L592.5 167.2 L593.5 166.7 L594.5 166.2 L595.5 165.8 L596.5 165.3 L597.4 164.9 L598.4 164.5 L599.5 164.1 L600.6 163.8 L601.7 163.4 L602.8 163.0 L603.9 162.6 L604.9 162.3 L605.9 161.9 L606.9 161.6 L607.7 161.4 L608.5 161.1 L609.2 160.9 L609.7 160.7 M785.4 118.1 L785.8 118.2 L786.4 118.2 L787.0 118.2 L787.8 118.3 L788.5 118.3 L789.4 118.4 L790.2 118.5 L791.1 118.5 L792.1 118.6 L793.0 118.7 L793.9 118.8 L794.8 119.0 L795.6 119.1 L796.4 119.2 L797.2 119.4 L798.0 119.6 L798.9 119.9 L799.7 120.2 L800.6 120.4 L801.5 120.7 L802.3 121.0 L803.2 121.3 L804.0 121.6 L804.7 121.9 L805.4 122.1 L806.0 122.4 L806.5 122.5 L806.9 122.7 M596.8 122.7 L597.2 122.5 L597.6 122.3 L598.2 122.1 L598.8 121.8 L599.4 121.5 L600.1 121.2 L600.8 120.9 L601.6 120.5 L602.4 120.2 L603.2 119.9 L603.9 119.6 L604.7 119.3 L605.5 119.1 L606.2 118.9 L606.9 118.8 L607.7 118.6 L608.5 118.6 L609.3 118.5 L610.1 118.4 L611.0 118.4 L611.8 118.3 L612.6 118.3 L613.4 118.3 L614.1 118.3 L614.8 118.3 L615.4 118.3 L615.9 118.2 L616.3 118.2 M761.8 115.0 L762.2 115.1 L762.7 115.3 L763.2 115.5 L763.8 115.7 L764.5 115.9 L765.2 116.1 L766.0 116.4 L766.7 116.6 L767.5 116.9 L768.3 117.1 L769.1 117.4 L769.9 117.7 L770.6 117.9 L771.3 118.2 L772.0 118.5 L772.7 118.7 L773.4 119.0 L774.2 119.4 L775.0 119.7 L775.7 120.0 L776.5 120.3 L777.2 120.6 L777.9 120.9 L778.6 121.2 L779.2 121.5 L779.7 121.7 L780.1 121.9 L780.5 122.0 M710.9 193.1 L711.3 193.0 L711.8 192.9 L712.4 192.9 L713.0 192.8 L713.7 192.7 L714.5 192.6 L715.3 192.4 L716.1 192.3 L716.9 192.2 L717.8 192.2 L718.6 192.1 L719.4 192.0 L720.2 192.0 L720.9 192.0 L721.7 192.1 L722.4 192.1 L723.2 192.2 L724.1 192.3 L724.9 192.4 L725.7 192.6 L726.5 192.7 L727.3 192.9 L728.1 193.0 L728.8 193.1 L729.4 193.3 L730.0 193.4 L730.5 193.5 L730.9 193.5 M649.4 122.9 L649.8 122.8 L650.3 122.6 L650.9 122.5 L651.6 122.3 L652.4 122.1 L653.2 121.8 L654.0 121.6 L654.9 121.4 L655.8 121.1 L656.7 120.9 L657.5 120.7 L658.4 120.5 L659.2 120.3 L660.0 120.1 L660.8 119.9 L661.7 119.8 L662.5 119.6 L663.4 119.5 L664.3 119.3 L665.2 119.2 L666.1 119.1 L667.0 118.9 L667.8 118.8 L668.6 118.7 L669.3 118.6 L669.9 118.5 L670.5 118.5 L670.9 118.4 M642.6 162.9 L643.1 162.9 L643.6 162.9 L644.1 162.9 L644.8 162.8 L645.5 162.8 L646.3 162.8 L647.1 162.8 L647.9 162.8 L648.8 162.8 L649.6 162.8 L650.4 162.8 L651.2 162.9 L652.0 163.0 L652.7 163.1 L653.5 163.2 L654.2 163.4 L655.0 163.6 L655.8 163.8 L656.6 164.1 L657.4 164.3 L658.2 164.6 L658.9 164.9 L659.7 165.1 L660.3 165.4 L661.0 165.6 L661.5 165.8 L662.0 166.0 L662.4 166.1 M680.4 128.2 L680.9 128.4 L681.4 128.6 L682.1 128.9 L682.8 129.1 L683.6 129.4 L684.4 129.7 L685.3 130.1 L686.2 130.4 L687.2 130.8 L688.1 131.1 L689.0 131.5 L689.9 131.8 L690.8 132.2 L691.6 132.5 L692.4 132.8 L693.3 133.2 L694.2 133.6 L695.1 134.0 L696.0 134.4 L696.9 134.8 L697.8 135.2 L698.7 135.5 L699.5 135.9 L700.3 136.3 L701.0 136.6 L701.6 136.9 L702.2 137.1 L702.6 137.3 M709.7 84.2 L710.1 84.1 L710.6 84.0 L711.1 83.9 L711.8 83.7 L712.5 83.6 L713.2 83.4 L714.0 83.2 L714.8 83.0 L715.6 82.8 L716.4 82.7 L717.2 82.5 L718.0 82.4 L718.8 82.3 L719.5 82.2 L720.2 82.1 L721.0 82.1 L721.8 82.0 L722.7 82.0 L723.5 82.0 L724.3 82.0 L725.2 82.0 L725.9 82.1 L726.7 82.1 L727.4 82.1 L728.1 82.1 L728.7 82.2 L729.2 82.2 L729.6 82.2 M726.9 65.8 L727.3 65.8 L727.8 65.8 L728.4 65.8 L729.1 65.8 L729.8 65.8 L730.5 65.8 L731.3 65.8 L732.1 65.8 L733.0 65.8 L733.8 65.8 L734.6 65.8 L735.4 65.8 L736.2 65.8 L737.0 65.9 L737.7 65.9 L738.5 66.0 L739.3 66.1 L740.1 66.2 L740.9 66.3 L741.7 66.4 L742.5 66.5 L743.3 66.7 L744.1 66.8 L744.8 66.9 L745.4 67.0 L746.0 67.1 L746.5 67.2 L746.9 67.2 M544.2 91.1 L544.6 91.2 L545.1 91.2 L545.7 91.2 L546.3 91.3 L547.0 91.3 L547.8 91.4 L548.6 91.5 L549.4 91.5 L550.2 91.6 L551.1 91.7 L551.9 91.7 L552.7 91.8 L553.5 91.9 L554.2 92.0 L554.9 92.1 L555.7 92.2 L556.5 92.4 L557.3 92.5 L558.1 92.7 L558.9 92.9 L559.7 93.0 L560.5 93.2 L561.2 93.3 L561.9 93.5 L562.6 93.6 L563.1 93.8 L563.6 93.9 L564.0 93.9 M733.4 151.5 L733.8 151.6 L734.3 151.8 L734.9 152.0 L735.6 152.2 L736.3 152.5 L737.1 152.7 L737.9 153.0 L738.8 153.3 L739.7 153.6 L740.5 153.9 L741.4 154.2 L742.2 154.5 L743.0 154.8 L743.7 155.2 L744.5 155.5 L745.3 155.9 L746.1 156.3 L746.9 156.7 L747.7 157.1 L748.5 157.6 L749.3 158.0 L750.0 158.4 L750.7 158.8 L751.4 159.2 L752.0 159.6 L752.6 159.9 L753.1 160.2 L753.5 160.4 M762.5 71.4 L762.9 71.4 L763.5 71.4 L764.1 71.4 L764.8 71.5 L765.6 71.5 L766.4 71.5 L767.3 71.5 L768.2 71.6 L769.1 71.6 L770.0 71.6 L770.9 71.7 L771.8 71.8 L772.7 71.8 L773.5 71.9 L774.3 72.0 L775.1 72.2 L776.0 72.3 L776.9 72.5 L777.8 72.7 L778.7 72.9 L779.6 73.1 L780.4 73.3 L781.2 73.5 L782.0 73.7 L782.7 73.8 L783.3 74.0 L783.8 74.1 L784.3 74.2 M670.4 105.6 L670.8 105.5 L671.3 105.4 L671.8 105.2 L672.4 105.0 L673.1 104.9 L673.9 104.7 L674.6 104.5 L675.4 104.3 L676.2 104.1 L677.0 103.9 L677.8 103.7 L678.6 103.5 L679.4 103.3 L680.1 103.2 L680.8 103.1 L681.6 103.0 L682.4 102.9 L683.2 102.8 L684.1 102.7 L684.9 102.6 L685.7 102.5 L686.5 102.4 L687.2 102.4 L687.9 102.3 L688.6 102.3 L689.2 102.2 L689.7 102.2 L690.1 102.1 M503.4 111.1 L503.8 111.3 L504.3 111.5 L504.8 111.7 L505.4 112.0 L506.1 112.3 L506.8 112.6 L507.5 112.9 L508.2 113.2 L509.0 113.5 L509.8 113.8 L510.6 114.1 L511.3 114.4 L512.1 114.6 L512.8 114.8 L513.5 115.0 L514.3 115.1 L515.1 115.3 L515.9 115.4 L516.7 115.5 L517.6 115.6 L518.4 115.7 L519.2 115.8 L519.9 115.9 L520.6 116.0 L521.3 116.0 L521.9 116.1 L522.4 116.1 L522.8 116.2 M741.1 194.3 L741.5 194.4 L742.0 194.4 L742.6 194.5 L743.2 194.5 L744.0 194.6 L744.7 194.7 L745.5 194.8 L746.4 194.8 L747.2 194.9 L748.0 194.9 L748.9 194.9 L749.7 194.9 L750.5 194.9 L751.2 194.9 L751.9 194.8 L752.7 194.6 L753.5 194.5 L754.3 194.3 L755.1 194.1 L755.9 193.8 L756.7 193.6 L757.5 193.4 L758.2 193.1 L758.9 192.9 L759.5 192.7 L760.1 192.5 L760.6 192.4 L761.0 192.3 M694.5 107.3 L694.9 107.5 L695.4 107.7 L696.0 107.9 L696.7 108.2 L697.4 108.5 L698.1 108.9 L698.9 109.2 L699.8 109.6 L700.6 110.0 L701.4 110.4 L702.2 110.7 L703.0 111.1 L703.8 111.5 L704.5 111.9 L705.3 112.2 L706.0 112.6 L706.8 113.0 L707.6 113.5 L708.4 113.9 L709.2 114.4 L710.0 114.8 L710.7 115.2 L711.5 115.6 L712.1 116.0 L712.8 116.4 L713.3 116.7 L713.8 117.0 L714.2 117.2 M672.4 85.9 L672.8 85.8 L673.3 85.8 L673.9 85.8 L674.6 85.7 L675.3 85.7 L676.0 85.6 L676.8 85.6 L677.6 85.5 L678.4 85.5 L679.3 85.4 L680.1 85.4 L680.9 85.3 L681.7 85.3 L682.4 85.3 L683.2 85.3 L683.9 85.3 L684.7 85.3 L685.6 85.3 L686.4 85.3 L687.2 85.3 L688.1 85.4 L688.8 85.4 L689.6 85.4 L690.3 85.5 L690.9 85.5 L691.5 85.5 L692.0 85.5 L692.4 85.5 M529.7 104.6 L530.1 104.6 L530.7 104.5 L531.3 104.4 L532.0 104.3 L532.8 104.2 L533.6 104.1 L534.5 104.0 L535.4 103.8 L536.3 103.7 L537.2 103.6 L538.1 103.5 L539.0 103.5 L539.8 103.4 L540.6 103.3 L541.4 103.3 L542.3 103.3 L543.2 103.3 L544.1 103.3 L545.0 103.4 L545.9 103.4 L546.8 103.4 L547.7 103.5 L548.5 103.5 L549.3 103.6 L550.0 103.6 L550.7 103.7 L551.2 103.7 L551.7 103.7 M579.3 81.5 L579.6 81.4 L580.1 81.2 L580.7 81.0 L581.3 80.8 L581.9 80.5 L582.6 80.3 L583.4 80.0 L584.2 79.7 L585.0 79.4 L585.8 79.2 L586.5 78.9 L587.3 78.7 L588.1 78.5 L588.8 78.3 L589.5 78.2 L590.3 78.1 L591.1 78.0 L591.9 77.9 L592.8 77.8 L593.6 77.7 L594.4 77.7 L595.2 77.6 L596.0 77.6 L596.7 77.5 L597.3 77.5 L597.9 77.5 L598.4 77.4 L598.8 77.4 M616.6 62.2 L617.1 62.2 L617.6 62.2 L618.1 62.3 L618.8 62.4 L619.5 62.4 L620.3 62.5 L621.1 62.6 L621.9 62.6 L622.7 62.7 L623.6 62.7 L624.4 62.8 L625.2 62.8 L626.0 62.7 L626.7 62.7 L627.5 62.6 L628.2 62.5 L629.0 62.3 L629.9 62.1 L630.7 61.9 L631.5 61.7 L632.3 61.5 L633.1 61.3 L633.8 61.1 L634.5 60.9 L635.1 60.7 L635.7 60.5 L636.2 60.4 L636.6 60.3 M733.3 96.6 L733.7 96.6 L734.2 96.6 L734.8 96.6 L735.4 96.7 L736.1 96.7 L736.9 96.7 L737.7 96.8 L738.5 96.8 L739.3 96.9 L740.2 96.9 L741.0 97.0 L741.8 97.1 L742.6 97.2 L743.3 97.3 L744.0 97.5 L744.8 97.6 L745.6 97.8 L746.4 98.0 L747.2 98.3 L748.0 98.5 L748.8 98.8 L749.5 99.0 L750.3 99.2 L750.9 99.4 L751.6 99.6 L752.1 99.8 L752.6 100.0 L753.0 100.1 M463.3 88.4 L463.9 88.4 L464.5 88.5 L465.2 88.6 L466.1 88.7 L467.0 88.9 L468.0 89.0 L469.0 89.2 L470.1 89.3 L471.1 89.4 L472.2 89.5 L473.3 89.6 L474.3 89.7 L475.4 89.8 L476.3 89.8 L477.3 89.8 L478.3 89.7 L479.3 89.7 L480.4 89.6 L481.5 89.5 L482.6 89.4 L483.6 89.2 L484.7 89.1 L485.6 89.0 L486.6 88.9 L487.4 88.7 L488.1 88.6 L488.8 88.6 L489.3 88.5 M803.1 138.9 L803.4 138.9 L803.7 138.9 L804.1 138.8 L804.5 138.8 L805.0 138.8 L805.5 138.8 L806.0 138.8 L806.5 138.7 L807.0 138.7 L807.6 138.7 L808.1 138.7 L808.6 138.6 L809.1 138.6 L809.6 138.6 L810.1 138.5 L810.6 138.5 L811.1 138.4 L811.7 138.4 L812.2 138.3 L812.7 138.3 L813.3 138.2 L813.8 138.2 L814.3 138.1 L814.7 138.1 L815.1 138.0 L815.5 138.0 L815.8 137.9 L816.1 137.9 M536.6 130.7 L536.8 130.9 L537.1 131.1 L537.4 131.3 L537.7 131.5 L538.1 131.8 L538.5 132.1 L539.0 132.4 L539.4 132.7 L539.8 133.0 L540.3 133.2 L540.8 133.5 L541.2 133.8 L541.7 134.0 L542.1 134.3 L542.5 134.5 L543.0 134.7 L543.5 134.9 L544.0 135.1 L544.5 135.2 L545.0 135.4 L545.5 135.6 L546.0 135.7 L546.5 135.9 L546.9 136.0 L547.3 136.2 L547.7 136.3 L548.0 136.4 L548.3 136.5 M532.8 166.0 L533.1 166.1 L533.5 166.3 L533.9 166.5 L534.4 166.7 L534.9 166.9 L535.5 167.1 L536.1 167.4 L536.7 167.6 L537.3 167.9 L537.9 168.1 L538.5 168.4 L539.1 168.6 L539.7 168.9 L540.2 169.1 L540.8 169.3 L541.3 169.6 L541.9 169.8 L542.5 170.1 L543.2 170.3 L543.8 170.6 L544.4 170.8 L545.0 171.1 L545.5 171.3 L546.0 171.5 L546.5 171.7 L546.9 171.9 L547.3 172.0 L547.6 172.1 M491.0 158.6 L491.3 158.6 L491.6 158.6 L491.9 158.6 L492.3 158.6 L492.7 158.6 L493.2 158.6 L493.6 158.6 L494.1 158.6 L494.6 158.6 L495.1 158.6 L495.6 158.6 L496.1 158.6 L496.6 158.6 L497.0 158.6 L497.5 158.6 L497.9 158.6 L498.4 158.6 L498.9 158.5 L499.4 158.5 L499.9 158.5 L500.4 158.5 L500.9 158.5 L501.3 158.4 L501.7 158.4 L502.1 158.4 L502.5 158.4 L502.8 158.4 L503.0 158.4 M460.1 126.8 L460.4 126.8 L460.7 126.8 L461.1 126.9 L461.5 126.9 L461.9 127.0 L462.4 127.0 L462.9 127.1 L463.5 127.2 L464.0 127.2 L464.5 127.3 L465.1 127.4 L465.6 127.5 L466.1 127.6 L466.6 127.7 L467.0 127.8 L467.5 128.0 L468.0 128.1 L468.5 128.3 L469.0 128.5 L469.5 128.7 L470.0 128.9 L470.5 129.0 L471.0 129.2 L471.4 129.4 L471.8 129.6 L472.1 129.7 L472.5 129.8 L472.7 129.9 M750.0 62.0 L750.3 62.0 L750.6 61.9 L750.9 61.8 L751.3 61.6 L751.7 61.5 L752.1 61.4 L752.6 61.2 L753.1 61.1 L753.6 60.9 L754.1 60.8 L754.5 60.7 L755.0 60.6 L755.5 60.5 L755.9 60.4 L756.4 60.4 L756.8 60.4 L757.3 60.4 L757.8 60.4 L758.3 60.5 L758.8 60.5 L759.3 60.6 L759.8 60.6 L760.3 60.7 L760.7 60.7 L761.1 60.8 L761.4 60.8 L761.7 60.9 L762.0 60.9 M781.9 89.5 L782.2 89.4 L782.5 89.4 L782.8 89.3 L783.2 89.2 L783.7 89.2 L784.2 89.1 L784.6 89.0 L785.1 88.9 L785.6 88.8 L786.1 88.7 L786.6 88.5 L787.1 88.4 L787.5 88.2 L787.9 88.0 L788.3 87.8 L788.7 87.5 L789.1 87.2 L789.5 86.9 L789.9 86.5 L790.2 86.2 L790.6 85.8 L791.0 85.5 L791.3 85.1 L791.6 84.8 L791.9 84.5 L792.1 84.3 L792.3 84.0 L792.5 83.9 M575.8 121.9 L576.1 121.9 L576.4 121.9 L576.7 121.9 L577.1 121.9 L577.5 121.8 L578.0 121.8 L578.5 121.8 L578.9 121.8 L579.4 121.7 L579.9 121.7 L580.4 121.7 L580.9 121.6 L581.4 121.6 L581.8 121.6 L582.3 121.5 L582.7 121.5 L583.2 121.5 L583.7 121.4 L584.2 121.4 L584.7 121.3 L585.2 121.3 L585.7 121.2 L586.1 121.2 L586.5 121.1 L586.9 121.1 L587.3 121.1 L587.6 121.0 L587.8 121.0 M491.0 170.3 L491.4 170.3 L491.8 170.2 L492.3 170.2 L492.9 170.1 L493.6 170.0 L494.2 170.0 L494.9 169.9 L495.7 169.8 L496.4 169.8 L497.2 169.7 L497.9 169.7 L498.7 169.6 L499.4 169.6 L500.0 169.6 L500.7 169.7 L501.4 169.7 L502.1 169.8 L502.8 169.9 L503.6 170.0 L504.3 170.2 L505.1 170.3 L505.8 170.4 L506.4 170.6 L507.1 170.7 L507.6 170.8 L508.2 170.9 L508.6 171.0 L509.0 171.1 M659.1 154.3 L659.3 154.1 L659.6 154.0 L659.9 153.8 L660.3 153.6 L660.6 153.4 L661.0 153.1 L661.5 152.9 L661.9 152.6 L662.3 152.4 L662.8 152.2 L663.2 151.9 L663.7 151.7 L664.1 151.6 L664.5 151.4 L665.0 151.3 L665.4 151.2 L665.9 151.1 L666.4 151.1 L666.9 151.0 L667.4 151.0 L667.9 150.9 L668.4 150.9 L668.9 150.9 L669.3 150.9 L669.7 150.8 L670.1 150.8 L670.4 150.8 L670.6 150.8 M472.0 59.7 L472.2 59.7 L472.5 59.6 L472.9 59.4 L473.3 59.3 L473.8 59.2 L474.2 59.0 L474.7 58.8 L475.2 58.7 L475.8 58.5 L476.3 58.4 L476.8 58.3 L477.3 58.1 L477.8 58.1 L478.3 58.0 L478.8 57.9 L479.3 57.9 L479.8 57.9 L480.4 57.9 L480.9 58.0 L481.5 58.0 L482.0 58.0 L482.5 58.1 L483.0 58.1 L483.5 58.2 L483.9 58.2 L484.3 58.2 L484.6 58.3 L484.9 58.3 M645.6 196.9 L645.9 196.8 L646.2 196.7 L646.6 196.5 L647.0 196.3 L647.5 196.2 L648.0 196.0 L648.5 195.8 L649.0 195.6 L649.5 195.3 L650.1 195.1 L650.6 194.9 L651.1 194.7 L651.6 194.5 L652.1 194.3 L652.6 194.1 L653.1 193.9 L653.6 193.7 L654.2 193.5 L654.7 193.2 L655.2 193.0 L655.8 192.8 L656.3 192.6 L656.8 192.4 L657.2 192.2 L657.6 192.0 L658.0 191.8 L658.3 191.7 L658.6 191.6 M801.8 106.4 L802.0 106.3 L802.3 106.3 L802.7 106.2 L803.1 106.2 L803.5 106.1 L803.9 106.1 L804.4 106.0 L804.9 105.9 L805.4 105.8 L805.9 105.7 L806.4 105.6 L806.8 105.6 L807.3 105.5 L807.7 105.3 L808.1 105.2 L808.6 105.1 L809.1 105.0 L809.5 104.8 L810.0 104.7 L810.5 104.5 L810.9 104.3 L811.4 104.2 L811.8 104.0 L812.2 103.9 L812.6 103.8 L812.9 103.6 L813.2 103.5 L813.4 103.5 M615.8 155.2 L616.0 155.2 L616.3 155.2 L616.7 155.2 L617.1 155.2 L617.5 155.1 L617.9 155.1 L618.4 155.1 L618.9 155.1 L619.4 155.0 L619.9 155.0 L620.4 155.0 L620.9 155.0 L621.3 155.0 L621.8 154.9 L622.2 154.9 L622.7 154.9 L623.2 154.9 L623.7 154.9 L624.2 154.9 L624.7 154.9 L625.1 154.9 L625.6 154.9 L626.1 154.9 L626.5 154.9 L626.9 154.9 L627.2 154.9 L627.5 154.9 L627.8 154.9 M698.9 58.5 L699.2 58.6 L699.5 58.7 L699.9 58.8 L700.4 59.0 L700.9 59.1 L701.4 59.3 L701.9 59.4 L702.5 59.6 L703.0 59.7 L703.6 59.9 L704.2 60.0 L704.7 60.1 L705.3 60.2 L705.8 60.3 L706.3 60.3 L706.9 60.3 L707.4 60.3 L708.0 60.3 L708.6 60.2 L709.2 60.2 L709.8 60.1 L710.3 60.1 L710.9 60.0 L711.4 60.0 L711.8 59.9 L712.2 59.9 L712.6 59.8 L712.9 59.8 M618.5 117.6 L618.8 117.5 L619.1 117.5 L619.4 117.4 L619.8 117.4 L620.2 117.3 L620.7 117.2 L621.1 117.1 L621.6 117.0 L622.1 116.9 L622.6 116.8 L623.1 116.7 L623.5 116.6 L624.0 116.4 L624.4 116.3 L624.8 116.2 L625.3 116.0 L625.7 115.8 L626.2 115.7 L626.7 115.5 L627.1 115.3 L627.6 115.1 L628.0 114.9 L628.4 114.7 L628.8 114.5 L629.2 114.4 L629.5 114.2 L629.8 114.1 L630.0 114.0 M802.5 154.5 L802.7 154.4 L803.0 154.2 L803.4 154.1 L803.8 153.9 L804.2 153.7 L804.7 153.5 L805.2 153.2 L805.7 153.0 L806.2 152.8 L806.7 152.6 L807.2 152.4 L807.7 152.3 L808.2 152.2 L808.7 152.1 L809.1 152.0 L809.6 152.0 L810.2 151.9 L810.7 151.9 L811.3 152.0 L811.8 152.0 L812.4 152.0 L812.9 152.1 L813.4 152.1 L813.9 152.2 L814.3 152.2 L814.7 152.3 L815.0 152.3 L815.3 152.3 M759.8 103.2 L760.0 103.3 L760.3 103.4 L760.7 103.5 L761.1 103.6 L761.6 103.7 L762.1 103.9 L762.6 104.0 L763.1 104.2 L763.6 104.3 L764.2 104.5 L764.7 104.6 L765.2 104.7 L765.7 104.7 L766.2 104.8 L766.7 104.8 L767.2 104.8 L767.7 104.7 L768.2 104.7 L768.8 104.6 L769.3 104.5 L769.9 104.4 L770.4 104.3 L770.9 104.2 L771.3 104.1 L771.8 104.1 L772.2 104.0 L772.5 103.9 L772.7 103.9 M577.7 184.4 L578.0 184.4 L578.4 184.5 L578.8 184.6 L579.4 184.7 L579.9 184.8 L580.5 185.0 L581.1 185.1 L581.8 185.2 L582.4 185.3 L583.1 185.5 L583.8 185.6 L584.4 185.6 L585.0 185.7 L585.6 185.8 L586.2 185.8 L586.8 185.8 L587.5 185.8 L588.1 185.7 L588.8 185.7 L589.5 185.6 L590.1 185.6 L590.8 185.5 L591.4 185.4 L591.9 185.4 L592.5 185.3 L592.9 185.3 L593.3 185.2 L593.7 185.2 M600.2 191.5 L600.5 191.5 L600.8 191.6 L601.2 191.6 L601.6 191.7 L602.1 191.8 L602.6 191.9 L603.1 191.9 L603.6 192.0 L604.2 192.1 L604.7 192.1 L605.3 192.2 L605.8 192.2 L606.3 192.2 L606.8 192.2 L607.2 192.2 L607.8 192.1 L608.3 192.1 L608.8 192.0 L609.4 191.9 L609.9 191.8 L610.4 191.7 L610.9 191.6 L611.4 191.5 L611.9 191.4 L612.3 191.4 L612.7 191.3 L613.0 191.2 L613.2 191.2 M558.2 124.7 L558.5 124.7 L558.9 124.8 L559.4 124.9 L559.9 125.0 L560.4 125.1 L561.1 125.2 L561.7 125.3 L562.3 125.5 L563.0 125.6 L563.7 125.6 L564.3 125.7 L565.0 125.8 L565.6 125.8 L566.2 125.8 L566.8 125.7 L567.4 125.7 L568.1 125.6 L568.7 125.5 L569.4 125.3 L570.0 125.2 L570.7 125.0 L571.3 124.9 L571.9 124.7 L572.5 124.6 L573.0 124.4 L573.4 124.3 L573.8 124.2 L574.2 124.1 M766.6 177.9 L767.0 177.8 L767.4 177.7 L767.9 177.6 L768.5 177.5 L769.1 177.4 L769.8 177.3 L770.5 177.2 L771.2 177.1 L772.0 177.0 L772.7 176.8 L773.5 176.7 L774.2 176.7 L774.9 176.6 L775.5 176.5 L776.2 176.5 L776.9 176.5 L777.6 176.5 L778.4 176.5 L779.1 176.5 L779.9 176.5 L780.6 176.5 L781.3 176.5 L782.0 176.6 L782.6 176.6 L783.2 176.6 L783.8 176.6 L784.2 176.7 L784.6 176.7 M691.6 195.4 L691.8 195.4 L692.2 195.5 L692.6 195.5 L693.0 195.5 L693.5 195.6 L694.0 195.6 L694.5 195.7 L695.0 195.7 L695.6 195.7 L696.1 195.7 L696.7 195.7 L697.2 195.7 L697.7 195.7 L698.2 195.6 L698.7 195.5 L699.2 195.4 L699.7 195.2 L700.2 195.1 L700.7 194.9 L701.2 194.7 L701.7 194.5 L702.2 194.3 L702.7 194.1 L703.1 193.9 L703.5 193.7 L703.8 193.6 L704.2 193.4 L704.4 193.3 M598.2 61.2 L598.5 61.2 L598.8 61.1 L599.2 61.0 L599.7 60.9 L600.2 60.8 L600.7 60.6 L601.3 60.5 L601.8 60.4 L602.4 60.3 L603.0 60.2 L603.6 60.1 L604.1 60.0 L604.7 60.0 L605.2 60.0 L605.7 60.0 L606.3 60.1 L606.8 60.1 L607.4 60.2 L608.0 60.3 L608.6 60.4 L609.1 60.6 L609.7 60.7 L610.2 60.8 L610.7 61.0 L611.2 61.1 L611.6 61.2 L611.9 61.3 L612.2 61.3 M458.6 192.9 L458.8 193.0 L459.1 193.0 L459.4 193.1 L459.8 193.1 L460.3 193.2 L460.7 193.3 L461.2 193.4 L461.7 193.5 L462.2 193.5 L462.7 193.6 L463.2 193.6 L463.7 193.7 L464.1 193.7 L464.6 193.7 L465.0 193.7 L465.5 193.6 L466.0 193.6 L466.5 193.5 L467.0 193.4 L467.5 193.3 L467.9 193.2 L468.4 193.1 L468.9 193.0 L469.3 192.9 L469.7 192.8 L470.0 192.7 L470.3 192.6 L470.6 192.6 M736.3 140.5 L736.5 140.6 L736.8 140.7 L737.1 140.9 L737.4 141.1 L737.8 141.3 L738.2 141.5 L738.6 141.7 L739.1 142.0 L739.5 142.2 L740.0 142.4 L740.4 142.6 L740.9 142.8 L741.3 143.0 L741.7 143.2 L742.1 143.3 L742.6 143.5 L743.0 143.6 L743.5 143.8 L744.0 143.9 L744.5 144.0 L745.0 144.1 L745.4 144.3 L745.9 144.4 L746.3 144.5 L746.7 144.6 L747.0 144.6 L747.3 144.7 L747.5 144.8 M695.9 166.5 L696.1 166.6 L696.4 166.6 L696.7 166.8 L697.1 166.9 L697.5 167.0 L697.9 167.2 L698.3 167.3 L698.8 167.5 L699.3 167.6 L699.7 167.8 L700.2 168.0 L700.7 168.1 L701.1 168.3 L701.5 168.4 L702.0 168.6 L702.4 168.7 L702.9 168.9 L703.3 169.0 L703.8 169.2 L704.3 169.4 L704.7 169.5 L705.2 169.7 L705.6 169.8 L706.0 170.0 L706.4 170.1 L706.7 170.2 L707.0 170.3 L707.2 170.4 M528.9 61.4 L529.2 61.4 L529.5 61.3 L529.9 61.2 L530.3 61.2 L530.7 61.1 L531.2 61.0 L531.7 60.9 L532.2 60.8 L532.8 60.7 L533.3 60.6 L533.8 60.5 L534.3 60.4 L534.8 60.3 L535.3 60.2 L535.8 60.0 L536.2 59.9 L536.8 59.8 L537.3 59.6 L537.8 59.5 L538.3 59.3 L538.8 59.2 L539.3 59.0 L539.8 58.9 L540.2 58.8 L540.6 58.7 L541.0 58.6 L541.3 58.5 L541.6 58.4 M788.2 131.8 L788.4 131.9 L788.7 131.9 L789.1 132.0 L789.4 132.1 L789.8 132.2 L790.3 132.3 L790.7 132.5 L791.2 132.6 L791.7 132.7 L792.2 132.8 L792.7 132.9 L793.1 133.0 L793.6 133.1 L794.0 133.2 L794.5 133.3 L794.9 133.4 L795.4 133.5 L795.9 133.5 L796.4 133.6 L796.9 133.7 L797.4 133.7 L797.8 133.8 L798.3 133.9 L798.7 133.9 L799.1 134.0 L799.4 134.0 L799.7 134.1 L800.0 134.1 M609.9 85.2 L610.2 85.2 L610.5 85.3 L610.9 85.3 L611.3 85.4 L611.7 85.4 L612.2 85.5 L612.7 85.6 L613.3 85.6 L613.8 85.7 L614.3 85.8 L614.9 85.9 L615.4 86.0 L615.9 86.1 L616.3 86.1 L616.8 86.2 L617.3 86.3 L617.8 86.4 L618.3 86.6 L618.9 86.7 L619.4 86.8 L619.9 86.9 L620.4 87.1 L620.9 87.2 L621.3 87.3 L621.7 87.4 L622.1 87.5 L622.4 87.6 L622.7 87.6 M729.7 175.7 L730.0 175.5 L730.3 175.2 L730.6 174.9 L731.1 174.6 L731.5 174.2 L732.0 173.8 L732.5 173.4 L733.0 172.9 L733.5 172.5 L734.0 172.1 L734.6 171.7 L735.1 171.4 L735.7 171.0 L736.2 170.8 L736.7 170.5 L737.3 170.2 L737.9 170.0 L738.5 169.8 L739.2 169.6 L739.8 169.4 L740.4 169.2 L741.1 169.0 L741.7 168.9 L742.2 168.7 L742.7 168.6 L743.2 168.5 L743.6 168.3 L743.9 168.3 M526.2 117.1 L526.5 117.1 L526.8 117.1 L527.2 117.0 L527.6 117.0 L528.1 117.0 L528.6 117.0 L529.1 117.0 L529.6 116.9 L530.2 116.9 L530.7 116.9 L531.2 116.8 L531.8 116.8 L532.3 116.8 L532.7 116.7 L533.2 116.7 L533.7 116.6 L534.2 116.5 L534.8 116.4 L535.3 116.3 L535.8 116.2 L536.4 116.1 L536.9 116.0 L537.3 115.9 L537.8 115.9 L538.2 115.8 L538.6 115.7 L538.9 115.7 L539.2 115.6 M804.2 90.6 L804.5 90.5 L804.7 90.4 L805.1 90.3 L805.4 90.1 L805.8 90.0 L806.2 89.8 L806.7 89.6 L807.1 89.5 L807.6 89.3 L808.1 89.1 L808.5 88.9 L809.0 88.7 L809.4 88.5 L809.8 88.3 L810.2 88.1 L810.6 87.9 L811.0 87.7 L811.5 87.4 L811.9 87.2 L812.3 86.9 L812.8 86.7 L813.2 86.4 L813.5 86.2 L813.9 86.0 L814.2 85.8 L814.5 85.6 L814.8 85.4 L815.0 85.3 M670.2 173.5 L670.4 173.5 L670.7 173.6 L671.1 173.7 L671.4 173.7 L671.8 173.8 L672.3 173.9 L672.7 174.1 L673.2 174.2 L673.7 174.3 L674.2 174.4 L674.7 174.5 L675.2 174.6 L675.6 174.7 L676.0 174.8 L676.5 174.9 L676.9 175.0 L677.4 175.1 L677.9 175.2 L678.4 175.3 L678.9 175.4 L679.3 175.5 L679.8 175.6 L680.2 175.7 L680.7 175.8 L681.0 175.9 L681.4 176.0 L681.7 176.0 L681.9 176.1 M500.7 181.7 L500.9 181.8 L501.2 182.0 L501.6 182.2 L502.0 182.4 L502.4 182.6 L502.9 182.8 L503.3 183.1 L503.8 183.3 L504.3 183.5 L504.8 183.8 L505.3 184.0 L505.8 184.1 L506.3 184.3 L506.8 184.4 L507.2 184.5 L507.8 184.5 L508.3 184.6 L508.8 184.6 L509.4 184.6 L509.9 184.6 L510.5 184.6 L511.0 184.5 L511.5 184.5 L512.0 184.5 L512.4 184.4 L512.8 184.4 L513.2 184.4 L513.4 184.4 M764.5 58.9 L764.8 58.8 L765.1 58.7 L765.4 58.6 L765.8 58.5 L766.2 58.4 L766.7 58.3 L767.1 58.2 L767.6 58.1 L768.1 57.9 L768.6 57.8 L769.1 57.8 L769.6 57.7 L770.1 57.7 L770.5 57.6 L770.9 57.6 L771.4 57.7 L771.9 57.7 L772.4 57.8 L772.9 57.9 L773.4 58.0 L773.9 58.1 L774.4 58.2 L774.8 58.3 L775.2 58.4 L775.6 58.5 L776.0 58.6 L776.3 58.7 L776.5 58.7 M722.6 119.9 L722.8 119.9 L723.1 119.9 L723.4 119.9 L723.8 119.9 L724.3 119.9 L724.7 119.9 L725.2 119.9 L725.7 119.9 L726.2 119.9 L726.7 119.8 L727.2 119.8 L727.7 119.8 L728.1 119.8 L728.6 119.7 L729.0 119.7 L729.5 119.6 L729.9 119.5 L730.4 119.5 L730.9 119.4 L731.4 119.3 L731.9 119.2 L732.4 119.1 L732.8 119.0 L733.2 118.9 L733.6 118.9 L734.0 118.8 L734.3 118.7 L734.5 118.7 M719.5 144.2 L719.7 144.1 L720.0 144.0 L720.4 143.9 L720.8 143.8 L721.3 143.7 L721.8 143.6 L722.3 143.5 L722.8 143.4 L723.3 143.2 L723.8 143.1 L724.4 143.0 L724.9 142.9 L725.4 142.9 L725.9 142.8 L726.3 142.7 L726.8 142.7 L727.4 142.7 L727.9 142.7 L728.4 142.7 L729.0 142.7 L729.5 142.7 L730.0 142.7 L730.5 142.7 L731.0 142.7 L731.4 142.7 L731.8 142.7 L732.1 142.7 L732.4 142.7"/></defs>
<g fill="none" stroke-linecap="butt" stroke-linejoin="round">
<use href="#pl" stroke="#eba575" stroke-width="8.4"/>
<use href="#pl" stroke="#eba575" stroke-width="10.2" stroke-dasharray="2.3 1.1"/>
<use href="#pl" stroke="#556a7c" stroke-width="5.2" stroke-dasharray="1.8 1.6"/>
<use href="#pl" stroke="#eaa87a" stroke-width="1.5"/>
</g>
<g fill="#f01810"><circle cx="61.0" cy="71.0" r="1.45"/><circle cx="72.8" cy="68.4" r="1.45"/><circle cx="87.8" cy="65.8" r="1.45"/><circle cx="107.6" cy="63.8" r="1.45"/><circle cx="124.9" cy="65.5" r="1.45"/><circle cx="135.1" cy="68.2" r="1.45"/><circle cx="152.6" cy="70.9" r="1.45"/><circle cx="164.5" cy="70.2" r="1.45"/><circle cx="28.7" cy="100.8" r="1.45"/><circle cx="42.7" cy="103.7" r="1.45"/><circle cx="58.3" cy="87.6" r="1.45"/><circle cx="76.7" cy="95.4" r="1.45"/><circle cx="89.6" cy="78.6" r="1.45"/><circle cx="104.0" cy="91.3" r="1.45"/><circle cx="118.6" cy="92.6" r="1.45"/><circle cx="181.8" cy="57.0" r="1.45"/><circle cx="191.7" cy="74.6" r="1.45"/><circle cx="214.5" cy="78.3" r="1.45"/><circle cx="229.0" cy="63.4" r="1.45"/><circle cx="238.3" cy="74.3" r="1.45"/><circle cx="253.0" cy="56.8" r="1.45"/><circle cx="265.2" cy="68.5" r="1.45"/><circle cx="280.7" cy="70.6" r="1.45"/><circle cx="300.2" cy="62.6" r="1.45"/><circle cx="257.9" cy="73.8" r="1.45"/><circle cx="271.9" cy="88.9" r="1.45"/><circle cx="283.0" cy="90.6" r="1.45"/><circle cx="300.1" cy="80.6" r="1.45"/><circle cx="314.3" cy="83.0" r="1.45"/><circle cx="324.0" cy="84.4" r="1.45"/><circle cx="346.5" cy="95.8" r="1.45"/><circle cx="356.3" cy="95.6" r="1.45"/><circle cx="121.4" cy="111.1" r="1.45"/><circle cx="137.3" cy="113.4" r="1.45"/><circle cx="144.8" cy="100.9" r="1.45"/><circle cx="164.3" cy="102.9" r="1.45"/><circle cx="175.7" cy="117.9" r="1.45"/><circle cx="185.7" cy="119.8" r="1.45"/><circle cx="202.4" cy="107.1" r="1.45"/><circle cx="217.8" cy="106.0" r="1.45"/><circle cx="237.9" cy="115.3" r="1.45"/><circle cx="248.0" cy="112.3" r="1.45"/><circle cx="251.5" cy="94.9" r="1.45"/><circle cx="42.1" cy="113.7" r="1.45"/><circle cx="52.3" cy="110.9" r="1.45"/><circle cx="72.5" cy="121.7" r="1.45"/><circle cx="82.1" cy="108.4" r="1.45"/><circle cx="96.1" cy="123.1" r="1.45"/><circle cx="114.5" cy="123.8" r="1.45"/><circle cx="130.8" cy="126.0" r="1.45"/><circle cx="141.1" cy="114.5" r="1.45"/><circle cx="153.5" cy="129.2" r="1.45"/><circle cx="112.6" cy="127.7" r="1.45"/><circle cx="128.1" cy="141.8" r="1.45"/><circle cx="139.9" cy="130.1" r="1.45"/><circle cx="152.5" cy="132.9" r="1.45"/><circle cx="160.8" cy="151.2" r="1.45"/><circle cx="178.4" cy="140.8" r="1.45"/><circle cx="197.3" cy="153.1" r="1.45"/><circle cx="214.8" cy="129.4" r="1.45"/><circle cx="231.8" cy="125.5" r="1.45"/><circle cx="243.6" cy="122.9" r="1.45"/><circle cx="261.0" cy="136.7" r="1.45"/><circle cx="274.2" cy="138.1" r="1.45"/><circle cx="290.9" cy="140.5" r="1.45"/><circle cx="301.0" cy="128.2" r="1.45"/><circle cx="315.2" cy="141.9" r="1.45"/><circle cx="332.0" cy="130.6" r="1.45"/><circle cx="345.1" cy="128.9" r="1.45"/><circle cx="357.0" cy="140.5" r="1.45"/><circle cx="170.4" cy="166.3" r="1.45"/><circle cx="182.2" cy="165.5" r="1.45"/><circle cx="203.5" cy="164.0" r="1.45"/><circle cx="212.3" cy="147.6" r="1.45"/><circle cx="221.1" cy="145.7" r="1.45"/><circle cx="241.7" cy="154.9" r="1.45"/><circle cx="250.9" cy="155.4" r="1.45"/><circle cx="269.7" cy="146.1" r="1.45"/><circle cx="133.5" cy="163.5" r="1.45"/><circle cx="147.4" cy="180.3" r="1.45"/><circle cx="156.5" cy="168.2" r="1.45"/><circle cx="171.6" cy="168.8" r="1.45"/><circle cx="188.7" cy="182.0" r="1.45"/><circle cx="202.0" cy="178.9" r="1.45"/><circle cx="222.8" cy="171.5" r="1.45"/><circle cx="289.6" cy="163.4" r="1.45"/><circle cx="300.6" cy="165.0" r="1.45"/><circle cx="317.3" cy="166.5" r="1.45"/><circle cx="325.3" cy="166.7" r="1.45"/><circle cx="345.3" cy="164.2" r="1.45"/><circle cx="360.7" cy="174.5" r="1.45"/><circle cx="368.1" cy="159.1" r="1.45"/><circle cx="52.0" cy="173.5" r="1.45"/><circle cx="69.7" cy="174.1" r="1.45"/><circle cx="85.1" cy="174.5" r="1.45"/><circle cx="96.7" cy="189.3" r="1.45"/><circle cx="108.7" cy="191.8" r="1.45"/><circle cx="132.2" cy="182.0" r="1.45"/><circle cx="138.7" cy="183.6" r="1.45"/><circle cx="154.8" cy="185.4" r="1.45"/><circle cx="167.2" cy="200.0" r="1.45"/><circle cx="227.8" cy="177.7" r="1.45"/><circle cx="242.0" cy="188.6" r="1.45"/><circle cx="257.9" cy="187.9" r="1.45"/><circle cx="272.7" cy="190.4" r="1.45"/><circle cx="281.2" cy="178.3" r="1.45"/><circle cx="296.9" cy="193.0" r="1.45"/><circle cx="309.2" cy="194.1" r="1.45"/><circle cx="325.5" cy="196.6" r="1.45"/><circle cx="947.4" cy="54.3" r="1.45"/><circle cx="965.8" cy="63.4" r="1.45"/><circle cx="973.7" cy="48.1" r="1.45"/><circle cx="989.0" cy="61.7" r="1.45"/><circle cx="1014.3" cy="55.0" r="1.45"/><circle cx="1018.0" cy="69.5" r="1.45"/><circle cx="1039.6" cy="71.3" r="1.45"/><circle cx="1053.3" cy="72.5" r="1.45"/><circle cx="1057.0" cy="45.3" r="1.45"/><circle cx="1071.1" cy="51.6" r="1.45"/><circle cx="1082.7" cy="54.0" r="1.45"/><circle cx="1096.1" cy="54.9" r="1.45"/><circle cx="1120.4" cy="62.5" r="1.45"/><circle cx="1135.0" cy="62.5" r="1.45"/><circle cx="1143.7" cy="50.5" r="1.45"/><circle cx="1163.6" cy="55.8" r="1.45"/><circle cx="1172.7" cy="60.6" r="1.45"/><circle cx="909.2" cy="99.9" r="1.45"/><circle cx="922.7" cy="103.1" r="1.45"/><circle cx="938.8" cy="103.5" r="1.45"/><circle cx="955.1" cy="82.9" r="1.45"/><circle cx="966.1" cy="77.5" r="1.45"/><circle cx="977.9" cy="87.5" r="1.45"/><circle cx="996.0" cy="88.7" r="1.45"/><circle cx="1006.9" cy="90.8" r="1.45"/><circle cx="1000.3" cy="89.0" r="1.45"/><circle cx="1014.9" cy="91.9" r="1.45"/><circle cx="1029.3" cy="93.4" r="1.45"/><circle cx="1038.5" cy="108.2" r="1.45"/><circle cx="1053.1" cy="110.9" r="1.45"/><circle cx="1074.6" cy="112.8" r="1.45"/><circle cx="1089.0" cy="99.2" r="1.45"/><circle cx="1099.2" cy="110.8" r="1.45"/><circle cx="1116.3" cy="109.2" r="1.45"/><circle cx="1128.0" cy="91.9" r="1.45"/><circle cx="1142.0" cy="82.7" r="1.45"/><circle cx="1137.3" cy="80.2" r="1.45"/><circle cx="1156.6" cy="71.0" r="1.45"/><circle cx="1176.4" cy="76.7" r="1.45"/><circle cx="1178.1" cy="91.7" r="1.45"/><circle cx="1195.2" cy="98.2" r="1.45"/><circle cx="1210.4" cy="87.9" r="1.45"/><circle cx="1229.0" cy="102.4" r="1.45"/><circle cx="1243.5" cy="101.5" r="1.45"/><circle cx="931.9" cy="115.5" r="1.45"/><circle cx="949.1" cy="125.7" r="1.45"/><circle cx="961.3" cy="110.1" r="1.45"/><circle cx="975.6" cy="110.0" r="1.45"/><circle cx="988.4" cy="111.7" r="1.45"/><circle cx="995.7" cy="125.8" r="1.45"/><circle cx="1013.1" cy="127.3" r="1.45"/><circle cx="1031.3" cy="116.5" r="1.45"/><circle cx="1039.3" cy="117.4" r="1.45"/><circle cx="1098.1" cy="129.6" r="1.45"/><circle cx="1112.1" cy="138.4" r="1.45"/><circle cx="1125.3" cy="134.8" r="1.45"/><circle cx="1145.9" cy="120.5" r="1.45"/><circle cx="1161.9" cy="135.4" r="1.45"/><circle cx="1167.4" cy="135.7" r="1.45"/><circle cx="1187.7" cy="123.0" r="1.45"/><circle cx="1197.9" cy="135.6" r="1.45"/><circle cx="1216.7" cy="121.0" r="1.45"/><circle cx="1227.6" cy="132.2" r="1.45"/><circle cx="1236.9" cy="113.9" r="1.45"/><circle cx="989.4" cy="150.9" r="1.45"/><circle cx="1004.9" cy="136.3" r="1.45"/><circle cx="1020.5" cy="150.2" r="1.45"/><circle cx="1039.7" cy="138.3" r="1.45"/><circle cx="1043.8" cy="152.5" r="1.45"/><circle cx="1061.2" cy="139.8" r="1.45"/><circle cx="1075.7" cy="149.4" r="1.45"/><circle cx="1053.4" cy="164.6" r="1.45"/><circle cx="1074.3" cy="151.3" r="1.45"/><circle cx="1092.2" cy="162.1" r="1.45"/><circle cx="1098.4" cy="161.4" r="1.45"/><circle cx="1112.9" cy="143.0" r="1.45"/><circle cx="1128.3" cy="139.3" r="1.45"/><circle cx="1139.2" cy="153.4" r="1.45"/><circle cx="1157.2" cy="142.3" r="1.45"/><circle cx="1006.2" cy="164.6" r="1.45"/><circle cx="1011.9" cy="168.0" r="1.45"/><circle cx="1033.2" cy="174.6" r="1.45"/><circle cx="1052.6" cy="164.7" r="1.45"/><circle cx="1058.9" cy="178.6" r="1.45"/><circle cx="1076.9" cy="178.2" r="1.45"/><circle cx="1094.7" cy="174.7" r="1.45"/><circle cx="1161.5" cy="156.8" r="1.45"/><circle cx="1178.6" cy="158.6" r="1.45"/><circle cx="1186.7" cy="172.6" r="1.45"/><circle cx="1210.4" cy="171.8" r="1.45"/><circle cx="1224.4" cy="156.1" r="1.45"/><circle cx="1237.6" cy="165.0" r="1.45"/><circle cx="1255.3" cy="158.6" r="1.45"/><circle cx="933.4" cy="175.1" r="1.45"/><circle cx="952.1" cy="165.0" r="1.45"/><circle cx="960.3" cy="180.6" r="1.45"/><circle cx="977.5" cy="186.3" r="1.45"/><circle cx="996.0" cy="178.1" r="1.45"/><circle cx="1007.8" cy="182.4" r="1.45"/><circle cx="1020.1" cy="186.0" r="1.45"/><circle cx="1041.6" cy="190.5" r="1.45"/><circle cx="1052.5" cy="206.8" r="1.45"/><circle cx="1099.6" cy="185.5" r="1.45"/><circle cx="1109.8" cy="181.2" r="1.45"/><circle cx="1129.7" cy="189.3" r="1.45"/><circle cx="1142.8" cy="176.1" r="1.45"/><circle cx="1162.2" cy="188.2" r="1.45"/><circle cx="1172.5" cy="188.3" r="1.45"/><circle cx="1191.4" cy="174.5" r="1.45"/><circle cx="1202.0" cy="187.4" r="1.45"/><circle cx="972.1" cy="78.4" r="1.45"/><circle cx="984.7" cy="63.0" r="1.45"/><circle cx="1037.1" cy="74.9" r="1.45"/><circle cx="1037.9" cy="92.2" r="1.45"/><circle cx="1071.0" cy="72.6" r="1.45"/><circle cx="1091.6" cy="81.0" r="1.45"/><circle cx="1056.3" cy="95.6" r="1.45"/><circle cx="1068.1" cy="85.9" r="1.45"/><circle cx="1088.3" cy="99.9" r="1.45"/><circle cx="1092.9" cy="84.0" r="1.45"/><circle cx="1106.0" cy="82.6" r="1.45"/><circle cx="1120.1" cy="90.2" r="1.45"/><circle cx="966.6" cy="111.9" r="1.45"/><circle cx="973.6" cy="94.2" r="1.45"/><circle cx="1016.5" cy="104.4" r="1.45"/><circle cx="1025.5" cy="119.5" r="1.45"/><circle cx="1159.3" cy="102.0" r="1.45"/><circle cx="1174.0" cy="89.6" r="1.45"/><circle cx="1124.6" cy="110.1" r="1.45"/><circle cx="1134.1" cy="106.2" r="1.45"/><circle cx="1179.2" cy="117.1" r="1.45"/><circle cx="1183.4" cy="100.8" r="1.45"/><circle cx="1213.3" cy="102.6" r="1.45"/><circle cx="1212.5" cy="116.8" r="1.45"/><circle cx="1075.4" cy="129.3" r="1.45"/><circle cx="1082.7" cy="127.5" r="1.45"/><circle cx="946.6" cy="131.6" r="1.45"/><circle cx="968.2" cy="136.2" r="1.45"/><circle cx="973.8" cy="136.2" r="1.45"/><circle cx="982.3" cy="140.3" r="1.45"/><circle cx="1171.1" cy="136.4" r="1.45"/><circle cx="1174.4" cy="151.0" r="1.45"/><circle cx="1193.7" cy="144.8" r="1.45"/><circle cx="1214.0" cy="148.8" r="1.45"/><circle cx="1224.1" cy="143.5" r="1.45"/><circle cx="1244.6" cy="145.2" r="1.45"/><circle cx="949.3" cy="146.9" r="1.45"/><circle cx="953.1" cy="160.8" r="1.45"/><circle cx="970.9" cy="158.1" r="1.45"/><circle cx="988.9" cy="161.9" r="1.45"/><circle cx="1112.0" cy="164.3" r="1.45"/><circle cx="1127.0" cy="170.5" r="1.45"/><circle cx="1143.8" cy="156.9" r="1.45"/><circle cx="1139.0" cy="170.3" r="1.45"/><circle cx="1009.3" cy="179.1" r="1.45"/><circle cx="1027.1" cy="174.3" r="1.45"/><circle cx="576.5" cy="118.0" r="1.45"/><circle cx="587.2" cy="105.4" r="1.45"/><circle cx="594.4" cy="117.6" r="1.45"/><circle cx="692.1" cy="114.6" r="1.45"/><circle cx="696.2" cy="130.0" r="1.45"/><circle cx="780.8" cy="69.0" r="1.45"/><circle cx="797.5" cy="56.2" r="1.45"/><circle cx="601.7" cy="171.3" r="1.45"/><circle cx="603.9" cy="78.6" r="1.45"/><circle cx="608.5" cy="79.5" r="1.45"/><circle cx="618.6" cy="67.2" r="1.45"/><circle cx="620.3" cy="81.4" r="1.45"/><circle cx="513.0" cy="162.4" r="1.45"/><circle cx="521.3" cy="149.2" r="1.45"/><circle cx="605.1" cy="134.6" r="1.45"/><circle cx="612.3" cy="135.2" r="1.45"/><circle cx="618.3" cy="135.8" r="1.45"/><circle cx="700.1" cy="64.6" r="1.45"/><circle cx="708.2" cy="62.8" r="1.45"/><circle cx="716.8" cy="62.9" r="1.45"/><circle cx="674.4" cy="156.9" r="1.45"/><circle cx="693.6" cy="160.2" r="1.45"/><circle cx="635.5" cy="106.0" r="1.45"/><circle cx="643.1" cy="102.9" r="1.45"/><circle cx="657.8" cy="110.4" r="1.45"/><circle cx="706.2" cy="176.1" r="1.45"/><circle cx="722.4" cy="170.7" r="1.45"/><circle cx="636.0" cy="81.1" r="1.45"/><circle cx="642.8" cy="96.4" r="1.45"/><circle cx="647.2" cy="97.1" r="1.45"/><circle cx="546.4" cy="73.5" r="1.45"/><circle cx="558.1" cy="63.9" r="1.45"/><circle cx="565.8" cy="67.0" r="1.45"/><circle cx="569.3" cy="68.3" r="1.45"/><circle cx="556.0" cy="188.1" r="1.45"/><circle cx="565.3" cy="175.7" r="1.45"/><circle cx="570.9" cy="190.0" r="1.45"/><circle cx="717.7" cy="138.5" r="1.45"/><circle cx="734.8" cy="135.3" r="1.45"/><circle cx="662.5" cy="180.2" r="1.45"/><circle cx="672.4" cy="194.4" r="1.45"/><circle cx="677.4" cy="181.6" r="1.45"/><circle cx="682.6" cy="180.8" r="1.45"/><circle cx="779.5" cy="181.9" r="1.45"/><circle cx="792.9" cy="182.1" r="1.45"/><circle cx="800.2" cy="181.0" r="1.45"/><circle cx="632.7" cy="152.2" r="1.45"/><circle cx="639.1" cy="136.7" r="1.45"/><circle cx="646.5" cy="135.2" r="1.45"/><circle cx="478.6" cy="93.9" r="1.45"/><circle cx="486.4" cy="96.0" r="1.45"/><circle cx="493.1" cy="98.1" r="1.45"/><circle cx="498.7" cy="113.2" r="1.45"/><circle cx="464.8" cy="147.1" r="1.45"/><circle cx="475.5" cy="148.5" r="1.45"/><circle cx="485.6" cy="148.2" r="1.45"/><circle cx="576.0" cy="88.4" r="1.45"/><circle cx="591.2" cy="87.5" r="1.45"/><circle cx="600.2" cy="101.8" r="1.45"/><circle cx="770.6" cy="97.3" r="1.45"/><circle cx="778.5" cy="141.6" r="1.45"/><circle cx="789.6" cy="152.8" r="1.45"/><circle cx="794.0" cy="139.3" r="1.45"/><circle cx="775.8" cy="100.6" r="1.45"/><circle cx="789.5" cy="107.7" r="1.45"/><circle cx="795.4" cy="103.8" r="1.45"/><circle cx="798.8" cy="102.7" r="1.45"/><circle cx="546.0" cy="110.5" r="1.45"/><circle cx="555.0" cy="120.8" r="1.45"/><circle cx="559.6" cy="104.4" r="1.45"/><circle cx="771.7" cy="157.5" r="1.45"/><circle cx="774.9" cy="158.2" r="1.45"/><circle cx="785.8" cy="172.8" r="1.45"/><circle cx="793.9" cy="160.2" r="1.45"/><circle cx="466.2" cy="167.9" r="1.45"/><circle cx="478.9" cy="177.8" r="1.45"/><circle cx="728.3" cy="113.0" r="1.45"/><circle cx="733.0" cy="112.9" r="1.45"/><circle cx="744.6" cy="101.6" r="1.45"/><circle cx="750.0" cy="103.6" r="1.45"/><circle cx="493.4" cy="56.3" r="1.45"/><circle cx="511.7" cy="69.4" r="1.45"/><circle cx="667.2" cy="130.8" r="1.45"/><circle cx="672.3" cy="133.0" r="1.45"/><circle cx="678.2" cy="149.1" r="1.45"/><circle cx="692.7" cy="139.5" r="1.45"/><circle cx="615.3" cy="112.0" r="1.45"/><circle cx="624.3" cy="109.7" r="1.45"/><circle cx="517.6" cy="142.5" r="1.45"/><circle cx="521.6" cy="128.6" r="1.45"/><circle cx="677.0" cy="57.9" r="1.45"/><circle cx="681.8" cy="72.7" r="1.45"/><circle cx="574.9" cy="159.5" r="1.45"/><circle cx="575.9" cy="145.4" r="1.45"/><circle cx="585.3" cy="155.9" r="1.45"/><circle cx="587.1" cy="142.2" r="1.45"/><circle cx="514.5" cy="89.9" r="1.45"/><circle cx="529.3" cy="99.2" r="1.45"/><circle cx="712.1" cy="160.5" r="1.45"/><circle cx="718.4" cy="158.4" r="1.45"/><circle cx="730.3" cy="168.4" r="1.45"/><circle cx="790.9" cy="73.0" r="1.45"/><circle cx="804.0" cy="66.7" r="1.45"/><circle cx="529.3" cy="186.4" r="1.45"/><circle cx="474.8" cy="185.8" r="1.45"/><circle cx="485.5" cy="196.7" r="1.45"/><circle cx="490.3" cy="195.3" r="1.45"/><circle cx="495.0" cy="181.7" r="1.45"/><circle cx="702.9" cy="85.1" r="1.45"/><circle cx="712.7" cy="90.0" r="1.45"/><circle cx="648.7" cy="70.2" r="1.45"/><circle cx="647.9" cy="85.7" r="1.45"/><circle cx="658.1" cy="90.4" r="1.45"/><circle cx="537.1" cy="79.2" r="1.45"/><circle cx="805.4" cy="177.1" r="1.45"/><circle cx="821.0" cy="178.6" r="1.45"/><circle cx="504.2" cy="89.7" r="1.45"/><circle cx="507.4" cy="89.5" r="1.45"/><circle cx="577.4" cy="201.2" r="1.45"/><circle cx="585.2" cy="201.8" r="1.45"/><circle cx="753.0" cy="90.8" r="1.45"/><circle cx="638.9" cy="167.3" r="1.45"/><circle cx="649.1" cy="171.4" r="1.45"/><circle cx="756.0" cy="138.8" r="1.45"/><circle cx="769.6" cy="154.7" r="1.45"/><circle cx="697.1" cy="147.7" r="1.45"/><circle cx="711.5" cy="153.7" r="1.45"/><circle cx="709.5" cy="139.3" r="1.45"/><circle cx="614.4" cy="122.9" r="1.45"/><circle cx="620.7" cy="121.2" r="1.45"/><circle cx="629.4" cy="119.4" r="1.45"/><circle cx="633.7" cy="118.0" r="1.45"/><circle cx="616.2" cy="184.7" r="1.45"/><circle cx="621.6" cy="184.4" r="1.45"/><circle cx="630.0" cy="183.8" r="1.45"/><circle cx="634.5" cy="196.7" r="1.45"/><circle cx="471.9" cy="110.6" r="1.45"/><circle cx="475.0" cy="126.0" r="1.45"/><circle cx="484.6" cy="116.4" r="1.45"/><circle cx="499.3" cy="118.7" r="1.45"/><circle cx="470.1" cy="166.2" r="1.45"/><circle cx="479.2" cy="153.8" r="1.45"/><circle cx="760.3" cy="134.0" r="1.45"/><circle cx="773.9" cy="138.2" r="1.45"/><circle cx="560.7" cy="141.6" r="1.45"/><circle cx="569.3" cy="141.0" r="1.45"/><circle cx="579.3" cy="127.0" r="1.45"/><circle cx="585.3" cy="127.8" r="1.45"/><circle cx="518.1" cy="188.6" r="1.45"/><circle cx="528.9" cy="201.8" r="1.45"/><circle cx="565.8" cy="53.7" r="1.45"/><circle cx="580.1" cy="55.4" r="1.45"/><circle cx="589.1" cy="67.6" r="1.45"/><circle cx="538.9" cy="196.5" r="1.45"/><circle cx="545.7" cy="198.2" r="1.45"/><circle cx="552.1" cy="185.6" r="1.45"/><circle cx="558.5" cy="188.6" r="1.45"/><circle cx="754.1" cy="171.9" r="1.45"/><circle cx="471.9" cy="65.3" r="1.45"/><circle cx="478.8" cy="77.9" r="1.45"/><circle cx="485.0" cy="62.7" r="1.45"/><circle cx="536.8" cy="154.0" r="1.45"/><circle cx="551.9" cy="148.8" r="1.45"/><circle cx="568.4" cy="157.9" r="1.45"/><circle cx="643.6" cy="54.4" r="1.45"/><circle cx="652.8" cy="54.8" r="1.45"/><circle cx="659.8" cy="69.1" r="1.45"/><circle cx="590.0" cy="176.1" r="1.45"/><circle cx="594.7" cy="173.7" r="1.45"/><circle cx="598.6" cy="157.8" r="1.45"/><circle cx="605.5" cy="154.9" r="1.45"/><circle cx="801.1" cy="127.7" r="1.45"/><circle cx="597.8" cy="115.2" r="1.45"/><circle cx="608.4" cy="112.3" r="1.45"/><circle cx="767.7" cy="110.1" r="1.45"/><circle cx="770.8" cy="125.4" r="1.45"/><circle cx="779.6" cy="115.0" r="1.45"/><circle cx="719.2" cy="198.3" r="1.45"/><circle cx="726.1" cy="186.5" r="1.45"/><circle cx="666.4" cy="125.9" r="1.45"/><circle cx="646.2" cy="169.4" r="1.45"/><circle cx="650.7" cy="168.9" r="1.45"/><circle cx="655.8" cy="171.0" r="1.45"/><circle cx="681.1" cy="136.0" r="1.45"/><circle cx="692.0" cy="125.3" r="1.45"/><circle cx="692.4" cy="139.9" r="1.45"/><circle cx="701.8" cy="129.2" r="1.45"/><circle cx="717.3" cy="89.5" r="1.45"/><circle cx="732.8" cy="72.8" r="1.45"/><circle cx="742.8" cy="59.8" r="1.45"/><circle cx="549.1" cy="84.4" r="1.45"/><circle cx="559.2" cy="86.3" r="1.45"/><circle cx="740.5" cy="147.5" r="1.45"/><circle cx="752.3" cy="151.8" r="1.45"/><circle cx="772.0" cy="65.1" r="1.45"/><circle cx="774.7" cy="78.9" r="1.45"/><circle cx="675.1" cy="97.4" r="1.45"/><circle cx="687.9" cy="108.8" r="1.45"/><circle cx="519.8" cy="108.7" r="1.45"/><circle cx="744.6" cy="187.8" r="1.45"/><circle cx="755.1" cy="187.5" r="1.45"/><circle cx="705.5" cy="105.6" r="1.45"/><circle cx="677.3" cy="92.3" r="1.45"/><circle cx="688.4" cy="91.5" r="1.45"/><circle cx="533.3" cy="111.3" r="1.45"/><circle cx="540.6" cy="96.1" r="1.45"/><circle cx="550.0" cy="109.9" r="1.45"/><circle cx="579.0" cy="74.2" r="1.45"/><circle cx="595.2" cy="84.4" r="1.45"/><circle cx="621.6" cy="56.2" r="1.45"/><circle cx="628.2" cy="69.1" r="1.45"/><circle cx="630.5" cy="54.8" r="1.45"/><circle cx="743.9" cy="91.0" r="1.45"/><circle cx="467.7" cy="96.2" r="1.45"/><circle cx="485.2" cy="95.1" r="1.45"/><circle cx="807.7" cy="145.1" r="1.45"/><circle cx="814.2" cy="144.7" r="1.45"/><circle cx="544.8" cy="128.0" r="1.45"/><circle cx="533.1" cy="173.7" r="1.45"/><circle cx="539.0" cy="176.1" r="1.45"/><circle cx="492.4" cy="165.3" r="1.45"/><circle cx="497.8" cy="152.3" r="1.45"/><circle cx="460.2" cy="133.1" r="1.45"/><circle cx="466.6" cy="120.5" r="1.45"/><circle cx="467.5" cy="134.8" r="1.45"/><circle cx="753.8" cy="68.1" r="1.45"/><circle cx="757.9" cy="53.6" r="1.45"/><circle cx="788.6" cy="94.4" r="1.45"/><circle cx="786.1" cy="80.6" r="1.45"/><circle cx="577.3" cy="115.2" r="1.45"/><circle cx="580.7" cy="114.7" r="1.45"/><circle cx="585.1" cy="114.7" r="1.45"/><circle cx="498.3" cy="175.9" r="1.45"/><circle cx="503.3" cy="163.7" r="1.45"/><circle cx="666.1" cy="158.1" r="1.45"/><circle cx="477.0" cy="65.0" r="1.45"/><circle cx="480.0" cy="51.7" r="1.45"/><circle cx="482.8" cy="52.1" r="1.45"/><circle cx="649.3" cy="202.9" r="1.45"/><circle cx="656.1" cy="199.8" r="1.45"/><circle cx="805.2" cy="99.5" r="1.45"/><circle cx="808.2" cy="98.5" r="1.45"/><circle cx="620.6" cy="161.4" r="1.45"/><circle cx="626.0" cy="148.6" r="1.45"/><circle cx="699.7" cy="65.7" r="1.45"/><circle cx="711.7" cy="66.4" r="1.45"/><circle cx="621.7" cy="123.7" r="1.45"/><circle cx="625.7" cy="123.4" r="1.45"/><circle cx="625.9" cy="108.8" r="1.45"/><circle cx="806.6" cy="159.4" r="1.45"/><circle cx="809.9" cy="145.0" r="1.45"/><circle cx="811.3" cy="158.6" r="1.45"/><circle cx="759.1" cy="109.4" r="1.45"/><circle cx="767.9" cy="111.5" r="1.45"/><circle cx="579.5" cy="191.7" r="1.45"/><circle cx="586.3" cy="179.5" r="1.45"/><circle cx="592.3" cy="192.1" r="1.45"/><circle cx="603.1" cy="184.8" r="1.45"/><circle cx="608.5" cy="184.9" r="1.45"/><circle cx="569.0" cy="132.6" r="1.45"/><circle cx="770.0" cy="184.1" r="1.45"/><circle cx="778.4" cy="182.7" r="1.45"/><circle cx="693.3" cy="189.0" r="1.45"/><circle cx="699.4" cy="188.3" r="1.45"/><circle cx="600.4" cy="53.6" r="1.45"/><circle cx="607.0" cy="66.8" r="1.45"/><circle cx="458.0" cy="199.6" r="1.45"/><circle cx="464.9" cy="187.1" r="1.45"/><circle cx="467.0" cy="187.1" r="1.45"/><circle cx="742.0" cy="135.9" r="1.45"/><circle cx="746.0" cy="137.4" r="1.45"/><circle cx="700.6" cy="161.5" r="1.45"/><circle cx="531.5" cy="67.1" r="1.45"/><circle cx="537.5" cy="52.8" r="1.45"/><circle cx="797.0" cy="127.2" r="1.45"/><circle cx="615.2" cy="79.0" r="1.45"/><circle cx="616.3" cy="92.8" r="1.45"/><circle cx="737.4" cy="178.5" r="1.45"/><circle cx="731.4" cy="166.7" r="1.45"/><circle cx="737.6" cy="163.3" r="1.45"/><circle cx="528.3" cy="109.8" r="1.45"/><circle cx="536.2" cy="109.7" r="1.45"/><circle cx="811.4" cy="94.8" r="1.45"/><circle cx="808.1" cy="81.9" r="1.45"/><circle cx="671.1" cy="180.4" r="1.45"/><circle cx="675.2" cy="181.9" r="1.45"/><circle cx="679.4" cy="182.0" r="1.45"/><circle cx="498.2" cy="188.3" r="1.45"/><circle cx="508.3" cy="177.6" r="1.45"/><circle cx="512.0" cy="191.2" r="1.45"/><circle cx="768.6" cy="51.3" r="1.45"/><circle cx="775.9" cy="51.4" r="1.45"/><circle cx="723.9" cy="113.5" r="1.45"/><circle cx="727.4" cy="113.1" r="1.45"/><circle cx="732.2" cy="112.7" r="1.45"/><circle cx="719.5" cy="137.6" r="1.45"/><circle cx="730.6" cy="149.1" r="1.45"/></g>
<defs>
<linearGradient id="gTop" x1="0" y1="0" x2="0" y2="1"><stop offset="0" stop-color="#efe3e4"/><stop offset="0.5" stop-color="#d9cfd2"/><stop offset="1" stop-color="#e6dadb"/></linearGradient>
<linearGradient id="gFace" x1="0" y1="0" x2="0" y2="1"><stop offset="0" stop-color="#84848f"/><stop offset="0.5" stop-color="#b4b3b7"/><stop offset="1" stop-color="#a9a9ab"/></linearGradient>
<linearGradient id="gFaceE" x1="0" y1="0" x2="0.25" y2="1"><stop offset="0" stop-color="#d2cfd1"/><stop offset="0.35" stop-color="#b2b1b4"/><stop offset="0.7" stop-color="#bfbec0"/><stop offset="1" stop-color="#959597"/></linearGradient>
<linearGradient id="gFaceH" x1="0" y1="0" x2="0" y2="1"><stop offset="0" stop-color="#9e9dab"/><stop offset="0.5" stop-color="#adacb4"/><stop offset="1" stop-color="#bcbbbe"/></linearGradient>
<linearGradient id="mgB" gradientUnits="userSpaceOnUse" x1="0" y1="300" x2="0" y2="372"><stop offset="0" stop-color="#fff"/><stop offset="0.45" stop-color="#ddd"/><stop offset="0.75" stop-color="#444"/><stop offset="1" stop-color="#111"/></linearGradient>
<mask id="mkB" maskUnits="userSpaceOnUse" x="20" y="280" width="370" height="110"><rect x="20" y="280" width="370" height="110" fill="url(#mgB)" transform="rotate(-3 200 330)"/></mask>
<linearGradient id="mgH" gradientUnits="userSpaceOnUse" x1="1000" y1="320" x2="1180" y2="400"><stop offset="0" stop-color="#fff"/><stop offset="0.5" stop-color="#aaa"/><stop offset="1" stop-color="#333"/></linearGradient>
<mask id="mkH" maskUnits="userSpaceOnUse" x="960" y="290" width="290" height="130"><rect x="960" y="290" width="290" height="130" fill="url(#mgH)"/></mask>
<radialGradient id="mgHt" gradientUnits="userSpaceOnUse" cx="1150" cy="290" r="90" gradientTransform="translate(1150 290) scale(1 0.5) translate(-1150 -290)"><stop offset="0" stop-color="#fff"/><stop offset="0.6" stop-color="#999"/><stop offset="1" stop-color="#000"/></radialGradient>
<mask id="mkHt" maskUnits="userSpaceOnUse" x="960" y="220" width="290" height="140"><rect x="960" y="220" width="290" height="140" fill="url(#mgHt)"/></mask>
</defs>
<rect x="21.4" y="209.2" width="355.8" height="209.8" fill="#000"/>
<clipPath id="cbO"><path d="M36.3 266.2 C39.7 261.9 41.3 259.6 52.0 259.1 C62.7 258.6 80.5 261.4 100.4 263.3 C120.3 265.2 147.8 268.8 171.5 270.5 C195.3 272.1 223.7 274.5 242.7 273.3 C261.7 272.1 273.5 266.2 285.4 263.3 C297.2 260.5 306.7 257.2 313.8 256.2 C321.0 255.3 322.9 254.3 328.1 257.7 C333.3 261.0 339.2 270.9 345.2 276.2 C351.1 281.4 359.9 281.8 363.7 289.0 C367.5 296.1 367.3 310.5 367.9 318.8 C368.5 327.1 369.3 334.6 367.4 338.8 C365.5 342.9 365.5 341.4 356.5 343.9 C347.6 346.4 331.4 349.9 313.8 353.6 C296.3 357.3 274.5 364.5 251.2 366.1 C228.0 367.7 202.4 364.9 174.4 363.2 C146.4 361.6 100.4 358.5 83.3 356.4 C66.2 354.3 75.2 353.7 71.9 350.7 C68.6 347.8 67.2 343.1 63.4 338.8 C59.6 334.4 52.7 328.6 49.2 324.5 C45.6 320.5 44.8 317.9 42.0 314.6 C39.3 311.3 34.3 309.6 32.6 304.6 C31.0 299.6 31.5 291.1 32.1 284.7 C32.7 278.3 33.0 270.5 36.3 266.2Z"/></clipPath><clipPath id="cbF"><path d="M76.2 305.2 C90.2 304.4 129.6 306.6 157.3 306.3 C185.1 306.0 219.0 304.7 242.7 303.5 C266.4 302.3 280.6 301.4 299.6 299.2 C318.6 297.0 345.5 290.7 356.5 290.4 C367.5 290.1 363.8 289.7 365.6 297.5 C367.5 305.3 368.9 329.7 367.4 337.3 C365.8 345.0 365.5 340.8 356.5 343.3 C347.6 345.8 331.4 348.8 313.8 352.4 C296.3 356.0 274.5 363.3 251.2 365.0 C228.0 366.6 202.4 363.7 174.4 362.1 C146.4 360.5 100.0 357.5 83.3 355.3 C66.6 353.0 75.9 356.1 74.2 348.7 C72.5 341.3 73.0 318.1 73.3 310.9 C73.7 303.6 62.2 305.9 76.2 305.2Z"/></clipPath>
<path d="M36.3 266.2 C39.7 261.9 41.3 259.6 52.0 259.1 C62.7 258.6 80.5 261.4 100.4 263.3 C120.3 265.2 147.8 268.8 171.5 270.5 C195.3 272.1 223.7 274.5 242.7 273.3 C261.7 272.1 273.5 266.2 285.4 263.3 C297.2 260.5 306.7 257.2 313.8 256.2 C321.0 255.3 322.9 254.3 328.1 257.7 C333.3 261.0 339.2 270.9 345.2 276.2 C351.1 281.4 359.9 281.8 363.7 289.0 C367.5 296.1 367.3 310.5 367.9 318.8 C368.5 327.1 369.3 334.6 367.4 338.8 C365.5 342.9 365.5 341.4 356.5 343.9 C347.6 346.4 331.4 349.9 313.8 353.6 C296.3 357.3 274.5 364.5 251.2 366.1 C228.0 367.7 202.4 364.9 174.4 363.2 C146.4 361.6 100.4 358.5 83.3 356.4 C66.2 354.3 75.2 353.7 71.9 350.7 C68.6 347.8 67.2 343.1 63.4 338.8 C59.6 334.4 52.7 328.6 49.2 324.5 C45.6 320.5 44.8 317.9 42.0 314.6 C39.3 311.3 34.3 309.6 32.6 304.6 C31.0 299.6 31.5 291.1 32.1 284.7 C32.7 278.3 33.0 270.5 36.3 266.2Z" fill="url(#gTop)" stroke="#f3e6e6" stroke-width="1.2"/>
<g clip-path="url(#cbO)">
<path d="M32.1 279.0 C34.9 273.5 43.9 268.6 49.2 270.5 C54.4 272.4 58.9 284.2 63.4 290.4 C67.9 296.6 74.5 298.0 76.2 307.5 C77.9 316.9 76.4 343.0 73.3 347.3 C70.3 351.6 62.9 338.5 57.7 333.1 C52.5 327.6 46.3 319.6 42.0 314.6 C37.8 309.6 33.7 309.1 32.1 303.2 C30.4 297.3 29.2 284.5 32.1 279.0Z" fill="#a79fa6" opacity="0.8" filter="url(#bl2)"/>
<path d="M43.5 268.2 C53.9 268.5 84.3 268.5 106.1 269.9 C127.9 271.3 151.6 275.2 174.4 276.7 C197.2 278.2 223.7 280.3 242.7 279.0 C261.7 277.7 275.4 271.9 288.2 269.0 C301.0 266.2 314.3 263.1 319.5 261.9" fill="none" stroke="#c7bdc4" stroke-width="5" opacity="0.85" filter="url(#bl2)"/>
<path d="M40.6 276.2 C50.6 276.2 78.1 275.4 100.4 276.7 C122.7 278.0 150.7 282.2 174.4 283.8 C198.1 285.5 221.8 288.1 242.7 286.7 C263.6 285.3 284.4 278.0 299.6 275.3 C314.8 272.6 328.1 271.3 333.8 270.5" fill="none" stroke="#fff8f8" stroke-width="6" opacity="0.95" filter="url(#bl2)"/>
<path d="M49.2 286.1 C59.1 286.3 86.2 285.9 108.9 287.0 C131.7 288.1 162.5 291.5 185.8 292.7 C209.0 293.8 228.9 294.9 248.4 293.8 C267.8 292.7 285.9 288.3 302.5 286.1 C319.1 283.9 340.4 281.4 348.0 280.4" fill="none" stroke="#b9afb8" stroke-width="6" opacity="0.9" filter="url(#bl2)"/>
<path d="M63.4 296.6 C74.3 296.7 106.6 296.6 128.8 297.2 C151.1 297.9 175.8 300.2 197.2 300.6 C218.5 301.1 237.5 301.1 256.9 299.8 C276.4 298.4 297.2 294.7 313.8 292.7 C330.4 290.6 349.4 288.4 356.5 287.5" fill="none" stroke="#fff6f6" stroke-width="5" opacity="0.95" filter="url(#bl2)"/>
<rect x="30" y="250" width="340" height="70" filter="url(#ctB2t)" opacity="0.3"/>
<path d="M39.2 271.9 C39.4 275.6 39.5 286.6 40.2 293.9 C40.9 301.3 42.9 312.3 43.5 316.0" fill="none" stroke="#fbf1f2" stroke-width="2.4" opacity="0.75" filter="url(#bl1)"/>
<path d="M49.2 274.7 C49.4 279.1 49.9 292.3 50.9 301.1 C51.8 309.8 54.2 323.0 54.8 327.4" fill="none" stroke="#938c96" stroke-width="2.4" opacity="0.75" filter="url(#bl1)"/>
<path d="M60.5 281.8 C60.9 286.6 61.8 300.8 63.0 310.3 C64.1 319.8 66.9 334.0 67.7 338.8" fill="none" stroke="#fbf1f2" stroke-width="2.4" opacity="0.75" filter="url(#bl1)"/>
</g>
<path d="M76.2 305.2 C90.2 304.4 129.6 306.6 157.3 306.3 C185.1 306.0 219.0 304.7 242.7 303.5 C266.4 302.3 280.6 301.4 299.6 299.2 C318.6 297.0 345.5 290.7 356.5 290.4 C367.5 290.1 363.8 289.7 365.6 297.5 C367.5 305.3 368.9 329.7 367.4 337.3 C365.8 345.0 365.5 340.8 356.5 343.3 C347.6 345.8 331.4 348.8 313.8 352.4 C296.3 356.0 274.5 363.3 251.2 365.0 C228.0 366.6 202.4 363.7 174.4 362.1 C146.4 360.5 100.0 357.5 83.3 355.3 C66.6 353.0 75.9 356.1 74.2 348.7 C72.5 341.3 73.0 318.1 73.3 310.9 C73.7 303.6 62.2 305.9 76.2 305.2Z" fill="url(#gFace)"/>
<g clip-path="url(#cbF)">
<rect x="60" y="295" width="320" height="80" filter="url(#ctB4)" opacity="0.9"/>
<g mask="url(#mkB)">
<path d="M70.5 301.8 C85.0 293.0 128.6 303.4 157.3 303.2 C186.0 303.0 219.0 301.5 242.7 300.3 C266.4 299.2 278.5 298.4 299.6 296.1 C320.7 293.7 357.7 278.5 369.3 286.1 C381.0 293.7 390.5 328.6 369.3 341.6 C348.2 354.7 292.5 362.0 242.7 364.4 C192.9 366.8 99.2 366.3 70.5 355.8 C41.8 345.4 56.0 310.5 70.5 301.8Z" fill="#2e3aa8" opacity="0.5"/>
<rect x="60" y="295" width="320" height="80" filter="url(#ctB1)"/>
<rect x="60" y="295" width="320" height="80" filter="url(#ctB1b)" opacity="0.85"/>
</g>
<g opacity="0.75"><rect x="120" y="325" width="250" height="26" filter="url(#ctW)"/></g>
</g>
<path d="M76.2 305.2 C90.2 304.4 129.6 306.6 157.3 306.3 C185.1 306.0 219.0 304.7 242.7 303.5 C266.4 302.3 280.6 301.4 299.6 299.2 C318.6 297.0 345.5 290.7 356.5 290.4 C367.5 290.1 363.8 289.7 365.6 297.5 C367.5 305.3 368.9 329.7 367.4 337.3 C365.8 345.0 365.5 340.8 356.5 343.3 C347.6 345.8 331.4 348.8 313.8 352.4 C296.3 356.0 274.5 363.3 251.2 365.0 C228.0 366.6 202.4 363.7 174.4 362.1 C146.4 360.5 100.0 357.5 83.3 355.3 C66.6 353.0 75.9 356.1 74.2 348.7 C72.5 341.3 73.0 318.1 73.3 310.9 C73.7 303.6 62.2 305.9 76.2 305.2Z" fill="none" stroke="#f6eaea" stroke-width="1.1" opacity="0.9"/>
<rect x="31.2" y="407.2" width="44.2" height="5" fill="#fff"/>
<rect x="458" y="209.2" width="355.8" height="209.8" fill="#000"/>
<clipPath id="ceO"><path d="M492.7 270.5 C498.4 262.6 509.3 256.5 521.2 252.0 C533.0 247.5 547.2 244.1 563.8 243.4 C580.4 242.7 604.6 247.0 620.8 247.7 C636.9 248.4 648.3 250.1 660.6 247.7 C672.9 245.3 684.8 235.4 694.8 233.5 C704.7 231.6 711.4 233.5 720.4 236.3 C729.4 239.2 739.4 246.3 748.8 250.5 C758.3 254.8 768.8 257.9 777.3 261.9 C785.8 266.0 796.0 268.6 800.1 274.7 C804.2 280.9 803.2 291.6 801.8 298.9 C800.4 306.3 795.6 314.8 791.5 318.8 C787.5 322.9 784.4 323.6 777.3 323.4 C770.2 323.2 758.3 316.6 748.8 317.7 C739.4 318.8 729.9 324.8 720.4 330.2 C710.9 335.6 703.8 346.3 691.9 350.2 C680.1 354.0 663.5 353.0 649.2 353.6 C635.0 354.1 620.8 351.2 606.5 353.6 C592.3 355.9 578.1 362.1 563.8 367.8 C549.6 373.5 534.0 383.2 521.2 387.7 C508.3 392.2 494.4 395.4 487.0 394.8 C479.6 394.3 478.5 393.7 477.0 384.3 C475.6 375.0 476.8 353.0 478.5 338.8 C480.1 324.5 484.6 310.3 487.0 298.9 C489.4 287.5 487.0 278.3 492.7 270.5Z"/></clipPath><clipPath id="ceT"><path d="M492.7 270.5 C497.0 262.4 509.3 256.5 521.2 252.0 C533.0 247.5 547.2 244.1 563.8 243.4 C580.4 242.7 604.6 247.0 620.8 247.7 C636.9 248.4 648.3 250.1 660.6 247.7 C672.9 245.3 684.8 235.4 694.8 233.5 C704.7 231.6 711.4 233.5 720.4 236.3 C729.4 239.2 739.4 246.3 748.8 250.5 C758.3 254.8 774.9 259.8 777.3 261.9 C779.7 264.1 770.2 262.2 763.1 263.3 C756.0 264.5 746.5 266.2 734.6 269.0 C722.8 271.9 706.2 276.9 691.9 280.4 C677.7 284.0 665.8 289.6 649.2 290.4 C632.6 291.2 608.9 285.6 592.3 285.3 C575.7 284.9 565.7 285.6 549.6 288.1 C533.5 290.6 505.0 303.3 495.5 300.3 C486.1 297.4 488.4 278.5 492.7 270.5Z"/></clipPath>
<path d="M492.7 270.5 C498.4 262.6 509.3 256.5 521.2 252.0 C533.0 247.5 547.2 244.1 563.8 243.4 C580.4 242.7 604.6 247.0 620.8 247.7 C636.9 248.4 648.3 250.1 660.6 247.7 C672.9 245.3 684.8 235.4 694.8 233.5 C704.7 231.6 711.4 233.5 720.4 236.3 C729.4 239.2 739.4 246.3 748.8 250.5 C758.3 254.8 768.8 257.9 777.3 261.9 C785.8 266.0 796.0 268.6 800.1 274.7 C804.2 280.9 803.2 291.6 801.8 298.9 C800.4 306.3 795.6 314.8 791.5 318.8 C787.5 322.9 784.4 323.6 777.3 323.4 C770.2 323.2 758.3 316.6 748.8 317.7 C739.4 318.8 729.9 324.8 720.4 330.2 C710.9 335.6 703.8 346.3 691.9 350.2 C680.1 354.0 663.5 353.0 649.2 353.6 C635.0 354.1 620.8 351.2 606.5 353.6 C592.3 355.9 578.1 362.1 563.8 367.8 C549.6 373.5 534.0 383.2 521.2 387.7 C508.3 392.2 494.4 395.4 487.0 394.8 C479.6 394.3 478.5 393.7 477.0 384.3 C475.6 375.0 476.8 353.0 478.5 338.8 C480.1 324.5 484.6 310.3 487.0 298.9 C489.4 287.5 487.0 278.3 492.7 270.5Z" fill="url(#gFaceE)" stroke="#f3e6e6" stroke-width="1.3"/>
<g clip-path="url(#ceO)">
<path d="M484.2 324.5 C495.1 321.7 530.6 310.8 549.6 307.5 C568.6 304.1 580.4 303.7 598.0 304.6 C615.6 305.6 637.8 314.1 654.9 313.2 C672.0 312.2 685.3 303.7 700.5 298.9 C715.6 294.2 729.9 286.1 746.0 284.7 C762.1 283.3 788.7 289.4 797.2 290.4" fill="none" stroke="#cfcdd0" stroke-width="14" opacity="0.8" filter="url(#bl4)"/>
<path d="M481.3 353.0 C490.3 349.7 516.9 337.8 535.4 333.1 C553.9 328.3 573.3 324.5 592.3 324.5 C611.3 324.5 631.2 334.0 649.2 333.1 C667.3 332.1 686.2 323.6 700.5 318.8 C714.7 314.1 719.4 306.0 734.6 304.6 C749.8 303.2 782.1 309.4 791.5 310.3" fill="none" stroke="#8d8d90" stroke-width="12" opacity="0.7" filter="url(#bl4)"/>
<path d="M481.3 375.8 C490.3 372.9 517.8 364.4 535.4 358.7 C552.9 353.0 567.6 344.0 586.6 341.6 C605.6 339.2 630.3 345.9 649.2 344.5 C668.2 343.0 686.2 337.3 700.5 333.1 C714.7 328.8 728.9 321.2 734.6 318.8" fill="none" stroke="#c2c1c3" stroke-width="10" opacity="0.7" filter="url(#bl4)"/>
<path d="M492.7 270.5 C497.0 262.4 509.3 256.5 521.2 252.0 C533.0 247.5 547.2 244.1 563.8 243.4 C580.4 242.7 604.6 247.0 620.8 247.7 C636.9 248.4 648.3 250.1 660.6 247.7 C672.9 245.3 684.8 235.4 694.8 233.5 C704.7 231.6 711.4 233.5 720.4 236.3 C729.4 239.2 739.4 246.3 748.8 250.5 C758.3 254.8 774.9 259.8 777.3 261.9 C779.7 264.1 770.2 262.2 763.1 263.3 C756.0 264.5 746.5 266.2 734.6 269.0 C722.8 271.9 706.2 276.9 691.9 280.4 C677.7 284.0 665.8 289.6 649.2 290.4 C632.6 291.2 608.9 285.6 592.3 285.3 C575.7 284.9 565.7 285.6 549.6 288.1 C533.5 290.6 505.0 303.3 495.5 300.3 C486.1 297.4 488.4 278.5 492.7 270.5Z" fill="#ddd5d8" opacity="0.85" filter="url(#bl1)"/>
<path d="M498.4 279.0 C504.6 276.4 522.1 267.1 535.4 263.3 C548.7 259.6 562.9 256.7 578.1 256.2 C593.3 255.8 611.8 259.8 626.5 260.5 C641.2 261.2 654.0 263.1 666.3 260.5 C678.6 257.9 691.0 247.7 700.5 244.8 C709.9 242.0 719.4 243.7 723.2 243.4" fill="none" stroke="#fbf3f3" stroke-width="5" opacity="0.95" filter="url(#bl2)"/>
<path d="M495.5 289.0 C503.1 286.6 526.4 278.1 541.1 274.7 C555.8 271.4 568.6 269.3 583.8 269.0 C598.9 268.8 617.4 272.8 632.2 273.3 C646.9 273.8 659.7 274.7 672.0 271.9 C684.3 269.0 695.7 259.3 706.2 256.2 C716.6 253.1 729.9 253.9 734.6 253.4" fill="none" stroke="#b9b2b8" stroke-width="5" opacity="0.85" filter="url(#bl2)"/>
<path d="M498.4 295.5 C506.4 293.5 531.1 286.1 546.8 283.3 C562.4 280.4 576.2 278.4 592.3 278.4 C608.4 278.4 628.4 283.6 643.5 283.3 C658.7 282.9 670.6 279.5 683.4 276.2 C696.2 272.8 708.1 266.2 720.4 263.3 C732.7 260.5 751.2 259.8 757.4 259.1" fill="none" stroke="#f7eeee" stroke-width="4" opacity="0.9" filter="url(#bl2)"/>
<g clip-path="url(#ceT)"><rect x="470" y="225" width="340" height="80" filter="url(#ctB2t)" opacity="0.7"/></g>
<rect x="470" y="262" width="340" height="130" filter="url(#ctB2)"/>
<g filter="url(#rough)">
<ellipse cx="516.0" cy="351.6" rx="9.7" ry="2.3" fill="#3b4fe0" transform="rotate(-12 516.0 351.6)"/>
<ellipse cx="511.2" cy="347.3" rx="5.1" ry="1.4" fill="#3b4fe0" transform="rotate(-12 511.2 347.3)"/>
<ellipse cx="606.5" cy="322.3" rx="5.7" ry="2.0" fill="#3b4fe0" transform="rotate(-12 606.5 322.3)"/>
<ellipse cx="612.2" cy="326.0" rx="4.0" ry="1.7" fill="#3b4fe0" transform="rotate(-12 612.2 326.0)"/>
<ellipse cx="548.2" cy="338.2" rx="6.3" ry="1.4" fill="#3b4fe0" transform="rotate(-12 548.2 338.2)"/>
<ellipse cx="566.7" cy="334.5" rx="3.4" ry="1.7" fill="#3b4fe0" transform="rotate(-12 566.7 334.5)"/>
<ellipse cx="734.6" cy="273.3" rx="6.3" ry="1.1" fill="#3b4fe0" transform="rotate(-12 734.6 273.3)"/>
<ellipse cx="771.6" cy="293.2" rx="4.6" ry="1.4" fill="#3b4fe0" transform="rotate(-12 771.6 293.2)"/>
<ellipse cx="689.1" cy="290.4" rx="5.7" ry="1.7" fill="#3b4fe0" transform="rotate(-12 689.1 290.4)"/>
<ellipse cx="697.6" cy="328.8" rx="2.8" ry="2.0" fill="#3b4fe0" transform="rotate(-12 697.6 328.8)"/>
<ellipse cx="727.5" cy="313.2" rx="2.8" ry="1.4" fill="#3b4fe0" transform="rotate(-12 727.5 313.2)"/>
<ellipse cx="501.2" cy="335.9" rx="4.0" ry="1.1" fill="#3b4fe0" transform="rotate(-12 501.2 335.9)"/>
<ellipse cx="538.2" cy="321.7" rx="4.6" ry="1.1" fill="#3b4fe0" transform="rotate(-12 538.2 321.7)"/>
<ellipse cx="666.3" cy="331.7" rx="2.8" ry="1.1" fill="#3b4fe0" transform="rotate(-12 666.3 331.7)"/>
</g>
</g>
<path d="M492.7 270.5 C498.4 262.6 509.3 256.5 521.2 252.0 C533.0 247.5 547.2 244.1 563.8 243.4 C580.4 242.7 604.6 247.0 620.8 247.7 C636.9 248.4 648.3 250.1 660.6 247.7 C672.9 245.3 684.8 235.4 694.8 233.5 C704.7 231.6 711.4 233.5 720.4 236.3 C729.4 239.2 739.4 246.3 748.8 250.5 C758.3 254.8 768.8 257.9 777.3 261.9 C785.8 266.0 796.0 268.6 800.1 274.7 C804.2 280.9 803.2 291.6 801.8 298.9 C800.4 306.3 795.6 314.8 791.5 318.8 C787.5 322.9 784.4 323.6 777.3 323.4 C770.2 323.2 758.3 316.6 748.8 317.7 C739.4 318.8 729.9 324.8 720.4 330.2 C710.9 335.6 703.8 346.3 691.9 350.2 C680.1 354.0 663.5 353.0 649.2 353.6 C635.0 354.1 620.8 351.2 606.5 353.6 C592.3 355.9 578.1 362.1 563.8 367.8 C549.6 373.5 534.0 383.2 521.2 387.7 C508.3 392.2 494.4 395.4 487.0 394.8 C479.6 394.3 478.5 393.7 477.0 384.3 C475.6 375.0 476.8 353.0 478.5 338.8 C480.1 324.5 484.6 310.3 487.0 298.9 C489.4 287.5 487.0 278.3 492.7 270.5Z" fill="none" stroke="#f6eaea" stroke-width="1.2" opacity="0.9"/>
<rect x="468.5" y="407.2" width="38.6" height="5" fill="#fff"/>
<rect x="906.4" y="209.2" width="355.8" height="209.8" fill="#000"/>
<clipPath id="chO"><path d="M924.9 296.1 C928.7 289.9 941.3 290.9 951.9 287.5 C962.6 284.2 975.6 281.1 988.9 276.2 C1002.2 271.2 1016.4 262.4 1031.6 257.7 C1046.8 252.9 1064.8 251.7 1080.0 247.7 C1095.2 243.7 1110.8 237.2 1122.7 233.5 C1134.6 229.8 1143.6 226.0 1151.2 225.5 C1158.7 225.0 1161.1 226.0 1168.2 230.6 C1175.3 235.3 1186.3 243.9 1193.8 253.4 C1201.4 262.9 1207.8 277.8 1213.8 287.5 C1219.7 297.3 1225.8 299.4 1229.4 311.7 C1233.0 324.1 1235.6 351.5 1235.4 361.5 C1235.2 371.5 1234.9 368.8 1228.0 371.8 C1221.1 374.7 1206.7 375.6 1193.8 379.2 C1181.0 382.8 1164.0 391.0 1151.2 393.4 C1138.3 395.8 1130.3 393.9 1117.0 393.4 C1103.7 392.9 1085.7 390.1 1071.5 390.6 C1057.2 391.0 1044.4 394.1 1031.6 396.3 C1018.8 398.4 1002.0 403.9 994.6 403.4 C987.3 402.8 989.9 397.0 987.5 392.8 C985.1 388.7 983.0 382.9 980.4 378.6 C977.8 374.3 975.2 370.6 971.8 367.2 C968.5 363.9 965.7 361.5 960.5 358.7 C955.2 355.8 945.8 355.8 940.5 350.2 C935.3 344.5 931.8 333.6 929.2 324.5 C926.5 315.5 921.1 302.2 924.9 296.1Z"/></clipPath><clipPath id="chF"><path d="M980.4 338.8 C986.6 330.5 1008.8 333.6 1023.1 331.7 C1037.3 329.8 1051.5 327.6 1065.8 327.4 C1080.0 327.1 1094.2 330.7 1108.5 330.2 C1122.7 329.8 1136.9 327.1 1151.2 324.5 C1165.4 321.9 1181.0 316.9 1193.8 314.6 C1206.7 312.2 1221.1 302.5 1228.0 310.3 C1234.9 318.1 1235.4 351.3 1235.4 361.5 C1235.4 371.8 1234.9 368.8 1228.0 371.8 C1221.1 374.7 1206.7 375.6 1193.8 379.2 C1181.0 382.8 1164.0 391.0 1151.2 393.4 C1138.3 395.8 1130.3 393.9 1117.0 393.4 C1103.7 392.9 1085.7 390.1 1071.5 390.6 C1057.2 391.0 1044.4 394.1 1031.6 396.3 C1018.8 398.4 1002.2 405.8 994.6 403.4 C987.0 400.9 988.4 392.2 986.1 381.5 C983.7 370.7 974.2 347.1 980.4 338.8Z"/></clipPath>
<path d="M924.9 296.1 C928.7 289.9 941.3 290.9 951.9 287.5 C962.6 284.2 975.6 281.1 988.9 276.2 C1002.2 271.2 1016.4 262.4 1031.6 257.7 C1046.8 252.9 1064.8 251.7 1080.0 247.7 C1095.2 243.7 1110.8 237.2 1122.7 233.5 C1134.6 229.8 1143.6 226.0 1151.2 225.5 C1158.7 225.0 1161.1 226.0 1168.2 230.6 C1175.3 235.3 1186.3 243.9 1193.8 253.4 C1201.4 262.9 1207.8 277.8 1213.8 287.5 C1219.7 297.3 1225.8 299.4 1229.4 311.7 C1233.0 324.1 1235.6 351.5 1235.4 361.5 C1235.2 371.5 1234.9 368.8 1228.0 371.8 C1221.1 374.7 1206.7 375.6 1193.8 379.2 C1181.0 382.8 1164.0 391.0 1151.2 393.4 C1138.3 395.8 1130.3 393.9 1117.0 393.4 C1103.7 392.9 1085.7 390.1 1071.5 390.6 C1057.2 391.0 1044.4 394.1 1031.6 396.3 C1018.8 398.4 1002.0 403.9 994.6 403.4 C987.3 402.8 989.9 397.0 987.5 392.8 C985.1 388.7 983.0 382.9 980.4 378.6 C977.8 374.3 975.2 370.6 971.8 367.2 C968.5 363.9 965.7 361.5 960.5 358.7 C955.2 355.8 945.8 355.8 940.5 350.2 C935.3 344.5 931.8 333.6 929.2 324.5 C926.5 315.5 921.1 302.2 924.9 296.1Z" fill="#e9dcde" stroke="#f3e6e6" stroke-width="1.2"/>
<g clip-path="url(#chO)">
<path d="M929.2 300.3 C939.1 298.0 969.9 291.8 988.9 286.1 C1007.9 280.4 1025.4 271.6 1043.0 266.2 C1060.6 260.7 1078.1 258.1 1094.2 253.4 C1110.4 248.6 1127.9 241.1 1139.8 237.7 C1151.6 234.4 1161.1 234.2 1165.4 233.5" fill="none" stroke="#fffafa" stroke-width="5" opacity="1" filter="url(#bl1)"/>
<path d="M932.0 308.9 C942.0 306.3 972.8 299.2 991.8 293.2 C1010.7 287.3 1028.3 278.8 1045.8 273.3 C1063.4 267.9 1080.9 265.2 1097.1 260.5 C1113.2 255.8 1129.6 248.0 1142.6 244.8 C1155.7 241.7 1169.9 242.0 1175.3 241.4" fill="none" stroke="#b3abb3" stroke-width="5" opacity="0.9" filter="url(#bl1)"/>
<path d="M937.7 317.4 C947.7 314.6 978.5 306.4 997.5 300.3 C1016.4 294.3 1034.0 286.6 1051.5 281.3 C1069.1 275.9 1086.6 272.9 1102.8 268.2 C1118.9 263.4 1134.8 255.8 1148.3 252.8 C1161.8 249.9 1178.0 250.9 1183.9 250.5" fill="none" stroke="#fff8f8" stroke-width="6" opacity="1" filter="url(#bl1)"/>
<path d="M946.2 327.4 C955.7 324.3 984.7 315.1 1003.2 308.9 C1021.7 302.7 1039.7 295.7 1057.2 290.4 C1074.8 285.0 1092.3 281.6 1108.5 276.7 C1124.6 271.9 1140.0 264.1 1154.0 261.4 C1168.0 258.7 1186.0 260.6 1192.4 260.5" fill="none" stroke="#aaa2ad" stroke-width="6" opacity="0.9" filter="url(#bl1)"/>
<path d="M956.2 335.9 C965.0 332.8 990.6 323.4 1008.8 317.4 C1027.1 311.5 1047.7 305.4 1065.8 300.3 C1083.8 295.3 1100.9 291.7 1117.0 287.0 C1133.1 282.2 1148.5 274.4 1162.5 271.9 C1176.5 269.4 1194.6 271.9 1201.0 271.9" fill="none" stroke="#fff6f6" stroke-width="6" opacity="1" filter="url(#bl1)"/>
<path d="M966.2 344.5 C974.7 341.4 999.4 331.6 1017.4 326.0 C1035.4 320.4 1056.3 315.4 1074.3 310.9 C1092.3 306.4 1109.4 303.3 1125.5 298.9 C1141.7 294.6 1157.3 287.1 1171.1 284.7 C1184.8 282.3 1201.9 284.7 1208.1 284.7" fill="none" stroke="#a39cac" stroke-width="8" opacity="0.85" filter="url(#bl1)"/>
<path d="M976.1 341.0 C983.9 339.5 1006.2 334.9 1023.1 331.7 C1039.9 328.4 1059.6 324.9 1077.2 321.7 C1094.7 318.5 1111.8 316.5 1128.4 312.6 C1145.0 308.7 1162.1 301.2 1176.8 298.4 C1191.5 295.5 1210.0 296.0 1216.6 295.5" fill="none" stroke="#f4ecee" stroke-width="5" opacity="0.9" filter="url(#bl1)"/>
<path d="M924.9 298.9 C927.7 293.7 939.4 289.0 946.2 293.2 C953.1 297.5 960.5 316.5 966.2 324.5 C971.8 332.6 977.1 331.2 980.4 341.6 C983.7 352.1 987.5 382.9 986.1 387.2 C984.7 391.4 976.1 372.0 971.8 367.2 C967.6 362.5 965.7 361.5 960.5 358.7 C955.2 355.8 945.8 355.8 940.5 350.2 C935.3 344.5 931.8 333.1 929.2 324.5 C926.5 316.0 922.0 304.1 924.9 298.9Z" fill="#b9afb7" opacity="0.75" filter="url(#bl2)"/>
<path d="M937.7 297.5 C938.5 302.0 940.3 315.5 942.4 324.5 C944.5 333.6 949.1 347.1 950.5 351.6" fill="none" stroke="#f8eef0" stroke-width="2.2" opacity="0.8" filter="url(#bl1)"/>
<path d="M947.7 295.5 C948.7 300.8 951.2 316.6 953.8 327.1 C956.4 337.6 961.7 353.4 963.3 358.7" fill="none" stroke="#8f8892" stroke-width="2.2" opacity="0.8" filter="url(#bl1)"/>
<path d="M957.6 298.9 C958.6 304.5 961.1 321.2 963.7 332.4 C966.3 343.5 971.7 360.2 973.3 365.8" fill="none" stroke="#f8eef0" stroke-width="2.2" opacity="0.8" filter="url(#bl1)"/>
<path d="M967.6 318.8 C968.5 323.6 970.6 337.8 973.0 347.3 C975.4 356.8 980.3 371.0 981.8 375.8" fill="none" stroke="#8f8892" stroke-width="2.2" opacity="0.8" filter="url(#bl1)"/>
<path d="M988.9 318.8 C998.4 313.2 1043.5 306.0 1065.8 298.9 C1088.1 291.8 1106.1 282.8 1122.7 276.2 C1139.3 269.5 1153.5 260.0 1165.4 259.1 C1177.2 258.1 1185.8 263.8 1193.8 270.5 C1201.9 277.1 1220.9 290.9 1213.8 298.9 C1206.7 307.0 1175.8 314.1 1151.2 318.8 C1126.5 323.6 1089.5 325.0 1065.8 327.4 C1042.1 329.8 1021.7 334.5 1008.8 333.1 C996.0 331.7 979.4 324.5 988.9 318.8Z" fill="#6f78d8" opacity="0.35" filter="url(#bl4)"/>
<g mask="url(#mkHt)"><rect x="960" y="225" width="280" height="120" filter="url(#ctB3t)" opacity="0.9"/></g>
</g>
<path d="M980.4 338.8 C986.6 330.5 1008.8 333.6 1023.1 331.7 C1037.3 329.8 1051.5 327.6 1065.8 327.4 C1080.0 327.1 1094.2 330.7 1108.5 330.2 C1122.7 329.8 1136.9 327.1 1151.2 324.5 C1165.4 321.9 1181.0 316.9 1193.8 314.6 C1206.7 312.2 1221.1 302.5 1228.0 310.3 C1234.9 318.1 1235.4 351.3 1235.4 361.5 C1235.4 371.8 1234.9 368.8 1228.0 371.8 C1221.1 374.7 1206.7 375.6 1193.8 379.2 C1181.0 382.8 1164.0 391.0 1151.2 393.4 C1138.3 395.8 1130.3 393.9 1117.0 393.4 C1103.7 392.9 1085.7 390.1 1071.5 390.6 C1057.2 391.0 1044.4 394.1 1031.6 396.3 C1018.8 398.4 1002.2 405.8 994.6 403.4 C987.0 400.9 988.4 392.2 986.1 381.5 C983.7 370.7 974.2 347.1 980.4 338.8Z" fill="url(#gFaceH)"/>
<g clip-path="url(#chF)">
<rect x="975" y="305" width="265" height="100" filter="url(#ctB4)" opacity="0.8"/>
<g mask="url(#mkH)">
<path d="M980.4 338.8 C986.6 333.3 1008.8 333.6 1023.1 331.7 C1037.3 329.8 1051.5 327.6 1065.8 327.4 C1080.0 327.1 1094.2 330.7 1108.5 330.2 C1122.7 329.8 1136.9 327.1 1151.2 324.5 C1165.4 321.9 1181.0 316.9 1193.8 314.6 C1206.7 312.2 1221.8 306.3 1228.0 310.3 C1234.2 314.3 1243.7 331.7 1230.8 338.8 C1218.0 345.9 1178.7 349.7 1151.2 353.0 C1123.6 356.3 1093.3 356.8 1065.8 358.7 C1038.3 360.6 1000.3 367.7 986.1 364.4 C971.8 361.1 974.2 344.2 980.4 338.8Z" fill="#3a48c8" opacity="0.4" filter="url(#bl4)"/>
<rect x="975" y="305" width="265" height="100" filter="url(#ctB3)"/>
</g>
<g opacity="0.5"><rect x="990" y="335" width="120" height="22" filter="url(#ctW)"/></g>
</g>
<path d="M980.4 338.8 C986.6 330.5 1008.8 333.6 1023.1 331.7 C1037.3 329.8 1051.5 327.6 1065.8 327.4 C1080.0 327.1 1094.2 330.7 1108.5 330.2 C1122.7 329.8 1136.9 327.1 1151.2 324.5 C1165.4 321.9 1181.0 316.9 1193.8 314.6 C1206.7 312.2 1221.1 302.5 1228.0 310.3 C1234.9 318.1 1235.4 351.3 1235.4 361.5 C1235.4 371.8 1234.9 368.8 1228.0 371.8 C1221.1 374.7 1206.7 375.6 1193.8 379.2 C1181.0 382.8 1164.0 391.0 1151.2 393.4 C1138.3 395.8 1130.3 393.9 1117.0 393.4 C1103.7 392.9 1085.7 390.1 1071.5 390.6 C1057.2 391.0 1044.4 394.1 1031.6 396.3 C1018.8 398.4 1002.2 405.8 994.6 403.4 C987.0 400.9 988.4 392.2 986.1 381.5 C983.7 370.7 974.2 347.1 980.4 338.8Z" fill="none" stroke="#f6eaea" stroke-width="1.1" opacity="0.85"/>
<rect x="916.4" y="407.2" width="29.6" height="5" fill="#fff"/>
<path d="M388.8 372.3h55.2v10.8h-55.2z M411.2 351h10.8v54h-10.8z" fill="#000"/>
<path d="M835.2 365.8H862V352.2L889.2 379 862 405.8V391.8H835.2z" fill="#000"/>
<text font-size="22.4" fill="#000" transform="translate(854.8 357.4) rotate(-90)">Intercalating</text>
<use href="#saxs0" x="64.7" y="441.4"/>
<path d="M57.6 651.2 L58.8 651.2 L60.1 651.2 L61.3 651.2 L62.5 651.2 L63.8 651.2 L65.0 651.2 L66.2 651.2 L67.4 651.2 L68.7 651.2 L69.9 651.2 L71.1 651.2 L72.4 651.2 L73.6 651.2 L74.8 651.2 L76.1 651.2 L77.3 651.2 L78.5 651.2 L79.8 651.2 L81.0 651.2 L82.2 651.2 L83.4 651.2 L84.7 651.2 L85.9 651.2 L87.1 651.2 L88.4 651.2 L89.6 651.2 L90.8 651.2 L92.1 651.2 L93.3 651.2 L94.5 651.2 L95.8 651.2 L97.0 651.2 L98.2 651.1 L99.4 651.1 L100.7 651.1 L101.9 651.1 L103.1 651.1 L104.4 651.1 L105.6 651.0 L106.8 651.0 L108.1 651.0 L109.3 651.0 L110.5 650.9 L111.8 650.9 L113.0 650.8 L114.2 650.8 L115.4 650.7 L116.7 650.6 L117.9 650.5 L119.1 650.5 L120.4 650.3 L121.6 650.2 L122.8 650.1 L124.1 649.9 L125.3 649.8 L126.5 649.6 L127.8 649.3 L129.0 649.1 L130.2 648.8 L131.4 648.5 L132.7 648.2 L133.9 647.8 L135.1 647.4 L136.4 646.9 L137.6 646.4 L138.8 645.9 L140.1 645.2 L141.3 644.6 L142.5 643.8 L143.8 643.0 L145.0 642.2 L146.2 641.2 L147.4 640.2 L148.7 639.1 L149.9 637.9 L151.1 636.6 L152.4 635.2 L153.6 633.6 L154.8 632.0 L156.1 630.3 L157.3 628.5 L158.5 626.5 L159.8 624.4 L161.0 622.2 L162.2 619.9 L163.4 617.4 L164.7 614.8 L165.9 612.0 L167.1 609.2 L168.4 606.1 L169.6 603.0 L170.8 599.7 L172.1 596.3 L173.3 592.8 L174.5 589.1 L175.8 585.4 L177.0 581.5 L178.2 577.5 L179.4 573.5 L180.7 569.3 L181.9 565.1 L183.1 560.8 L184.4 556.4 L185.6 552.0 L186.8 547.6 L188.1 543.2 L189.3 538.8 L190.5 534.4 L191.8 530.0 L193.0 525.7 L194.2 521.4 L195.4 517.3 L196.7 513.2 L197.9 509.3 L199.1 505.5 L200.4 501.8 L201.6 498.3 L202.8 495.0 L204.1 491.9 L205.3 489.1 L206.5 486.4 L207.8 484.0 L209.0 481.8 L210.2 479.9 L211.4 478.3 L212.7 477.0 L213.9 476.0 L215.1 475.2 L216.4 474.8 L217.6 474.6 L218.8 474.8 L220.1 475.2 L221.3 476.0 L222.5 477.0 L223.8 478.3 L225.0 479.9 L226.2 481.8 L227.4 484.0 L228.7 486.4 L229.9 489.1 L231.1 491.9 L232.4 495.0 L233.6 498.3 L234.8 501.8 L236.1 505.5 L237.3 509.3 L238.5 513.2 L239.8 517.3 L241.0 521.4 L242.2 525.7 L243.4 530.0 L244.7 534.4 L245.9 538.8 L247.1 543.2 L248.4 547.6 L249.6 552.0 L250.8 556.4 L252.1 560.8 L253.3 565.1 L254.5 569.3 L255.8 573.5 L257.0 577.5 L258.2 581.5 L259.4 585.4 L260.7 589.1 L261.9 592.8 L263.1 596.3 L264.4 599.7 L265.6 603.0 L266.8 606.1 L268.1 609.2 L269.3 612.0 L270.5 614.8 L271.8 617.4 L273.0 619.9 L274.2 622.2 L275.4 624.4 L276.7 626.5 L277.9 628.5 L279.1 630.3 L280.4 632.0 L281.6 633.6 L282.8 635.2 L284.1 636.6 L285.3 637.9 L286.5 639.1 L287.8 640.2 L289.0 641.2 L290.2 642.2 L291.4 643.0 L292.7 643.8 L293.9 644.6 L295.1 645.2 L296.4 645.9 L297.6 646.4 L298.8 646.9 L300.1 647.4 L301.3 647.8 L302.5 648.2 L303.8 648.5 L305.0 648.8 L306.2 649.1 L307.4 649.3 L308.7 649.6 L309.9 649.8 L311.1 649.9 L312.4 650.1 L313.6 650.2 L314.8 650.3 L316.1 650.5 L317.3 650.5 L318.5 650.6 L319.8 650.7 L321.0 650.8 L322.2 650.8 L323.4 650.9 L324.7 650.9 L325.9 651.0 L327.1 651.0 L328.4 651.0 L329.6 651.0 L330.8 651.1 L332.1 651.1 L333.3 651.1 L334.5 651.1 L335.8 651.1 L337.0 651.1 L338.2 651.2 L339.4 651.2 L340.7 651.2 L341.9 651.2 L343.1 651.2 L344.4 651.2 L345.6 651.2 L346.8 651.2 L348.1 651.2 L349.3 651.2 L350.5 651.2 L351.8 651.2 L353.0 651.2 L354.2 651.2 L355.4 651.2 L356.7 651.2 L357.9 651.2 L359.1 651.2 L360.4 651.2 L361.6 651.2 L362.8 651.2 L364.1 651.2 L365.3 651.2 L366.5 651.2 L367.8 651.2 L369.0 651.2 L370.2 651.2 L371.4 651.2 L372.7 651.2 L373.9 651.2 L375.1 651.2 L376.4 651.2 L377.6 651.2" fill="none" stroke="#000" stroke-width="1.7" stroke-linejoin="round"/>
<rect x="57.6" y="434.0" width="320" height="249.8" fill="none" stroke="#000" stroke-width="1.6"/>
<path d="M69.9 683.8v6.4 M106.8 683.8v4.2 M143.8 683.8v6.4 M180.7 683.8v4.2 M217.6 683.8v6.4 M254.5 683.8v4.2 M291.4 683.8v6.4 M328.4 683.8v4.2 M365.3 683.8v6.4" stroke="#000" stroke-width="1.5" fill="none"/>
<g font-size="22.5" text-anchor="middle" fill="#000">
<text x="69.5" y="709.6">-60</text>
<text x="143.4" y="709.6">-30</text>
<text x="217.6" y="709.6">0</text>
<text x="291.4" y="709.6">30</text>
<text x="365.3" y="709.6">60</text>
<text x="217.6" y="733.6">Azimuthal angle (<tspan font-size="14.5" font-weight="bold" dy="-7.6">o</tspan><tspan dy="7.6">)</tspan></text>
</g>
<text font-size="22.5" text-anchor="middle" fill="#000" transform="translate(44.0 557.5) rotate(-90)">Intensity (a.u.)</text>
<text font-size="21" fill="#000" x="134.2" y="670.8"><tspan font-style="italic">f</tspan> = 0.874</text>
<text font-size="21" fill="#000" x="249.6" y="670.8">0.004</text>
<path d="M225.0 663.8h15M232.5 657.8v12M225.0 671.8h15" stroke="#000" stroke-width="1.25" fill="none"/>
<use href="#saxs1" x="501.8" y="441.4"/>
<path d="M493.3 652.2 L494.5 652.1 L495.8 652.0 L497.0 651.9 L498.2 651.8 L499.5 651.7 L500.7 651.6 L501.9 651.5 L503.1 651.3 L504.4 651.2 L505.6 651.1 L506.8 650.9 L508.1 650.7 L509.3 650.6 L510.5 650.4 L511.8 650.2 L513.0 650.0 L514.2 649.8 L515.5 649.6 L516.7 649.4 L517.9 649.1 L519.1 648.9 L520.4 648.6 L521.6 648.3 L522.8 648.0 L524.1 647.7 L525.3 647.3 L526.5 647.0 L527.8 646.6 L529.0 646.2 L530.2 645.8 L531.5 645.4 L532.7 644.9 L533.9 644.4 L535.1 643.9 L536.4 643.4 L537.6 642.8 L538.8 642.2 L540.1 641.6 L541.3 641.0 L542.5 640.3 L543.8 639.6 L545.0 638.9 L546.2 638.1 L547.5 637.3 L548.7 636.4 L549.9 635.6 L551.1 634.7 L552.4 633.7 L553.6 632.7 L554.8 631.7 L556.1 630.6 L557.3 629.5 L558.5 628.4 L559.8 627.2 L561.0 625.9 L562.2 624.6 L563.5 623.3 L564.7 621.9 L565.9 620.5 L567.1 619.0 L568.4 617.5 L569.6 615.9 L570.8 614.3 L572.1 612.7 L573.3 610.9 L574.5 609.2 L575.8 607.4 L577.0 605.5 L578.2 603.6 L579.5 601.7 L580.7 599.7 L581.9 597.6 L583.1 595.5 L584.4 593.4 L585.6 591.2 L586.8 589.0 L588.1 586.7 L589.3 584.4 L590.5 582.0 L591.8 579.7 L593.0 577.2 L594.2 574.8 L595.5 572.3 L596.7 569.8 L597.9 567.2 L599.1 564.6 L600.4 562.0 L601.6 559.4 L602.8 556.8 L604.1 554.1 L605.3 551.5 L606.5 548.8 L607.8 546.1 L609.0 543.4 L610.2 540.7 L611.5 538.0 L612.7 535.4 L613.9 532.7 L615.1 530.0 L616.4 527.4 L617.6 524.8 L618.8 522.2 L620.1 519.6 L621.3 517.1 L622.5 514.6 L623.8 512.2 L625.0 509.7 L626.2 507.4 L627.5 505.1 L628.7 502.8 L629.9 500.7 L631.1 498.5 L632.4 496.5 L633.6 494.5 L634.8 492.6 L636.1 490.8 L637.3 489.1 L638.5 487.4 L639.8 485.9 L641.0 484.4 L642.2 483.1 L643.5 481.8 L644.7 480.7 L645.9 479.6 L647.1 478.7 L648.4 477.9 L649.6 477.1 L650.8 476.6 L652.1 476.1 L653.3 475.7 L654.5 475.5 L655.8 475.3 L657.0 475.3 L658.2 475.4 L659.5 475.6 L660.7 476.0 L661.9 476.4 L663.1 477.0 L664.4 477.7 L665.6 478.5 L666.8 479.4 L668.1 480.5 L669.3 481.6 L670.5 482.8 L671.8 484.2 L673.0 485.6 L674.2 487.1 L675.5 488.7 L676.7 490.5 L677.9 492.3 L679.1 494.1 L680.4 496.1 L681.6 498.1 L682.8 500.2 L684.1 502.4 L685.3 504.6 L686.5 506.9 L687.8 509.3 L689.0 511.7 L690.2 514.1 L691.5 516.6 L692.7 519.1 L693.9 521.7 L695.1 524.3 L696.4 526.9 L697.6 529.5 L698.8 532.2 L700.1 534.8 L701.3 537.5 L702.5 540.2 L703.8 542.9 L705.0 545.6 L706.2 548.2 L707.5 550.9 L708.7 553.6 L709.9 556.2 L711.1 558.9 L712.4 561.5 L713.6 564.1 L714.8 566.7 L716.1 569.3 L717.3 571.8 L718.5 574.3 L719.8 576.7 L721.0 579.2 L722.2 581.6 L723.5 583.9 L724.7 586.2 L725.9 588.5 L727.1 590.8 L728.4 592.9 L729.6 595.1 L730.8 597.2 L732.1 599.2 L733.3 601.3 L734.5 603.2 L735.8 605.1 L737.0 607.0 L738.2 608.8 L739.5 610.6 L740.7 612.3 L741.9 614.0 L743.1 615.6 L744.4 617.2 L745.6 618.7 L746.8 620.2 L748.1 621.6 L749.3 623.0 L750.5 624.4 L751.8 625.7 L753.0 626.9 L754.2 628.1 L755.5 629.3 L756.7 630.4 L757.9 631.5 L759.1 632.5 L760.4 633.5 L761.6 634.5 L762.8 635.4 L764.1 636.3 L765.3 637.1 L766.5 637.9 L767.8 638.7 L769.0 639.5 L770.2 640.2 L771.5 640.8 L772.7 641.5 L773.9 642.1 L775.1 642.7 L776.4 643.3 L777.6 643.8 L778.8 644.3 L780.1 644.8 L781.3 645.3 L782.5 645.7 L783.8 646.1 L785.0 646.5 L786.2 646.9 L787.5 647.3 L788.7 647.6 L789.9 647.9 L791.1 648.2 L792.4 648.5 L793.6 648.8 L794.8 649.1 L796.1 649.3 L797.3 649.5 L798.5 649.8 L799.8 650.0 L801.0 650.2 L802.2 650.4 L803.5 650.5 L804.7 650.7 L805.9 650.9 L807.1 651.0 L808.4 651.2 L809.6 651.3 L810.8 651.4 L812.1 651.6 L813.3 651.7" fill="none" stroke="#000" stroke-width="1.7" stroke-linejoin="round"/>
<rect x="493.3" y="434.0" width="320" height="249.8" fill="none" stroke="#000" stroke-width="1.6"/>
<path d="M505.6 683.8v6.4 M542.5 683.8v4.2 M579.5 683.8v6.4 M616.4 683.8v4.2 M653.3 683.8v6.4 M690.2 683.8v4.2 M727.1 683.8v6.4 M764.1 683.8v4.2 M801.0 683.8v6.4" stroke="#000" stroke-width="1.5" fill="none"/>
<g font-size="22.5" text-anchor="middle" fill="#000">
<text x="505.2" y="709.6">-60</text>
<text x="579.1" y="709.6">-30</text>
<text x="653.3" y="709.6">0</text>
<text x="727.1" y="709.6">30</text>
<text x="801.0" y="709.6">60</text>
<text x="653.3" y="733.6">Azimuthal angle (<tspan font-size="14.5" font-weight="bold" dy="-7.6">o</tspan><tspan dy="7.6">)</tspan></text>
</g>
<text font-size="22.5" text-anchor="middle" fill="#000" transform="translate(479.7 557.5) rotate(-90)">Intensity (a.u.)</text>
<text font-size="21" fill="#000" x="569.9" y="670.8"><tspan font-style="italic">f</tspan> = 0.709</text>
<text font-size="21" fill="#000" x="685.3" y="670.8">0.012</text>
<path d="M660.7 663.8h15M668.2 657.8v12M660.7 671.8h15" stroke="#000" stroke-width="1.25" fill="none"/>
<use href="#saxs2" x="949.8" y="441.4"/>
<path d="M941.7 651.4 L942.9 651.4 L944.2 651.4 L945.4 651.4 L946.6 651.4 L947.9 651.4 L949.1 651.4 L950.3 651.4 L951.5 651.4 L952.8 651.3 L954.0 651.3 L955.2 651.3 L956.5 651.3 L957.7 651.3 L958.9 651.3 L960.2 651.3 L961.4 651.2 L962.6 651.2 L963.9 651.2 L965.1 651.2 L966.3 651.1 L967.5 651.1 L968.8 651.1 L970.0 651.1 L971.2 651.0 L972.5 651.0 L973.7 650.9 L974.9 650.9 L976.2 650.8 L977.4 650.8 L978.6 650.7 L979.9 650.6 L981.1 650.6 L982.3 650.5 L983.5 650.4 L984.8 650.3 L986.0 650.2 L987.2 650.1 L988.5 649.9 L989.7 649.8 L990.9 649.7 L992.2 649.5 L993.4 649.3 L994.6 649.1 L995.9 648.9 L997.1 648.6 L998.3 648.4 L999.5 648.1 L1000.8 647.8 L1002.0 647.5 L1003.2 647.1 L1004.5 646.7 L1005.7 646.3 L1006.9 645.8 L1008.2 645.3 L1009.4 644.8 L1010.6 644.2 L1011.9 643.6 L1013.1 643.0 L1014.3 642.3 L1015.5 641.5 L1016.8 640.7 L1018.0 639.8 L1019.2 638.9 L1020.5 637.9 L1021.7 636.9 L1022.9 635.8 L1024.2 634.6 L1025.4 633.3 L1026.6 632.0 L1027.9 630.6 L1029.1 629.1 L1030.3 627.6 L1031.5 626.0 L1032.8 624.2 L1034.0 622.4 L1035.2 620.5 L1036.5 618.5 L1037.7 616.5 L1038.9 614.3 L1040.2 612.0 L1041.4 609.7 L1042.6 607.3 L1043.9 604.7 L1045.1 602.1 L1046.3 599.4 L1047.5 596.6 L1048.8 593.7 L1050.0 590.8 L1051.2 587.7 L1052.5 584.6 L1053.7 581.4 L1054.9 578.1 L1056.2 574.8 L1057.4 571.4 L1058.6 567.9 L1059.9 564.4 L1061.1 560.9 L1062.3 557.3 L1063.5 553.7 L1064.8 550.1 L1066.0 546.4 L1067.2 542.8 L1068.5 539.1 L1069.7 535.5 L1070.9 531.8 L1072.2 528.2 L1073.4 524.7 L1074.6 521.2 L1075.9 517.7 L1077.1 514.3 L1078.3 511.0 L1079.5 507.8 L1080.8 504.6 L1082.0 501.6 L1083.2 498.7 L1084.5 495.9 L1085.7 493.3 L1086.9 490.8 L1088.2 488.4 L1089.4 486.2 L1090.6 484.2 L1091.9 482.3 L1093.1 480.7 L1094.3 479.2 L1095.5 477.9 L1096.8 476.8 L1098.0 475.9 L1099.2 475.2 L1100.5 474.7 L1101.7 474.5 L1102.9 474.4 L1104.2 474.6 L1105.4 474.9 L1106.6 475.5 L1107.9 476.2 L1109.1 477.2 L1110.3 478.4 L1111.5 479.8 L1112.8 481.3 L1114.0 483.1 L1115.2 485.0 L1116.5 487.1 L1117.7 489.3 L1118.9 491.8 L1120.2 494.3 L1121.4 497.0 L1122.6 499.9 L1123.9 502.8 L1125.1 505.9 L1126.3 509.0 L1127.5 512.3 L1128.8 515.7 L1130.0 519.1 L1131.2 522.6 L1132.5 526.1 L1133.7 529.7 L1134.9 533.3 L1136.2 536.9 L1137.4 540.6 L1138.6 544.2 L1139.9 547.9 L1141.1 551.5 L1142.3 555.1 L1143.5 558.8 L1144.8 562.3 L1146.0 565.8 L1147.2 569.3 L1148.5 572.8 L1149.7 576.1 L1150.9 579.4 L1152.2 582.7 L1153.4 585.9 L1154.6 588.9 L1155.9 592.0 L1157.1 594.9 L1158.3 597.7 L1159.5 600.5 L1160.8 603.2 L1162.0 605.8 L1163.2 608.3 L1164.5 610.7 L1165.7 613.0 L1166.9 615.2 L1168.2 617.3 L1169.4 619.3 L1170.6 621.3 L1171.9 623.2 L1173.1 624.9 L1174.3 626.6 L1175.5 628.2 L1176.8 629.8 L1178.0 631.2 L1179.2 632.6 L1180.5 633.9 L1181.7 635.1 L1182.9 636.2 L1184.2 637.3 L1185.4 638.3 L1186.6 639.3 L1187.9 640.2 L1189.1 641.0 L1190.3 641.8 L1191.5 642.6 L1192.8 643.2 L1194.0 643.9 L1195.2 644.5 L1196.5 645.0 L1197.7 645.5 L1198.9 646.0 L1200.2 646.5 L1201.4 646.9 L1202.6 647.2 L1203.9 647.6 L1205.1 647.9 L1206.3 648.2 L1207.5 648.5 L1208.8 648.7 L1210.0 649.0 L1211.2 649.2 L1212.5 649.4 L1213.7 649.6 L1214.9 649.7 L1216.2 649.9 L1217.4 650.0 L1218.6 650.1 L1219.9 650.2 L1221.1 650.3 L1222.3 650.4 L1223.5 650.5 L1224.8 650.6 L1226.0 650.7 L1227.2 650.7 L1228.5 650.8 L1229.7 650.9 L1230.9 650.9 L1232.2 651.0 L1233.4 651.0 L1234.6 651.0 L1235.9 651.1 L1237.1 651.1 L1238.3 651.1 L1239.5 651.2 L1240.8 651.2 L1242.0 651.2 L1243.2 651.2 L1244.5 651.2 L1245.7 651.3 L1246.9 651.3 L1248.2 651.3 L1249.4 651.3 L1250.6 651.3 L1251.9 651.3 L1253.1 651.3 L1254.3 651.4 L1255.5 651.4 L1256.8 651.4 L1258.0 651.4 L1259.2 651.4 L1260.5 651.4 L1261.7 651.4" fill="none" stroke="#000" stroke-width="1.7" stroke-linejoin="round"/>
<rect x="941.7" y="434.0" width="320" height="249.8" fill="none" stroke="#000" stroke-width="1.6"/>
<path d="M954.0 683.8v6.4 M990.9 683.8v4.2 M1027.9 683.8v6.4 M1064.8 683.8v4.2 M1101.7 683.8v6.4 M1138.6 683.8v4.2 M1175.5 683.8v6.4 M1212.5 683.8v4.2 M1249.4 683.8v6.4" stroke="#000" stroke-width="1.5" fill="none"/>
<g font-size="22.5" text-anchor="middle" fill="#000">
<text x="953.6" y="709.6">-60</text>
<text x="1027.5" y="709.6">-30</text>
<text x="1101.7" y="709.6">0</text>
<text x="1175.5" y="709.6">30</text>
<text x="1249.4" y="709.6">60</text>
<text x="1101.7" y="733.6">Azimuthal angle (<tspan font-size="14.5" font-weight="bold" dy="-7.6">o</tspan><tspan dy="7.6">)</tspan></text>
</g>
<text font-size="22.5" text-anchor="middle" fill="#000" transform="translate(928.1 557.5) rotate(-90)">Intensity (a.u.)</text>
<text font-size="21" fill="#000" x="1018.3" y="670.8"><tspan font-style="italic">f</tspan> = 0.813</text>
<text font-size="21" fill="#000" x="1133.7" y="670.8">0.007</text>
<path d="M1109.1 663.8h15M1116.6 657.8v12M1109.1 671.8h15" stroke="#000" stroke-width="1.25" fill="none"/>
<rect x="153.4" y="1002.0" width="80.6" height="60.3" fill="#008000" stroke="#00b400" stroke-width="0.8"/>
<rect x="237.6" y="856.0" width="80.4" height="206.3" fill="#ff0000"/>
<rect x="322.0" y="909.0" width="80.0" height="153.3" fill="#0000ff"/>
<rect x="508.0" y="1043.0" width="80.0" height="19.3" fill="#008000" stroke="#00b400" stroke-width="0.8"/>
<rect x="592.0" y="1033.0" width="80.5" height="29.3" fill="#ff0000"/>
<rect x="676.0" y="1034.0" width="80.0" height="28.3" fill="#0000ff"/>
<rect x="862.5" y="843.0" width="80.0" height="219.3" fill="#008000" stroke="#00b400" stroke-width="0.8"/>
<rect x="946.5" y="819.0" width="79.5" height="243.3" fill="#ff0000"/>
<rect x="1030.5" y="858.0" width="79.9" height="204.3" fill="#0000ff"/>
<g stroke="#000" stroke-width="1.5" fill="none">
<path d="M193.5 997.6V1006.4M188.0 997.6h11M188.0 1006.4h11"/>
<path d="M278.0 851.5V860.5M272.5 851.5h11M272.5 860.5h11"/>
<path d="M362.0 894.0V924.0M356.5 894.0h11M356.5 924.0h11"/>
<path d="M548.5 1034.0V1052.5M543.0 1034.0h11M543.0 1052.5h11"/>
<path d="M632.5 1031.0V1034.5M627.0 1031.0h11M627.0 1034.5h11"/>
<path d="M716.5 1024.5V1043.5M711.0 1024.5h11M711.0 1043.5h11"/>
<path d="M903.0 825.0V861.5M897.5 825.0h11M897.5 861.5h11"/>
<path d="M987.5 812.0V826.0M982.0 812.0h11M982.0 826.0h11"/>
<path d="M1070.4 847.0V870.0M1064.9 847.0h11M1064.9 870.0h11"/>
</g>
<g stroke="#000" stroke-width="1.6" fill="none">
<path d="M100.6 779.3H1163.6 M100.6 1062.3H1163.6"/>
<path d="M277.8 1062.3v6.6"/>
<path d="M632.0 1062.3v6.6"/>
<path d="M986.6 1062.3v6.6"/>
</g>
<g stroke="#008000" stroke-width="1.6" fill="none">
<path d="M100.6 778.5V1063.1"/>
<path d="M100.6 1062.3h-6.6"/>
<path d="M100.6 1026.9h-3.6"/>
<path d="M100.6 991.5h-6.6"/>
<path d="M100.6 956.2h-3.6"/>
<path d="M100.6 920.8h-6.6"/>
<path d="M100.6 885.4h-3.6"/>
<path d="M100.6 850.0h-6.6"/>
<path d="M100.6 814.7h-3.6"/>
<path d="M100.6 779.3h-6.6"/>
</g>
<g font-size="22.5" fill="#008000" text-anchor="end">
<text x="90.2" y="1070.2">100</text>
<text x="90.2" y="999.4">200</text>
<text x="90.2" y="928.7">300</text>
<text x="90.2" y="857.9">400</text>
<text x="90.2" y="787.2">500</text>
</g>
<text font-size="22.5" fill="#008000" text-anchor="middle" transform="translate(42.4 919.5) rotate(-90)">Tensile strength (MPa)</text>
<g stroke="#ff0000" stroke-width="1.6" fill="none">
<path d="M1163.6 778.5V1063.1"/>
<path d="M1163.6 1062.3h6.4"/>
<path d="M1163.6 1026.9h3.8"/>
<path d="M1163.6 991.5h6.4"/>
<path d="M1163.6 956.2h3.8"/>
<path d="M1163.6 920.8h6.4"/>
<path d="M1163.6 885.4h3.8"/>
<path d="M1163.6 850.0h6.4"/>
<path d="M1163.6 814.7h3.8"/>
<path d="M1163.6 779.3h6.4"/>
</g>
<g font-size="22.5" fill="#ff0000">
<text x="1171.6" y="1070.2">4</text>
<text x="1171.6" y="999.4">6</text>
<text x="1171.6" y="928.7">8</text>
<text x="1171.6" y="857.9">10</text>
<text x="1171.6" y="787.2">12</text>
</g>
<text font-size="22.8" fill="#ff0000" text-anchor="middle" transform="translate(1218.6 919.5) rotate(-90)">Electrical conductivity (kS cm<tspan font-size="14" dy="-8">-1</tspan><tspan dy="8">)</tspan></text>
<g stroke="#0000ff" stroke-width="1.6" fill="none">
<path d="M1238.4 778.5V1063.1"/>
<path d="M1238.4 1062.3h6.2"/>
<path d="M1238.4 1015.1h3.4"/>
<path d="M1238.4 968.0h6.2"/>
<path d="M1238.4 920.8h3.4"/>
<path d="M1238.4 873.6h6.2"/>
<path d="M1238.4 826.5h3.4"/>
<path d="M1238.4 779.3h6.2"/>
</g>
<g font-size="22.5" fill="#0000ff">
<text x="1246.4" y="1070.2">50</text>
<text x="1246.4" y="975.9">55</text>
<text x="1246.4" y="881.5">60</text>
<text x="1246.4" y="787.2">65</text>
</g>
<text font-size="22.5" fill="#0000ff" text-anchor="middle" transform="translate(1294 919.5) rotate(-90)">EMI SE (dB)</text>
<rect x="128.4" y="799.4" width="39.6" height="18" fill="#008000" stroke="#00c000" stroke-width="0.8"/>
<rect x="344" y="799" width="40" height="18.8" fill="#ff0000"/>
<rect x="614" y="799" width="40" height="18.8" fill="#0000ff"/>
<g font-size="20.8">
<text x="173.6" y="815.6" fill="#008000">Tensile strength</text>
<text x="389.6" y="815.6" fill="#ff0000">Electrical conductivity</text>
<text x="659.6" y="815.6" fill="#0000ff">EMI SE</text>
</g>
<g font-size="22.5" fill="#000" text-anchor="end">
<text transform="translate(289.1 1082.2) rotate(-23.2)">LM film</text>
<text transform="translate(643.3 1082.2) rotate(-23.2)">SM film</text>
<text transform="translate(997.9 1082.2) rotate(-23.2)">IDM film</text>
</g>
<g font-size="27" font-weight="bold">
<text x="28.8" y="43.8" fill="#000">a</text>
<text x="465.4" y="43.6" fill="#000">d</text>
<text x="912.4" y="43.8" fill="#000">g</text>
<text x="30" y="233.6" fill="#fff">b</text>
<text x="466" y="233.6" fill="#fff">e</text>
<text x="914" y="233.6" fill="#fff">h</text>
<text x="29.5" y="450.7" fill="#000">c</text>
<text x="466.4" y="450.6" fill="#000">f</text>
<text x="914.4" y="450.6" fill="#000">i</text>
<text x="27" y="780" fill="#000">j</text>
</g>
</svg></body></html>
